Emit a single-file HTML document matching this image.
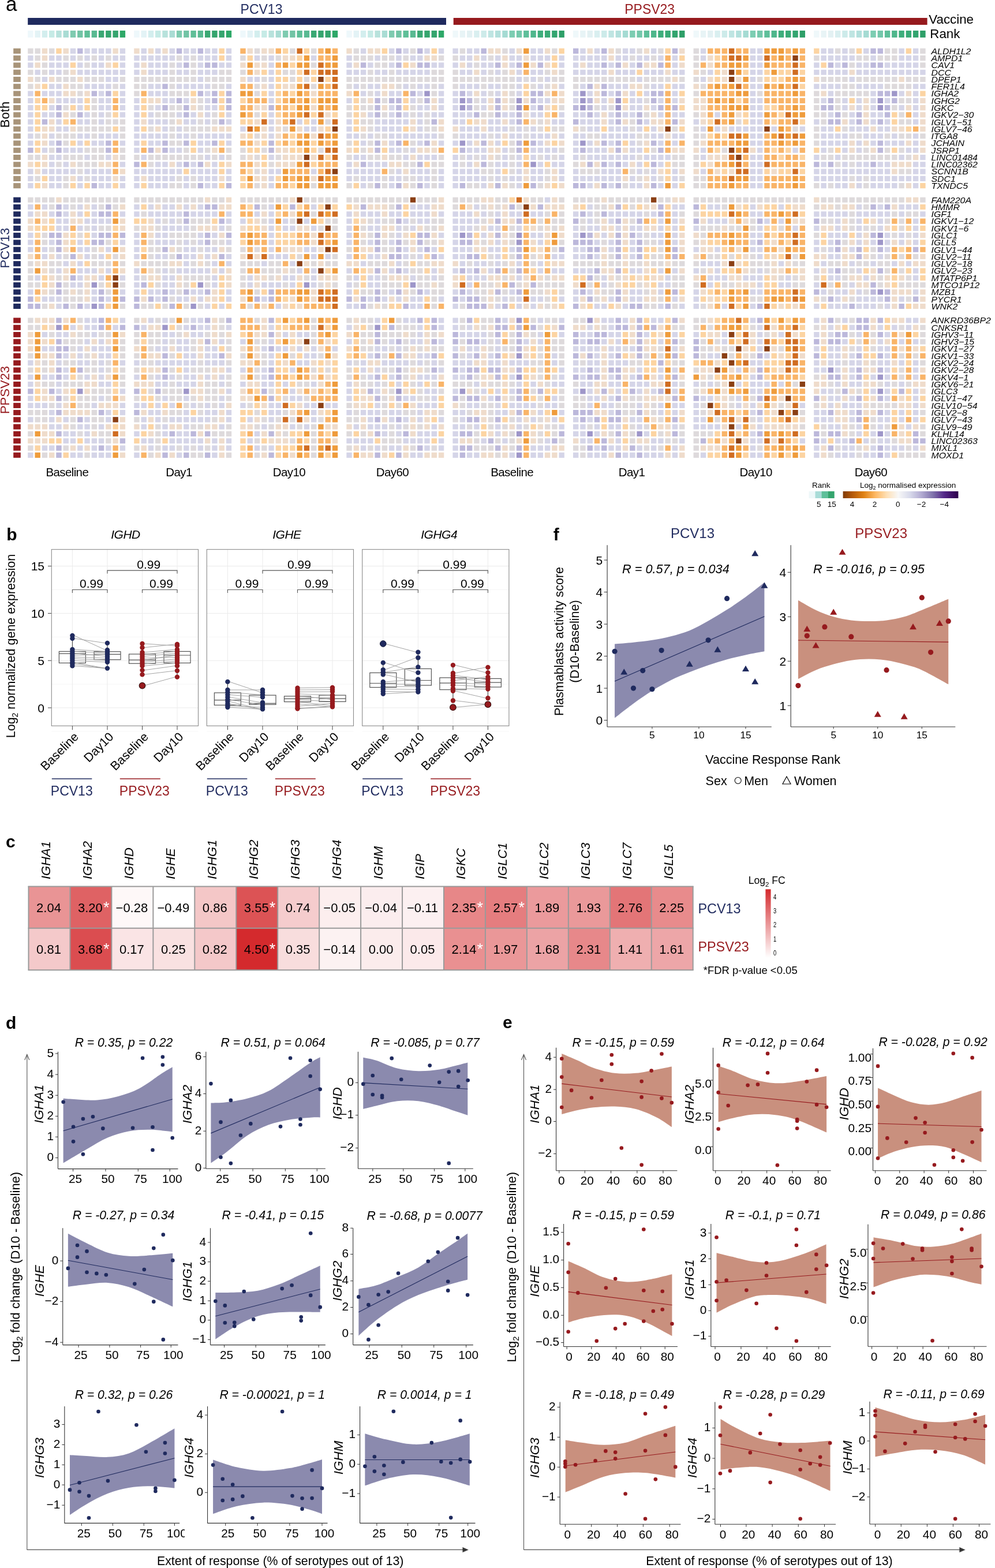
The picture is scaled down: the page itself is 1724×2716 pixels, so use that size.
<!DOCTYPE html>
<html><head><meta charset="utf-8"><title>Figure</title><style>html,body{margin:0;padding:0;background:#fff;}svg{display:block;}text{font-family:"Liberation Sans",Arial,sans-serif;}</style></head><body>
<svg xmlns="http://www.w3.org/2000/svg" width="1724" height="2716" viewBox="0 0 1724 2716" font-family="Liberation Sans, Arial, sans-serif">
<rect width="100%" height="100%" fill="#fff"/>
<text x="10" y="19" font-size="35">a</text>
<text x="453" y="24.3" font-size="23" text-anchor="middle" fill="#1f2a5e">PCV13</text>
<text x="1125.7" y="24.3" font-size="23" text-anchor="middle" fill="#961a1e">PPSV23</text>
<rect x="48.2" y="31" width="724.8" height="12" fill="#1f2a5e"/>
<rect x="785.7" y="31" width="820.9" height="12" fill="#961a1e"/>
<text x="1609.3" y="40.8" font-size="22.3">Vaccine</text>
<text x="1611.3" y="66.3" font-size="22.3">Rank</text>
<rect x="48.2" y="53" width="9.4" height="12" fill="#eef8fb"/>
<rect x="60.47" y="53" width="9.4" height="12" fill="#e3f3f6"/>
<rect x="72.74" y="53" width="9.4" height="12" fill="#d3eeee"/>
<rect x="85.01" y="53" width="9.4" height="12" fill="#c6ebe6"/>
<rect x="97.28" y="53" width="9.4" height="12" fill="#b8e2dc"/>
<rect x="109.55" y="53" width="9.4" height="12" fill="#a9dcd4"/>
<rect x="121.82" y="53" width="9.4" height="12" fill="#7fcbb0"/>
<rect x="134.09" y="53" width="9.4" height="12" fill="#72c4a5"/>
<rect x="146.36" y="53" width="9.4" height="12" fill="#5fbf98"/>
<rect x="158.63" y="53" width="9.4" height="12" fill="#59ba92"/>
<rect x="170.9" y="53" width="9.4" height="12" fill="#3aa873"/>
<rect x="183.17" y="53" width="9.4" height="12" fill="#35a56e"/>
<rect x="195.44" y="53" width="9.4" height="12" fill="#35a56e"/>
<rect x="207.71" y="53" width="9.4" height="12" fill="#2ea868"/>
<rect x="232.25" y="53" width="9.4" height="12" fill="#eef8fb"/>
<rect x="244.52" y="53" width="9.4" height="12" fill="#e3f3f6"/>
<rect x="256.79" y="53" width="9.4" height="12" fill="#d3eeee"/>
<rect x="269.06" y="53" width="9.4" height="12" fill="#c6ebe6"/>
<rect x="281.33" y="53" width="9.4" height="12" fill="#b8e2dc"/>
<rect x="293.6" y="53" width="9.4" height="12" fill="#a9dcd4"/>
<rect x="305.87" y="53" width="9.4" height="12" fill="#7fcbb0"/>
<rect x="318.14" y="53" width="9.4" height="12" fill="#72c4a5"/>
<rect x="330.41" y="53" width="9.4" height="12" fill="#5fbf98"/>
<rect x="342.68" y="53" width="9.4" height="12" fill="#59ba92"/>
<rect x="354.95" y="53" width="9.4" height="12" fill="#3aa873"/>
<rect x="367.22" y="53" width="9.4" height="12" fill="#35a56e"/>
<rect x="379.49" y="53" width="9.4" height="12" fill="#35a56e"/>
<rect x="391.76" y="53" width="9.4" height="12" fill="#2ea868"/>
<rect x="416.3" y="53" width="9.4" height="12" fill="#eef8fb"/>
<rect x="428.57" y="53" width="9.4" height="12" fill="#e3f3f6"/>
<rect x="440.84" y="53" width="9.4" height="12" fill="#d3eeee"/>
<rect x="453.11" y="53" width="9.4" height="12" fill="#c6ebe6"/>
<rect x="465.38" y="53" width="9.4" height="12" fill="#b8e2dc"/>
<rect x="477.65" y="53" width="9.4" height="12" fill="#a9dcd4"/>
<rect x="489.92" y="53" width="9.4" height="12" fill="#7fcbb0"/>
<rect x="502.19" y="53" width="9.4" height="12" fill="#72c4a5"/>
<rect x="514.46" y="53" width="9.4" height="12" fill="#5fbf98"/>
<rect x="526.73" y="53" width="9.4" height="12" fill="#59ba92"/>
<rect x="539" y="53" width="9.4" height="12" fill="#3aa873"/>
<rect x="551.27" y="53" width="9.4" height="12" fill="#35a56e"/>
<rect x="563.54" y="53" width="9.4" height="12" fill="#35a56e"/>
<rect x="575.81" y="53" width="9.4" height="12" fill="#2ea868"/>
<rect x="600.35" y="53" width="9.4" height="12" fill="#eef8fb"/>
<rect x="612.62" y="53" width="9.4" height="12" fill="#e3f3f6"/>
<rect x="624.89" y="53" width="9.4" height="12" fill="#d3eeee"/>
<rect x="637.16" y="53" width="9.4" height="12" fill="#c6ebe6"/>
<rect x="649.43" y="53" width="9.4" height="12" fill="#b8e2dc"/>
<rect x="661.7" y="53" width="9.4" height="12" fill="#a9dcd4"/>
<rect x="673.97" y="53" width="9.4" height="12" fill="#7fcbb0"/>
<rect x="686.24" y="53" width="9.4" height="12" fill="#72c4a5"/>
<rect x="698.51" y="53" width="9.4" height="12" fill="#5fbf98"/>
<rect x="710.78" y="53" width="9.4" height="12" fill="#59ba92"/>
<rect x="723.05" y="53" width="9.4" height="12" fill="#3aa873"/>
<rect x="735.32" y="53" width="9.4" height="12" fill="#35a56e"/>
<rect x="747.59" y="53" width="9.4" height="12" fill="#35a56e"/>
<rect x="759.86" y="53" width="9.4" height="12" fill="#2ea868"/>
<rect x="784.4" y="53" width="9.4" height="12" fill="#eff8fa"/>
<rect x="796.67" y="53" width="9.4" height="12" fill="#e8f4f6"/>
<rect x="808.94" y="53" width="9.4" height="12" fill="#e3f1f3"/>
<rect x="821.21" y="53" width="9.4" height="12" fill="#d9eff0"/>
<rect x="833.48" y="53" width="9.4" height="12" fill="#cdebea"/>
<rect x="845.75" y="53" width="9.4" height="12" fill="#bfe5e2"/>
<rect x="858.02" y="53" width="9.4" height="12" fill="#b3e0dc"/>
<rect x="870.29" y="53" width="9.4" height="12" fill="#a5dbd3"/>
<rect x="882.56" y="53" width="9.4" height="12" fill="#7ccdb2"/>
<rect x="894.83" y="53" width="9.4" height="12" fill="#74c8ab"/>
<rect x="907.1" y="53" width="9.4" height="12" fill="#5ebf9a"/>
<rect x="919.37" y="53" width="9.4" height="12" fill="#4fb78c"/>
<rect x="931.64" y="53" width="9.4" height="12" fill="#3eae7c"/>
<rect x="943.91" y="53" width="9.4" height="12" fill="#39aa76"/>
<rect x="956.18" y="53" width="9.4" height="12" fill="#33a56f"/>
<rect x="968.45" y="53" width="9.4" height="12" fill="#2e9f68"/>
<rect x="992.99" y="53" width="9.4" height="12" fill="#eff8fa"/>
<rect x="1005.26" y="53" width="9.4" height="12" fill="#e8f4f6"/>
<rect x="1017.53" y="53" width="9.4" height="12" fill="#e3f1f3"/>
<rect x="1029.8" y="53" width="9.4" height="12" fill="#d9eff0"/>
<rect x="1042.07" y="53" width="9.4" height="12" fill="#cdebea"/>
<rect x="1054.34" y="53" width="9.4" height="12" fill="#bfe5e2"/>
<rect x="1066.61" y="53" width="9.4" height="12" fill="#b3e0dc"/>
<rect x="1078.88" y="53" width="9.4" height="12" fill="#a5dbd3"/>
<rect x="1091.15" y="53" width="9.4" height="12" fill="#7ccdb2"/>
<rect x="1103.42" y="53" width="9.4" height="12" fill="#74c8ab"/>
<rect x="1115.69" y="53" width="9.4" height="12" fill="#5ebf9a"/>
<rect x="1127.96" y="53" width="9.4" height="12" fill="#4fb78c"/>
<rect x="1140.23" y="53" width="9.4" height="12" fill="#3eae7c"/>
<rect x="1152.5" y="53" width="9.4" height="12" fill="#39aa76"/>
<rect x="1164.77" y="53" width="9.4" height="12" fill="#33a56f"/>
<rect x="1177.04" y="53" width="9.4" height="12" fill="#2e9f68"/>
<rect x="1201.58" y="53" width="9.4" height="12" fill="#eff8fa"/>
<rect x="1213.85" y="53" width="9.4" height="12" fill="#e8f4f6"/>
<rect x="1226.12" y="53" width="9.4" height="12" fill="#e3f1f3"/>
<rect x="1238.39" y="53" width="9.4" height="12" fill="#d9eff0"/>
<rect x="1250.66" y="53" width="9.4" height="12" fill="#cdebea"/>
<rect x="1262.93" y="53" width="9.4" height="12" fill="#bfe5e2"/>
<rect x="1275.2" y="53" width="9.4" height="12" fill="#b3e0dc"/>
<rect x="1287.47" y="53" width="9.4" height="12" fill="#a5dbd3"/>
<rect x="1299.74" y="53" width="9.4" height="12" fill="#7ccdb2"/>
<rect x="1312.01" y="53" width="9.4" height="12" fill="#74c8ab"/>
<rect x="1324.28" y="53" width="9.4" height="12" fill="#5ebf9a"/>
<rect x="1336.55" y="53" width="9.4" height="12" fill="#4fb78c"/>
<rect x="1348.82" y="53" width="9.4" height="12" fill="#3eae7c"/>
<rect x="1361.09" y="53" width="9.4" height="12" fill="#39aa76"/>
<rect x="1373.36" y="53" width="9.4" height="12" fill="#33a56f"/>
<rect x="1385.63" y="53" width="9.4" height="12" fill="#2e9f68"/>
<rect x="1410.17" y="53" width="9.4" height="12" fill="#eff8fa"/>
<rect x="1422.44" y="53" width="9.4" height="12" fill="#e8f4f6"/>
<rect x="1434.71" y="53" width="9.4" height="12" fill="#e3f1f3"/>
<rect x="1446.98" y="53" width="9.4" height="12" fill="#d9eff0"/>
<rect x="1459.25" y="53" width="9.4" height="12" fill="#cdebea"/>
<rect x="1471.52" y="53" width="9.4" height="12" fill="#bfe5e2"/>
<rect x="1483.79" y="53" width="9.4" height="12" fill="#b3e0dc"/>
<rect x="1496.06" y="53" width="9.4" height="12" fill="#a5dbd3"/>
<rect x="1508.33" y="53" width="9.4" height="12" fill="#7ccdb2"/>
<rect x="1520.6" y="53" width="9.4" height="12" fill="#74c8ab"/>
<rect x="1532.87" y="53" width="9.4" height="12" fill="#5ebf9a"/>
<rect x="1545.14" y="53" width="9.4" height="12" fill="#4fb78c"/>
<rect x="1557.41" y="53" width="9.4" height="12" fill="#3eae7c"/>
<rect x="1569.68" y="53" width="9.4" height="12" fill="#39aa76"/>
<rect x="1581.95" y="53" width="9.4" height="12" fill="#33a56f"/>
<rect x="1594.22" y="53" width="9.4" height="12" fill="#2e9f68"/>
<g transform="translate(48.2 83.8) scale(12.27 12.28)" fill="none" stroke-width="0.7451"><path stroke="#dedadc" d="M0 0.3726h.766m.234 0h.766m1.234 0h.766m28.234 0h.766m4.234 0h.766m2.234 0h.766m5.234 0h.766m7.234 0h.766m6.234 0h.766m5.234 0h.766m6.234 0h.766m8.234 0h.766m2.234 0h.766m2.234 0h.766m4.234 0h.766m19.234 0h.766m1.234 0h.766m4.234 0h.766m.234 0h.766m3.234 0h.766M1 1.3726h.766m3.234 0h.766m1.234 0h.766m1.234 0h.766m1.234 0h.766m9.234 0h.766m1.234 0h.766m6.234 0h.766m2.234 0h.766m1.234 0h.766m10.234 0h.766m.234 0h.766m.234 0h.766m1.234 0h.766m.234 0h.766m1.234 0h.766m4.234 0h.766m1.234 0h.766m4.234 0h.766m19.234 0h.766m2.234 0h.766m5.234 0h.766m16.234 0h.766m5.234 0h.766m.234 0h.766m1.234 0h.766m.234 0h.766m.234 0h.766m3.234 0h.766M2 2.3726h.766m5.234 0h.766m11.234 0h.766m2.234 0h.766m16.234 0h.766m8.234 0h.766m.234 0h.766m12.234 0h.766m30.234 0h.766m21.234 0h.766m9.234 0h.766M0 3.3726h.766m1.234 0h.766m2.234 0h.766m14.234 0h.766m2.234 0h.766m3.234 0h.766m.234 0h.766m1.234 0h.766m5.234 0h.766m.234 0h.766m10.234 0h.766m2.234 0h.766m5.234 0h.766m.234 0h.766m1.234 0h.766m4.234 0h.766m1.234 0h.766m5.234 0h.766m1.234 0h.766m19.234 0h.766M1 4.3726h.766m2.234 0h.766m.234 0h.766m.234 0h.766m1.234 0h.766m.234 0h.766m.234 0h.766m2.234 0h.766m1.234 0h.766m.234 0h.766m.234 0h.766m.234 0h.766m.234 0h.766m.234 0h.766m.234 0h.766m.234 0h.766m.234 0h.766m1.234 0h.766m.234 0h.766m.234 0h.766m.234 0h.766m4.234 0h.766m3.234 0h.766m1.234 0h.766m5.234 0h.766m.234 0h.766m.234 0h.766m.234 0h.766m.234 0h.766m.234 0h.766m.234 0h.766m.234 0h.766m.234 0h.766m.234 0h.766m.234 0h.766m.234 0h.766m.234 0h.766m.234 0h.766m1.234 0h.766m.234 0h.766m.234 0h.766m.234 0h.766m.234 0h.766m.234 0h.766m.234 0h.766m.234 0h.766m.234 0h.766m1.234 0h.766m1.234 0h.766m1.234 0h.766m.234 0h.766m1.234 0h.766m.234 0h.766m.234 0h.766m.234 0h.766m.234 0h.766m.234 0h.766m.234 0h.766m.234 0h.766m.234 0h.766m1.234 0h.766m.234 0h.766m.234 0h.766m.234 0h.766m1.234 0h.766m1.234 0h.766m8.234 0h.766m8.234 0h.766m.234 0h.766m.234 0h.766m.234 0h.766m1.234 0h.766m.234 0h.766m.234 0h.766m.234 0h.766m.234 0h.766m.234 0h.766m1.234 0h.766m.234 0h.766m.234 0h.766M0 5.3726h.766m5.234 0h.766m.234 0h.766m4.234 0h.766m2.234 0h.766m.234 0h.766m3.234 0h.766m5.234 0h.766m.234 0h.766m4.234 0h.766m7.234 0h.766m4.234 0h.766m1.234 0h.766m4.234 0h.766m1.234 0h.766m2.234 0h.766m2.234 0h.766m3.234 0h.766m2.234 0h.766m.234 0h.766m2.234 0h.766m1.234 0h.766m3.234 0h.766m9.234 0h.766m7.234 0h.766m19.234 0h.766m.234 0h.766m4.234 0h.766m.234 0h.766m.234 0h.766m.234 0h.766M7 6.3726h.766m7.234 0h.766m4.234 0h.766m.234 0h.766m.234 0h.766m9.234 0h.766m15.234 0h.766m8.234 0h.766m7.234 0h.766m2.234 0h.766m25.234 0h.766m8.234 0h.766m7.234 0h.766m2.234 0h.766m.234 0h.766m.234 0h.766m.234 0h.766m.234 0h.766M9 7.3726h.766m14.234 0h.766m22.234 0h.766m2.234 0h.766m4.234 0h.766m7.234 0h.766m4.234 0h.766m18.234 0h.766m23.234 0h.766m2.234 0h.766m8.234 0h.766m.234 0h.766M5 8.3726h.766m3.234 0h.766m7.234 0h.766m2.234 0h.766m.234 0h.766m2.234 0h.766m20.234 0h.766m1.234 0h.766m.234 0h.766m5.234 0h.766m8.234 0h.766m4.234 0h.766m6.234 0h.766m4.234 0h.766m1.234 0h.766m28.234 0h.766m2.234 0h.766m7.234 0h.766M6 9.3726h.766m2.234 0h.766m1.234 0h.766m6.234 0h.766m.234 0h.766m.234 0h.766m5.234 0h.766m5.234 0h.766m12.234 0h.766m4.234 0h.766m3.234 0h.766m1.234 0h.766m7.234 0h.766m.234 0h.766m21.234 0h.766m6.234 0h.766m16.234 0h.766m.234 0h.766m2.234 0h.766m7.234 0h.766M9 10.3726h.766m1.234 0h.766m.234 0h.766m.234 0h.766m6.234 0h.766m3.234 0h.766m1.234 0h.766m15.234 0h.766m4.234 0h.766m.234 0h.766m7.234 0h.766m15.234 0h.766m12.234 0h.766m14.234 0h.766m11.234 0h.766m10.234 0h.766m.234 0h.766M7 11.3726h.766m.234 0h.766m.234 0h.766m.234 0h.766m.234 0h.766m1.234 0h.766m3.234 0h.766m2.234 0h.766m1.234 0h.766m.234 0h.766m.234 0h.766m.234 0h.766m10.234 0h.766m11.234 0h.766m7.234 0h.766m.234 0h.766m10.234 0h.766m1.234 0h.766m1.234 0h.766m1.234 0h.766m.234 0h.766m2.234 0h.766m6.234 0h.766m5.234 0h.766m2.234 0h.766m13.234 0h.766m2.234 0h.766m3.234 0h.766M1 12.3726h.766m2.234 0h.766m.234 0h.766m.234 0h.766m2.234 0h.766m3.234 0h.766m6.234 0h.766m2.234 0h.766m8.234 0h.766m14.234 0h.766m1.234 0h.766m.234 0h.766m7.234 0h.766m1.234 0h.766m4.234 0h.766m4.234 0h.766m8.234 0h.766m.234 0h.766m5.234 0h.766m.234 0h.766m6.234 0h.766m.234 0h.766m15.234 0h.766m4.234 0h.766m.234 0h.766m3.234 0h.766m1.234 0h.766m.234 0h.766m1.234 0h.766M5 13.3726h.766m14.234 0h.766m.234 0h.766m23.234 0h.766m2.234 0h.766m5.234 0h.766m13.234 0h.766m17.234 0h.766m7.234 0h.766m16.234 0h.766M3 14.3726h.766m4.234 0h.766m.234 0h.766m.234 0h.766m2.234 0h.766m8.234 0h.766m2.234 0h.766m2.234 0h.766m1.234 0h.766m2.234 0h.766m7.234 0h.766m5.234 0h.766m5.234 0h.766m14.234 0h.766m6.234 0h.766m12.234 0h.766m9.234 0h.766m14.234 0h.766m4.234 0h.766m2.234 0h.766m1.234 0h.766M0 15.3726h.766m.234 0h.766m3.234 0h.766m.234 0h.766m.234 0h.766m1.234 0h.766m.234 0h.766m2.234 0h.766m1.234 0h.766m1.234 0h.766m.234 0h.766m.234 0h.766m.234 0h.766m.234 0h.766m.234 0h.766m.234 0h.766m.234 0h.766m1.234 0h.766m1.234 0h.766m1.234 0h.766m1.234 0h.766m2.234 0h.766m9.234 0h.766m2.234 0h.766m.234 0h.766m1.234 0h.766m.234 0h.766m5.234 0h.766m2.234 0h.766m1.234 0h.766m2.234 0h.766m1.234 0h.766m3.234 0h.766m1.234 0h.766m3.234 0h.766m7.234 0h.766m4.234 0h.766m.234 0h.766m1.234 0h.766m17.234 0h.766m.234 0h.766m1.234 0h.766m.234 0h.766m.234 0h.766m.234 0h.766m.234 0h.766m.234 0h.766m.234 0h.766m.234 0h.766m1.234 0h.766M4 16.3726h.766m2.234 0h.766m.234 0h.766m.234 0h.766m7.234 0h.766m16.234 0h.766m18.234 0h.766m.234 0h.766m2.234 0h.766m.234 0h.766m2.234 0h.766m3.234 0h.766m2.234 0h.766m8.234 0h.766m13.234 0h.766m.234 0h.766m1.234 0h.766m19.234 0h.766m1.234 0h.766M7 17.3726h.766m24.234 0h.766m18.234 0h.766m5.234 0h.766m6.234 0h.766m.234 0h.766m2.234 0h.766m4.234 0h.766m4.234 0h.766m.234 0h.766m.234 0h.766m4.234 0h.766m1.234 0h.766m35.234 0h.766m.234 0h.766M1 18.3726h.766m3.234 0h.766m2.234 0h.766m12.234 0h.766m1.234 0h.766m22.234 0h.766m3.234 0h.766m2.234 0h.766m.234 0h.766m2.234 0h.766m7.234 0h.766m1.234 0h.766m5.234 0h.766m12.234 0h.766m2.234 0h.766m2.234 0h.766m1.234 0h.766m.234 0h.766m20.234 0h.766m1.234 0h.766M5 19.3726h.766m14.234 0h.766m.234 0h.766m1.234 0h.766m8.234 0h.766m7.234 0h.766m4.234 0h.766m2.234 0h.766m1.234 0h.766m3.234 0h.766m2.234 0h.766m4.234 0h.766m.234 0h.766m4.234 0h.766m3.234 0h.766m11.234 0h.766m9.234 0h.766m.234 0h.766m15.234 0h.766m1.234 0h.766m4.234 0h.766m4.234 0h.766M0 21.3726h.766m.234 0h.766m.234 0h.766m.234 0h.766m1.234 0h.766m.234 0h.766m.234 0h.766m.234 0h.766m.234 0h.766m.234 0h.766m.234 0h.766m.234 0h.766m.234 0h.766m1.234 0h.766m.234 0h.766m.234 0h.766m.234 0h.766m.234 0h.766m.234 0h.766m.234 0h.766m.234 0h.766m.234 0h.766m.234 0h.766m1.234 0h.766m.234 0h.766m2.234 0h.766m.234 0h.766m.234 0h.766m.234 0h.766m.234 0h.766m.234 0h.766m.234 0h.766m2.234 0h.766m.234 0h.766m.234 0h.766m.234 0h.766m.234 0h.766m1.234 0h.766m.234 0h.766m.234 0h.766m.234 0h.766m.234 0h.766m.234 0h.766m.234 0h.766m.234 0h.766m.234 0h.766m1.234 0h.766m.234 0h.766m.234 0h.766m2.234 0h.766m.234 0h.766m.234 0h.766m.234 0h.766m2.234 0h.766m.234 0h.766m3.234 0h.766m.234 0h.766m2.234 0h.766m1.234 0h.766m.234 0h.766m.234 0h.766m.234 0h.766m1.234 0h.766m.234 0h.766m.234 0h.766m.234 0h.766m.234 0h.766m.234 0h.766m1.234 0h.766m.234 0h.766m3.234 0h.766m.234 0h.766m.234 0h.766m.234 0h.766m.234 0h.766m.234 0h.766m.234 0h.766m.234 0h.766m.234 0h.766m.234 0h.766m.234 0h.766m.234 0h.766m.234 0h.766m.234 0h.766m.234 0h.766m.234 0h.766m2.234 0h.766m.234 0h.766m.234 0h.766m.234 0h.766m.234 0h.766m.234 0h.766m.234 0h.766m.234 0h.766m.234 0h.766m.234 0h.766m.234 0h.766m.234 0h.766m2.234 0h.766M3 22.3726h.766m2.234 0h.766m3.234 0h.766m1.234 0h.766m20.234 0h.766m17.234 0h.766m8.234 0h.766m3.234 0h.766m1.234 0h.766m2.234 0h.766m10.234 0h.766m.234 0h.766m3.234 0h.766m12.234 0h.766m12.234 0h.766m2.234 0h.766m3.234 0h.766M16 23.3726h.766m23.234 0h.766m24.234 0h.766m7.234 0h.766m1.234 0h.766m4.234 0h.766m6.234 0h.766m4.234 0h.766m1.234 0h.766m21.234 0h.766m5.234 0h.766m1.234 0h.766m.234 0h.766M19 24.3726h.766m1.234 0h.766m1.234 0h.766m.234 0h.766m.234 0h.766m7.234 0h.766m3.234 0h.766m4.234 0h.766m.234 0h.766m4.234 0h.766m1.234 0h.766m.234 0h.766m2.234 0h.766m2.234 0h.766m.234 0h.766m5.234 0h.766m7.234 0h.766m1.234 0h.766m.234 0h.766m2.234 0h.766m1.234 0h.766m4.234 0h.766m16.234 0h.766m9.234 0h.766m.234 0h.766m2.234 0h.766m4.234 0h.766m1.234 0h.766M8 25.3726h.766m1.234 0h.766m.234 0h.766m3.234 0h.766m2.234 0h.766m4.234 0h.766m4.234 0h.766m12.234 0h.766m1.234 0h.766m3.234 0h.766m5.234 0h.766m2.234 0h.766m.234 0h.766m5.234 0h.766m4.234 0h.766m3.234 0h.766m1.234 0h.766m3.234 0h.766m16.234 0h.766m.234 0h.766m.234 0h.766m1.234 0h.766m.234 0h.766m1.234 0h.766m3.234 0h.766m9.234 0h.766m1.234 0h.766m.234 0h.766m3.234 0h.766M2 26.3726h.766m4.234 0h.766m12.234 0h.766m.234 0h.766m.234 0h.766m.234 0h.766m24.234 0h.766m2.234 0h.766m16.234 0h.766m18.234 0h.766m7.234 0h.766m15.234 0h.766m10.234 0h.766m1.234 0h.766M2 27.3726h.766m8.234 0h.766m5.234 0h.766m3.234 0h.766m1.234 0h.766m2.234 0h.766m.234 0h.766m19.234 0h.766m2.234 0h.766m2.234 0h.766m2.234 0h.766m.234 0h.766m6.234 0h.766m3.234 0h.766m6.234 0h.766m5.234 0h.766m5.234 0h.766m.234 0h.766m5.234 0h.766m20.234 0h.766M3 28.3726h.766m5.234 0h.766m7.234 0h.766m.234 0h.766m2.234 0h.766m2.234 0h.766m3.234 0h.766m1.234 0h.766m1.234 0h.766m12.234 0h.766m4.234 0h.766m.234 0h.766m22.234 0h.766m14.234 0h.766m22.234 0h.766m6.234 0h.766M5 29.3726h.766m3.234 0h.766m2.234 0h.766m4.234 0h.766m2.234 0h.766m17.234 0h.766m4.234 0h.766m10.234 0h.766m10.234 0h.766m2.234 0h.766m2.234 0h.766m10.234 0h.766m5.234 0h.766m.234 0h.766m6.234 0h.766m.234 0h.766m1.234 0h.766m2.234 0h.766m5.234 0h.766m10.234 0h.766m1.234 0h.766m1.234 0h.766m1.234 0h.766M0 30.3726h.766m2.234 0h.766m.234 0h.766m4.234 0h.766m.234 0h.766m.234 0h.766m1.234 0h.766m2.234 0h.766m.234 0h.766m.234 0h.766m.234 0h.766m3.234 0h.766m1.234 0h.766m4.234 0h.766m.234 0h.766m.234 0h.766m1.234 0h.766m.234 0h.766m4.234 0h.766m1.234 0h.766m.234 0h.766m4.234 0h.766m.234 0h.766m.234 0h.766m2.234 0h.766m1.234 0h.766m.234 0h.766m5.234 0h.766m2.234 0h.766m1.234 0h.766m3.234 0h.766m5.234 0h.766m.234 0h.766m.234 0h.766m.234 0h.766m1.234 0h.766m.234 0h.766m1.234 0h.766m.234 0h.766m1.234 0h.766m.234 0h.766m1.234 0h.766m.234 0h.766m1.234 0h.766m7.234 0h.766m.234 0h.766m.234 0h.766m3.234 0h.766m.234 0h.766m3.234 0h.766m.234 0h.766m2.234 0h.766m.234 0h.766m1.234 0h.766m.234 0h.766M0 31.3726h.766m2.234 0h.766m14.234 0h.766m1.234 0h.766m9.234 0h.766m2.234 0h.766m.234 0h.766m.234 0h.766m1.234 0h.766m16.234 0h.766m.234 0h.766m12.234 0h.766m26.234 0h.766m6.234 0h.766m1.234 0h.766m10.234 0h.766m.234 0h.766m4.234 0h.766m1.234 0h.766M0 32.3726h.766m3.234 0h.766m11.234 0h.766m5.234 0h.766m.234 0h.766m.234 0h.766m.234 0h.766m4.234 0h.766m3.234 0h.766m4.234 0h.766m5.234 0h.766m4.234 0h.766m4.234 0h.766m.234 0h.766m1.234 0h.766m8.234 0h.766m5.234 0h.766m6.234 0h.766m2.234 0h.766m7.234 0h.766m.234 0h.766m13.234 0h.766m1.234 0h.766m2.234 0h.766m3.234 0h.766m4.234 0h.766m3.234 0h.766M0 33.3726h.766m.234 0h.766m3.234 0h.766m4.234 0h.766m2.234 0h.766m4.234 0h.766m3.234 0h.766m2.234 0h.766m4.234 0h.766m5.234 0h.766m4.234 0h.766m1.234 0h.766m2.234 0h.766m3.234 0h.766m.234 0h.766m.234 0h.766m2.234 0h.766m.234 0h.766m1.234 0h.766m5.234 0h.766m.234 0h.766m3.234 0h.766m2.234 0h.766m.234 0h.766m.234 0h.766m.234 0h.766m3.234 0h.766m2.234 0h.766m3.234 0h.766m4.234 0h.766m.234 0h.766m1.234 0h.766m3.234 0h.766m.234 0h.766m8.234 0h.766m.234 0h.766m3.234 0h.766m1.234 0h.766m4.234 0h.766m2.234 0h.766m.234 0h.766m.234 0h.766m.234 0h.766M3 34.3726h.766m1.234 0h.766m1.234 0h.766m3.234 0h.766m9.234 0h.766m10.234 0h.766m14.234 0h.766m.234 0h.766m1.234 0h.766m3.234 0h.766m2.234 0h.766m.234 0h.766m4.234 0h.766m.234 0h.766m2.234 0h.766m3.234 0h.766m.234 0h.766m2.234 0h.766m5.234 0h.766m.234 0h.766m4.234 0h.766m25.234 0h.766m4.234 0h.766M5 35.3726h.766m.234 0h.766m.234 0h.766m12.234 0h.766m36.234 0h.766m6.234 0h.766m1.234 0h.766m1.234 0h.766m4.234 0h.766m6.234 0h.766m8.234 0h.766m12.234 0h.766m.234 0h.766m8.234 0h.766m3.234 0h.766m7.234 0h.766M2 36.3726h.766m3.234 0h.766m6.234 0h.766m2.234 0h.766m.234 0h.766m1.234 0h.766m2.234 0h.766m1.234 0h.766m6.234 0h.766m16.234 0h.766m1.234 0h.766m6.234 0h.766m3.234 0h.766m11.234 0h.766m13.234 0h.766m.234 0h.766m2.234 0h.766m3.234 0h.766m24.234 0h.766M0 38.3726h.766m6.234 0h.766m7.234 0h.766m2.234 0h.766m1.234 0h.766m1.234 0h.766m4.234 0h.766m4.234 0h.766m7.234 0h.766m4.234 0h.766m1.234 0h.766m.234 0h.766m3.234 0h.766m8.234 0h.766m2.234 0h.766m.234 0h.766m5.234 0h.766m1.234 0h.766m.234 0h.766m2.234 0h.766m.234 0h.766m15.234 0h.766m.234 0h.766m18.234 0h.766m1.234 0h.766M0 39.3726h.766m.234 0h.766m19.234 0h.766m5.234 0h.766m12.234 0h.766m7.234 0h.766m3.234 0h.766m.234 0h.766m.234 0h.766m6.234 0h.766m2.234 0h.766m7.234 0h.766m8.234 0h.766m9.234 0h.766m.234 0h.766m1.234 0h.766m1.234 0h.766m5.234 0h.766m8.234 0h.766m11.234 0h.766m2.234 0h.766M3 40.3726h.766m3.234 0h.766m.234 0h.766m1.234 0h.766m.234 0h.766m3.234 0h.766m1.234 0h.766m.234 0h.766m2.234 0h.766m3.234 0h.766m1.234 0h.766m12.234 0h.766m6.234 0h.766m.234 0h.766m1.234 0h.766m.234 0h.766m.234 0h.766m1.234 0h.766m2.234 0h.766m7.234 0h.766m2.234 0h.766m2.234 0h.766m32.234 0h.766m11.234 0h.766m2.234 0h.766m6.234 0h.766M5 41.3726h.766m.234 0h.766m.234 0h.766m5.234 0h.766m1.234 0h.766m1.234 0h.766m.234 0h.766m1.234 0h.766m2.234 0h.766m4.234 0h.766m3.234 0h.766m.234 0h.766m6.234 0h.766m6.234 0h.766m2.234 0h.766m2.234 0h.766m7.234 0h.766m3.234 0h.766m2.234 0h.766m5.234 0h.766m.234 0h.766m16.234 0h.766m2.234 0h.766m1.234 0h.766m19.234 0h.766m8.234 0h.766M6 42.3726h.766m6.234 0h.766m3.234 0h.766m5.234 0h.766m4.234 0h.766m18.234 0h.766m.234 0h.766m2.234 0h.766m1.234 0h.766m1.234 0h.766m1.234 0h.766m.234 0h.766m6.234 0h.766m1.234 0h.766m.234 0h.766m3.234 0h.766m1.234 0h.766m.234 0h.766m8.234 0h.766m4.234 0h.766m5.234 0h.766m.234 0h.766m1.234 0h.766m.234 0h.766m6.234 0h.766m9.234 0h.766m2.234 0h.766M0 43.3726h.766m7.234 0h.766m4.234 0h.766m1.234 0h.766m4.234 0h.766m9.234 0h.766m2.234 0h.766m3.234 0h.766m3.234 0h.766m8.234 0h.766m10.234 0h.766m10.234 0h.766m2.234 0h.766m11.234 0h.766m1.234 0h.766m5.234 0h.766m3.234 0h.766m2.234 0h.766m20.234 0h.766m1.234 0h.766M2 44.3726h.766m2.234 0h.766m.234 0h.766m2.234 0h.766m1.234 0h.766m4.234 0h.766m.234 0h.766m6.234 0h.766m3.234 0h.766m4.234 0h.766m12.234 0h.766m7.234 0h.766m1.234 0h.766m1.234 0h.766m12.234 0h.766m.234 0h.766m2.234 0h.766m2.234 0h.766m6.234 0h.766m.234 0h.766m4.234 0h.766m.234 0h.766m22.234 0h.766m3.234 0h.766m6.234 0h.766M0 45.3726h.766m1.234 0h.766m5.234 0h.766m.234 0h.766m1.234 0h.766m1.234 0h.766m1.234 0h.766m4.234 0h.766m2.234 0h.766m.234 0h.766m.234 0h.766m6.234 0h.766m7.234 0h.766m1.234 0h.766m2.234 0h.766m4.234 0h.766m.234 0h.766m1.234 0h.766m2.234 0h.766m15.234 0h.766m21.234 0h.766m28.234 0h.766M7 46.3726h.766m5.234 0h.766m3.234 0h.766m3.234 0h.766m6.234 0h.766m3.234 0h.766m12.234 0h.766m1.234 0h.766m5.234 0h.766m9.234 0h.766m8.234 0h.766m1.234 0h.766m21.234 0h.766m14.234 0h.766m11.234 0h.766M2 47.3726h.766m.234 0h.766m1.234 0h.766m.234 0h.766m.234 0h.766m5.234 0h.766m6.234 0h.766m4.234 0h.766m.234 0h.766m1.234 0h.766m9.234 0h.766m.234 0h.766m7.234 0h.766m.234 0h.766m1.234 0h.766m3.234 0h.766m2.234 0h.766m2.234 0h.766m.234 0h.766m.234 0h.766m2.234 0h.766m.234 0h.766m1.234 0h.766m4.234 0h.766m3.234 0h.766m14.234 0h.766m2.234 0h.766m1.234 0h.766m10.234 0h.766m4.234 0h.766m6.234 0h.766m1.234 0h.766m1.234 0h.766M9 48.3726h.766m.234 0h.766m.234 0h.766m5.234 0h.766m1.234 0h.766m.234 0h.766m.234 0h.766m3.234 0h.766m.234 0h.766m7.234 0h.766m16.234 0h.766m3.234 0h.766m2.234 0h.766m4.234 0h.766m7.234 0h.766m3.234 0h.766m18.234 0h.766m19.234 0h.766m2.234 0h.766M5 49.3726h.766m1.234 0h.766m.234 0h.766m.234 0h.766m1.234 0h.766m3.234 0h.766m2.234 0h.766m1.234 0h.766m.234 0h.766m1.234 0h.766m1.234 0h.766m.234 0h.766m1.234 0h.766m7.234 0h.766m2.234 0h.766m10.234 0h.766m4.234 0h.766m.234 0h.766m4.234 0h.766m6.234 0h.766m3.234 0h.766m2.234 0h.766m1.234 0h.766m.234 0h.766m6.234 0h.766m.234 0h.766m12.234 0h.766m2.234 0h.766M3 50.3726h.766m3.234 0h.766m.234 0h.766m13.234 0h.766m1.234 0h.766m1.234 0h.766m4.234 0h.766m13.234 0h.766m4.234 0h.766m1.234 0h.766m8.234 0h.766m2.234 0h.766m.234 0h.766m6.234 0h.766m2.234 0h.766m1.234 0h.766m.234 0h.766m4.234 0h.766m.234 0h.766m.234 0h.766m2.234 0h.766m6.234 0h.766m3.234 0h.766m6.234 0h.766m4.234 0h.766m7.234 0h.766m.234 0h.766m.234 0h.766m.234 0h.766M0 51.3726h.766m.234 0h.766m.234 0h.766m6.234 0h.766m10.234 0h.766m.234 0h.766m2.234 0h.766m7.234 0h.766m3.234 0h.766m9.234 0h.766m3.234 0h.766m2.234 0h.766m.234 0h.766m3.234 0h.766m3.234 0h.766m2.234 0h.766m18.234 0h.766m.234 0h.766m2.234 0h.766m6.234 0h.766m13.234 0h.766m16.234 0h.766M1 52.3726h.766m.234 0h.766m3.234 0h.766m2.234 0h.766m.234 0h.766m4.234 0h.766m3.234 0h.766m6.234 0h.766m6.234 0h.766m1.234 0h.766m1.234 0h.766m3.234 0h.766m3.234 0h.766m.234 0h.766m13.234 0h.766m4.234 0h.766m2.234 0h.766m3.234 0h.766m16.234 0h.766m7.234 0h.766m4.234 0h.766m16.234 0h.766M6 53.3726h.766m2.234 0h.766m8.234 0h.766m4.234 0h.766m.234 0h.766m3.234 0h.766m3.234 0h.766m1.234 0h.766m3.234 0h.766m1.234 0h.766m10.234 0h.766m1.234 0h.766m1.234 0h.766m6.234 0h.766m2.234 0h.766m1.234 0h.766m2.234 0h.766m2.234 0h.766m.234 0h.766m4.234 0h.766m5.234 0h.766m1.234 0h.766m4.234 0h.766m16.234 0h.766m2.234 0h.766m3.234 0h.766m2.234 0h.766m1.234 0h.766m4.234 0h.766M0 54.3726h.766m6.234 0h.766m2.234 0h.766m.234 0h.766m6.234 0h.766m7.234 0h.766m.234 0h.766m.234 0h.766m7.234 0h.766m3.234 0h.766m4.234 0h.766m1.234 0h.766m3.234 0h.766m11.234 0h.766m4.234 0h.766m3.234 0h.766m1.234 0h.766m7.234 0h.766m2.234 0h.766m3.234 0h.766m2.234 0h.766m1.234 0h.766m.234 0h.766m.234 0h.766m15.234 0h.766m3.234 0h.766m9.234 0h.766M11 55.3726h.766m6.234 0h.766m13.234 0h.766m4.234 0h.766m2.234 0h.766m9.234 0h.766m.234 0h.766m.234 0h.766m10.234 0h.766m2.234 0h.766m1.234 0h.766m3.234 0h.766m2.234 0h.766m9.234 0h.766m4.234 0h.766m.234 0h.766m2.234 0h.766m24.234 0h.766m2.234 0h.766M0 56.3726h.766m4.234 0h.766m9.234 0h.766m2.234 0h.766m2.234 0h.766m1.234 0h.766m1.234 0h.766m7.234 0h.766m6.234 0h.766m4.234 0h.766m2.234 0h.766m1.234 0h.766m3.234 0h.766m2.234 0h.766m5.234 0h.766m.234 0h.766m.234 0h.766m2.234 0h.766m8.234 0h.766m.234 0h.766m8.234 0h.766m1.234 0h.766m4.234 0h.766m8.234 0h.766m10.234 0h.766m2.234 0h.766m6.234 0h.766M2 57.3726h.766m5.234 0h.766m8.234 0h.766m5.234 0h.766m.234 0h.766m3.234 0h.766m3.234 0h.766m7.234 0h.766m25.234 0h.766m11.234 0h.766m15.234 0h.766m18.234 0h.766m3.234 0h.766m5.234 0h.766m.234 0h.766m.234 0h.766m.234 0h.766"/><path stroke="#efdccb" d="M2 0.3726h.766m2.234 0h.766m6.234 0h.766m2.234 0h.766m1.234 0h.766m1.234 0h.766m11.234 0h.766m1.234 0h.766m.234 0h.766m10.234 0h.766m2.234 0h.766m.234 0h.766m15.234 0h.766m.234 0h.766m2.234 0h.766m3.234 0h.766m5.234 0h.766m2.234 0h.766m4.234 0h.766m4.234 0h.766M2 1.3726h.766m33.234 0h.766m.234 0h.766m18.234 0h.766m.234 0h.766m5.234 0h.766m3.234 0h.766m2.234 0h.766m11.234 0h.766m13.234 0h.766M1 2.3726h.766m9.234 0h.766m4.234 0h.766m13.234 0h.766m1.234 0h.766m.234 0h.766m12.234 0h.766m7.234 0h.766m6.234 0h.766m5.234 0h.766m3.234 0h.766m1.234 0h.766m4.234 0h.766m5.234 0h.766m2.234 0h.766m.234 0h.766m3.234 0h.766m3.234 0h.766M6 3.3726h.766m9.234 0h.766m15.234 0h.766m30.234 0h.766m4.234 0h.766m5.234 0h.766m7.234 0h.766m7.234 0h.766m3.234 0h.766m3.234 0h.766m17.234 0h.766M0 4.3726h.766m2.234 0h.766m3.234 0h.766m22.234 0h.766m60.234 0h.766m4.234 0h.766m1.234 0h.766m1.234 0h.766m10.234 0h.766m11.234 0h.766M1 5.3726h.766m3.234 0h.766m27.234 0h.766m2.234 0h.766m.234 0h.766m12.234 0h.766m.234 0h.766m22.234 0h.766m5.234 0h.766m4.234 0h.766m.234 0h.766m7.234 0h.766M5 6.3726h.766m.234 0h.766m1.234 0h.766m31.234 0h.766m4.234 0h.766m4.234 0h.766m12.234 0h.766m3.234 0h.766m5.234 0h.766m1.234 0h.766m4.234 0h.766m3.234 0h.766m27.234 0h.766m11.234 0h.766M3 7.3726h.766m13.234 0h.766m.234 0h.766m4.234 0h.766m24.234 0h.766m8.234 0h.766m7.234 0h.766m1.234 0h.766m2.234 0h.766m3.234 0h.766m.234 0h.766m4.234 0h.766m1.234 0h.766m9.234 0h.766m1.234 0h.766m.234 0h.766m22.234 0h.766m7.234 0h.766M23 8.3726h.766m8.234 0h.766m.234 0h.766m6.234 0h.766m9.234 0h.766m6.234 0h.766m7.234 0h.766m1.234 0h.766m5.234 0h.766m10.234 0h.766m2.234 0h.766m6.234 0h.766m.234 0h.766m20.234 0h.766m1.234 0h.766m5.234 0h.766m1.234 0h.766M5 9.3726h.766m18.234 0h.766m17.234 0h.766m4.234 0h.766m22.234 0h.766m10.234 0h.766m6.234 0h.766m6.234 0h.766m4.234 0h.766m17.234 0h.766m7.234 0h.766M3 10.3726h.766m12.234 0h.766m4.234 0h.766m10.234 0h.766m2.234 0h.766m18.234 0h.766m3.234 0h.766m4.234 0h.766m.234 0h.766m2.234 0h.766m3.234 0h.766m1.234 0h.766m7.234 0h.766m2.234 0h.766m3.234 0h.766m.234 0h.766m2.234 0h.766m2.234 0h.766m19.234 0h.766m2.234 0h.766m7.234 0h.766M2 11.3726h.766m.234 0h.766m2.234 0h.766m11.234 0h.766m7.234 0h.766m.234 0h.766m.234 0h.766m4.234 0h.766m1.234 0h.766m2.234 0h.766m2.234 0h.766m5.234 0h.766m6.234 0h.766m3.234 0h.766m1.234 0h.766m3.234 0h.766m12.234 0h.766m11.234 0h.766m8.234 0h.766m20.234 0h.766m2.234 0h.766m.234 0h.766m2.234 0h.766M2 12.3726h.766m27.234 0h.766m2.234 0h.766m1.234 0h.766m4.234 0h.766m26.234 0h.766m6.234 0h.766m15.234 0h.766M2 13.3726h.766m29.234 0h.766m17.234 0h.766m6.234 0h.766m5.234 0h.766m1.234 0h.766m7.234 0h.766m1.234 0h.766m4.234 0h.766m6.234 0h.766m7.234 0h.766m20.234 0h.766m1.234 0h.766m5.234 0h.766m1.234 0h.766M18 14.3726h.766m7.234 0h.766m8.234 0h.766m.234 0h.766m8.234 0h.766m2.234 0h.766m6.234 0h.766m.234 0h.766m.234 0h.766m7.234 0h.766m.234 0h.766m15.234 0h.766m1.234 0h.766m6.234 0h.766m.234 0h.766m1.234 0h.766m7.234 0h.766m13.234 0h.766m2.234 0h.766m6.234 0h.766M2 15.3726h.766m9.234 0h.766m18.234 0h.766m4.234 0h.766m.234 0h.766m.234 0h.766m1.234 0h.766m9.234 0h.766m3.234 0h.766m10.234 0h.766m30.234 0h.766m.234 0h.766m.234 0h.766m26.234 0h.766M0 16.3726h.766m1.234 0h.766m3.234 0h.766m3.234 0h.766m.234 0h.766m8.234 0h.766m4.234 0h.766m2.234 0h.766m3.234 0h.766m2.234 0h.766m.234 0h.766m.234 0h.766m8.234 0h.766m4.234 0h.766m.234 0h.766m10.234 0h.766m14.234 0h.766m1.234 0h.766m4.234 0h.766m10.234 0h.766m25.234 0h.766m.234 0h.766m.234 0h.766M1 17.3726h.766m11.234 0h.766m19.234 0h.766m19.234 0h.766m16.234 0h.766m3.234 0h.766m14.234 0h.766m2.234 0h.766m1.234 0h.766m2.234 0h.766m1.234 0h.766m5.234 0h.766m16.234 0h.766M6 18.3726h.766m5.234 0h.766m3.234 0h.766m10.234 0h.766m4.234 0h.766m.234 0h.766m6.234 0h.766m29.234 0h.766m3.234 0h.766m9.234 0h.766m2.234 0h.766M2 19.3726h.766m30.234 0h.766m19.234 0h.766m11.234 0h.766m1.234 0h.766m5.234 0h.766m1.234 0h.766m4.234 0h.766m6.234 0h.766m28.234 0h.766m7.234 0h.766M4 21.3726h.766m20.234 0h.766m2.234 0h.766m8.234 0h.766m20.234 0h.766m5.234 0h.766m.234 0h.766m4.234 0h.766m3.234 0h.766m6.234 0h.766m9.234 0h.766m.234 0h.766m18.234 0h.766m12.234 0h.766m.234 0h.766M8 22.3726h.766m4.234 0h.766m4.234 0h.766m2.234 0h.766m1.234 0h.766m3.234 0h.766m.234 0h.766m17.234 0h.766m1.234 0h.766m.234 0h.766m.234 0h.766m6.234 0h.766m.234 0h.766m3.234 0h.766m2.234 0h.766m1.234 0h.766m3.234 0h.766m1.234 0h.766m.234 0h.766m.234 0h.766m1.234 0h.766m4.234 0h.766m4.234 0h.766m.234 0h.766m11.234 0h.766m2.234 0h.766m4.234 0h.766m.234 0h.766m2.234 0h.766m.234 0h.766m1.234 0h.766m.234 0h.766m5.234 0h.766M1 23.3726h.766m.234 0h.766m3.234 0h.766m26.234 0h.766m3.234 0h.766m8.234 0h.766m3.234 0h.766m6.234 0h.766m5.234 0h.766m3.234 0h.766M0 24.3726h.766m1.234 0h.766m3.234 0h.766m.234 0h.766m5.234 0h.766m3.234 0h.766m14.234 0h.766m14.234 0h.766m17.234 0h.766m1.234 0h.766m.234 0h.766m12.234 0h.766m2.234 0h.766m7.234 0h.766m2.234 0h.766m3.234 0h.766m1.234 0h.766m6.234 0h.766m.234 0h.766m5.234 0h.766m3.234 0h.766M0 25.3726h.766m12.234 0h.766m2.234 0h.766m.234 0h.766m6.234 0h.766m.234 0h.766m.234 0h.766m3.234 0h.766m2.234 0h.766m4.234 0h.766m.234 0h.766m10.234 0h.766m.234 0h.766m3.234 0h.766m2.234 0h.766m5.234 0h.766m6.234 0h.766m1.234 0h.766m1.234 0h.766m5.234 0h.766m.234 0h.766m1.234 0h.766m2.234 0h.766m.234 0h.766m9.234 0h.766m13.234 0h.766m.234 0h.766m1.234 0h.766m5.234 0h.766M5 26.3726h.766m11.234 0h.766m9.234 0h.766m12.234 0h.766m6.234 0h.766m2.234 0h.766m2.234 0h.766m3.234 0h.766m7.234 0h.766m1.234 0h.766m5.234 0h.766m1.234 0h.766m4.234 0h.766m1.234 0h.766m1.234 0h.766m7.234 0h.766m1.234 0h.766m23.234 0h.766m7.234 0h.766M5 27.3726h.766m34.234 0h.766m13.234 0h.766m3.234 0h.766m4.234 0h.766m1.234 0h.766m1.234 0h.766m3.234 0h.766m12.234 0h.766m7.234 0h.766m2.234 0h.766m9.234 0h.766m10.234 0h.766m1.234 0h.766m3.234 0h.766m1.234 0h.766M5 28.3726h.766m4.234 0h.766m2.234 0h.766m6.234 0h.766m6.234 0h.766m8.234 0h.766m.234 0h.766m.234 0h.766m2.234 0h.766m5.234 0h.766m.234 0h.766m5.234 0h.766m8.234 0h.766m.234 0h.766m7.234 0h.766m8.234 0h.766m10.234 0h.766m2.234 0h.766m.234 0h.766m3.234 0h.766m5.234 0h.766m8.234 0h.766M0 29.3726h.766m2.234 0h.766m3.234 0h.766m5.234 0h.766m10.234 0h.766m1.234 0h.766m3.234 0h.766m1.234 0h.766m17.234 0h.766m21.234 0h.766m8.234 0h.766m2.234 0h.766m9.234 0h.766m6.234 0h.766m3.234 0h.766m5.234 0h.766m.234 0h.766m2.234 0h.766m.234 0h.766m1.234 0h.766m7.234 0h.766M1 30.3726h.766m.234 0h.766m3.234 0h.766m8.234 0h.766m4.234 0h.766m.234 0h.766m2.234 0h.766m14.234 0h.766m1.234 0h.766m3.234 0h.766m.234 0h.766m4.234 0h.766m5.234 0h.766m.234 0h.766m1.234 0h.766m7.234 0h.766m5.234 0h.766m.234 0h.766m5.234 0h.766m2.234 0h.766m2.234 0h.766m2.234 0h.766m7.234 0h.766m1.234 0h.766m4.234 0h.766m1.234 0h.766m3.234 0h.766m3.234 0h.766m7.234 0h.766m1.234 0h.766m.234 0h.766M2 31.3726h.766m2.234 0h.766m4.234 0h.766m2.234 0h.766m3.234 0h.766m8.234 0h.766m1.234 0h.766m7.234 0h.766m11.234 0h.766m1.234 0h.766m7.234 0h.766m5.234 0h.766m16.234 0h.766m.234 0h.766m4.234 0h.766m4.234 0h.766m3.234 0h.766m4.234 0h.766m3.234 0h.766m.234 0h.766m2.234 0h.766m2.234 0h.766m6.234 0h.766M3 32.3726h.766m1.234 0h.766m2.234 0h.766m.234 0h.766m7.234 0h.766m.234 0h.766m2.234 0h.766m6.234 0h.766m3.234 0h.766m.234 0h.766m1.234 0h.766m2.234 0h.766m2.234 0h.766m.234 0h.766m.234 0h.766m7.234 0h.766m.234 0h.766m.234 0h.766m6.234 0h.766m4.234 0h.766m.234 0h.766m1.234 0h.766m1.234 0h.766m1.234 0h.766m1.234 0h.766m.234 0h.766m6.234 0h.766m1.234 0h.766m1.234 0h.766m1.234 0h.766m.234 0h.766m4.234 0h.766m4.234 0h.766m.234 0h.766m4.234 0h.766m3.234 0h.766m6.234 0h.766m.234 0h.766m1.234 0h.766m1.234 0h.766m1.234 0h.766M3 33.3726h.766m4.234 0h.766m12.234 0h.766m6.234 0h.766m3.234 0h.766m9.234 0h.766m14.234 0h.766m2.234 0h.766m5.234 0h.766m3.234 0h.766m6.234 0h.766m5.234 0h.766m3.234 0h.766m12.234 0h.766m.234 0h.766m.234 0h.766m14.234 0h.766m.234 0h.766m2.234 0h.766M2 34.3726h.766m3.234 0h.766m1.234 0h.766m17.234 0h.766m13.234 0h.766m12.234 0h.766m11.234 0h.766m7.234 0h.766m6.234 0h.766m3.234 0h.766m3.234 0h.766m6.234 0h.766m20.234 0h.766m5.234 0h.766m.234 0h.766m.234 0h.766m1.234 0h.766M8 35.3726h.766m7.234 0h.766m6.234 0h.766m1.234 0h.766m.234 0h.766m3.234 0h.766m6.234 0h.766m2.234 0h.766m5.234 0h.766m4.234 0h.766m1.234 0h.766m11.234 0h.766m12.234 0h.766m2.234 0h.766m2.234 0h.766m2.234 0h.766m.234 0h.766m3.234 0h.766m3.234 0h.766m14.234 0h.766m3.234 0h.766m6.234 0h.766m3.234 0h.766M3 36.3726h.766m29.234 0h.766m2.234 0h.766m1.234 0h.766m10.234 0h.766m15.234 0h.766m4.234 0h.766m1.234 0h.766m1.234 0h.766m3.234 0h.766m4.234 0h.766m12.234 0h.766m9.234 0h.766m1.234 0h.766m13.234 0h.766m2.234 0h.766m.234 0h.766M1 38.3726h.766m.234 0h.766m.234 0h.766m1.234 0h.766m10.234 0h.766m9.234 0h.766m6.234 0h.766m12.234 0h.766m21.234 0h.766m11.234 0h.766m4.234 0h.766m6.234 0h.766m3.234 0h.766m15.234 0h.766m6.234 0h.766m2.234 0h.766m.234 0h.766m2.234 0h.766M3 39.3726h.766m3.234 0h.766m9.234 0h.766m.234 0h.766m7.234 0h.766m6.234 0h.766m12.234 0h.766m16.234 0h.766m1.234 0h.766m8.234 0h.766m2.234 0h.766m.234 0h.766m1.234 0h.766m4.234 0h.766m3.234 0h.766m15.234 0h.766m6.234 0h.766m1.234 0h.766m4.234 0h.766m5.234 0h.766M0 40.3726h.766m5.234 0h.766m6.234 0h.766m8.234 0h.766m3.234 0h.766m1.234 0h.766m3.234 0h.766m.234 0h.766m1.234 0h.766m1.234 0h.766m7.234 0h.766m7.234 0h.766m2.234 0h.766m1.234 0h.766m11.234 0h.766m14.234 0h.766m3.234 0h.766m6.234 0h.766m.234 0h.766m4.234 0h.766m2.234 0h.766m2.234 0h.766m3.234 0h.766m10.234 0h.766M0 41.3726h.766m1.234 0h.766m6.234 0h.766m1.234 0h.766m12.234 0h.766m1.234 0h.766m11.234 0h.766m3.234 0h.766m5.234 0h.766m7.234 0h.766m14.234 0h.766m10.234 0h.766m2.234 0h.766m1.234 0h.766m14.234 0h.766m9.234 0h.766m6.234 0h.766m1.234 0h.766M0 42.3726h.766m7.234 0h.766m6.234 0h.766m4.234 0h.766m3.234 0h.766m5.234 0h.766m1.234 0h.766m4.234 0h.766m1.234 0h.766m1.234 0h.766m3.234 0h.766m8.234 0h.766m1.234 0h.766m4.234 0h.766m2.234 0h.766m5.234 0h.766m10.234 0h.766m5.234 0h.766m.234 0h.766m3.234 0h.766m4.234 0h.766m3.234 0h.766m3.234 0h.766m9.234 0h.766m7.234 0h.766m1.234 0h.766M2 43.3726h.766m.234 0h.766m2.234 0h.766m2.234 0h.766m7.234 0h.766m.234 0h.766m5.234 0h.766m3.234 0h.766m3.234 0h.766m10.234 0h.766m9.234 0h.766m.234 0h.766m9.234 0h.766m3.234 0h.766m1.234 0h.766m7.234 0h.766m2.234 0h.766m3.234 0h.766m15.234 0h.766m4.234 0h.766m2.234 0h.766m5.234 0h.766M1 44.3726h.766m1.234 0h.766m26.234 0h.766m.234 0h.766m4.234 0h.766m3.234 0h.766m1.234 0h.766m5.234 0h.766m.234 0h.766m13.234 0h.766m.234 0h.766m2.234 0h.766m13.234 0h.766m15.234 0h.766m14.234 0h.766m5.234 0h.766m3.234 0h.766M3 45.3726h.766m13.234 0h.766m.234 0h.766m7.234 0h.766m.234 0h.766m20.234 0h.766m5.234 0h.766m.234 0h.766m11.234 0h.766m.234 0h.766m12.234 0h.766m2.234 0h.766m.234 0h.766m9.234 0h.766m.234 0h.766m2.234 0h.766m2.234 0h.766m3.234 0h.766m8.234 0h.766m2.234 0h.766m.234 0h.766m6.234 0h.766M9 46.3726h.766m1.234 0h.766m12.234 0h.766m1.234 0h.766m3.234 0h.766m9.234 0h.766m1.234 0h.766m11.234 0h.766m3.234 0h.766m5.234 0h.766m.234 0h.766m5.234 0h.766m9.234 0h.766m2.234 0h.766m3.234 0h.766m3.234 0h.766m2.234 0h.766m16.234 0h.766m2.234 0h.766M1 47.3726h.766m6.234 0h.766m.234 0h.766m5.234 0h.766m.234 0h.766m.234 0h.766m6.234 0h.766m6.234 0h.766m.234 0h.766m8.234 0h.766m4.234 0h.766m17.234 0h.766m2.234 0h.766m4.234 0h.766m7.234 0h.766m.234 0h.766m6.234 0h.766m.234 0h.766m8.234 0h.766m12.234 0h.766m.234 0h.766m2.234 0h.766m2.234 0h.766m.234 0h.766m5.234 0h.766m.234 0h.766M2 48.3726h.766m2.234 0h.766m2.234 0h.766m14.234 0h.766m.234 0h.766m2.234 0h.766m2.234 0h.766m7.234 0h.766m1.234 0h.766m6.234 0h.766m2.234 0h.766m2.234 0h.766m8.234 0h.766m17.234 0h.766m1.234 0h.766m4.234 0h.766m7.234 0h.766m2.234 0h.766m12.234 0h.766m4.234 0h.766m9.234 0h.766M2 49.3726h.766m.234 0h.766m9.234 0h.766m10.234 0h.766m5.234 0h.766m.234 0h.766m15.234 0h.766m.234 0h.766m2.234 0h.766m12.234 0h.766m2.234 0h.766m13.234 0h.766m2.234 0h.766m2.234 0h.766m.234 0h.766m.234 0h.766m.234 0h.766m6.234 0h.766m.234 0h.766m7.234 0h.766m5.234 0h.766m2.234 0h.766m3.234 0h.766m3.234 0h.766M5 50.3726h.766m4.234 0h.766m.234 0h.766m.234 0h.766m15.234 0h.766m4.234 0h.766m4.234 0h.766m7.234 0h.766m.234 0h.766m6.234 0h.766m5.234 0h.766m26.234 0h.766m10.234 0h.766m2.234 0h.766m1.234 0h.766m1.234 0h.766m1.234 0h.766m4.234 0h.766m1.234 0h.766m3.234 0h.766m4.234 0h.766m.234 0h.766m1.234 0h.766M5 51.3726h.766m.234 0h.766m.234 0h.766m.234 0h.766m7.234 0h.766m2.234 0h.766m7.234 0h.766m9.234 0h.766m3.234 0h.766m14.234 0h.766m.234 0h.766m5.234 0h.766m.234 0h.766m3.234 0h.766m2.234 0h.766m8.234 0h.766m.234 0h.766m5.234 0h.766m4.234 0h.766m3.234 0h.766m8.234 0h.766m8.234 0h.766m.234 0h.766m2.234 0h.766m.234 0h.766M4 52.3726h.766m8.234 0h.766m3.234 0h.766m9.234 0h.766m4.234 0h.766m6.234 0h.766m7.234 0h.766m2.234 0h.766m3.234 0h.766m1.234 0h.766m7.234 0h.766m5.234 0h.766m2.234 0h.766m10.234 0h.766m3.234 0h.766m11.234 0h.766m8.234 0h.766m4.234 0h.766m.234 0h.766M0 53.3726h.766m.234 0h.766m.234 0h.766m2.234 0h.766m5.234 0h.766m1.234 0h.766m1.234 0h.766m4.234 0h.766m.234 0h.766m3.234 0h.766m.234 0h.766m3.234 0h.766m.234 0h.766m3.234 0h.766m.234 0h.766m5.234 0h.766m.234 0h.766m1.234 0h.766m1.234 0h.766m6.234 0h.766m1.234 0h.766m1.234 0h.766m9.234 0h.766m3.234 0h.766m16.234 0h.766m.234 0h.766m7.234 0h.766m3.234 0h.766m1.234 0h.766m.234 0h.766m.234 0h.766m.234 0h.766m.234 0h.766m6.234 0h.766m7.234 0h.766m1.234 0h.766M2 54.3726h.766m.234 0h.766m5.234 0h.766m3.234 0h.766m3.234 0h.766m6.234 0h.766m8.234 0h.766m1.234 0h.766m12.234 0h.766m5.234 0h.766m10.234 0h.766m1.234 0h.766m3.234 0h.766m9.234 0h.766m2.234 0h.766m5.234 0h.766m24.234 0h.766m7.234 0h.766M0 55.3726h.766m.234 0h.766m.234 0h.766m9.234 0h.766m12.234 0h.766m1.234 0h.766m6.234 0h.766m.234 0h.766m.234 0h.766m6.234 0h.766m17.234 0h.766m.234 0h.766m6.234 0h.766m1.234 0h.766m5.234 0h.766m4.234 0h.766m3.234 0h.766m.234 0h.766m10.234 0h.766m2.234 0h.766m3.234 0h.766m17.234 0h.766m.234 0h.766M6 56.3726h.766m1.234 0h.766m7.234 0h.766m10.234 0h.766m18.234 0h.766m6.234 0h.766m13.234 0h.766m6.234 0h.766m.234 0h.766m8.234 0h.766m7.234 0h.766m2.234 0h.766m.234 0h.766m.234 0h.766m14.234 0h.766m5.234 0h.766m7.234 0h.766M3 57.3726h.766m9.234 0h.766m4.234 0h.766m1.234 0h.766m6.234 0h.766m5.234 0h.766m3.234 0h.766m9.234 0h.766m.234 0h.766m1.234 0h.766m2.234 0h.766m2.234 0h.766m.234 0h.766m.234 0h.766m5.234 0h.766m.234 0h.766m1.234 0h.766m5.234 0h.766m.234 0h.766m7.234 0h.766m7.234 0h.766m1.234 0h.766m19.234 0h.766"/><path stroke="#fcd4a2" d="M4 0.3726h.766m22.234 0h.766m8.234 0h.766m2.234 0h.766m10.234 0h.766m6.234 0h.766m17.234 0h.766m14.234 0h.766m20.234 0h.766m5.234 0h.766m6.234 0h.766M27 1.3726h.766m3.234 0h.766m6.234 0h.766m35.234 0h.766m17.234 0h.766m4.234 0h.766M6 2.3726h.766m5.234 0h.766m24.234 0h.766m15.234 0h.766m20.234 0h.766m37.234 0h.766M33 3.3726h.766m1.234 0h.766m2.234 0h.766m1.234 0h.766m45.234 0h.766m10.234 0h.766m3.234 0h.766m2.234 0h.766m1.234 0h.766m.234 0h.766m1.234 0h.766M35 4.3726h.766m.234 0h.766m1.234 0h.766m1.234 0h.766m1.234 0h.766m54.234 0h.766m6.234 0h.766m.234 0h.766m.234 0h.766M2 5.3726h.766m32.234 0h.766m34.234 0h.766m19.234 0h.766m18.234 0h.766M12 6.3726h.766m10.234 0h.766m3.234 0h.766m5.234 0h.766m1.234 0h.766m1.234 0h.766m32.234 0h.766m15.234 0h.766m5.234 0h.766m33.234 0h.766M1 7.3726h.766m6.234 0h.766m7.234 0h.766m10.234 0h.766m2.234 0h.766m4.234 0h.766m4.234 0h.766m5.234 0h.766m6.234 0h.766m30.234 0h.766m15.234 0h.766m15.234 0h.766M1 8.3726h.766m.234 0h.766m3.234 0h.766m1.234 0h.766m7.234 0h.766m10.234 0h.766m9.234 0h.766m8.234 0h.766m6.234 0h.766m20.234 0h.766m17.234 0h.766m11.234 0h.766m.234 0h.766M1 9.3726h.766m10.234 0h.766m3.234 0h.766m10.234 0h.766m5.234 0h.766m1.234 0h.766m4.234 0h.766m2.234 0h.766m2.234 0h.766m26.234 0h.766m27.234 0h.766m4.234 0h.766m15.234 0h.766M1 10.3726h.766m3.234 0h.766m24.234 0h.766m.234 0h.766m7.234 0h.766m6.234 0h.766m15.234 0h.766m33.234 0h.766m4.234 0h.766m3.234 0h.766m3.234 0h.766m12.234 0h.766M1 11.3726h.766m10.234 0h.766m3.234 0h.766m25.234 0h.766m3.234 0h.766m6.234 0h.766m19.234 0h.766m7.234 0h.766m5.234 0h.766m4.234 0h.766m21.234 0h.766m9.234 0h.766M31 12.3726h.766m5.234 0h.766m58.234 0h.766m1.234 0h.766M1 13.3726h.766m4.234 0h.766m1.234 0h.766m7.234 0h.766m6.234 0h.766m3.234 0h.766m5.234 0h.766m1.234 0h.766m1.234 0h.766m2.234 0h.766m5.234 0h.766m20.234 0h.766m6.234 0h.766m9.234 0h.766M1 14.3726h.766m21.234 0h.766m7.234 0h.766m.234 0h.766m4.234 0h.766m.234 0h.766m1.234 0h.766m5.234 0h.766m3.234 0h.766m9.234 0h.766m26.234 0h.766m9.234 0h.766m7.234 0h.766m1.234 0h.766m3.234 0h.766m2.234 0h.766m7.234 0h.766M33 15.3726h.766m8.234 0h.766m27.234 0h.766m35.234 0h.766m2.234 0h.766M1 16.3726h.766m25.234 0h.766m5.234 0h.766m6.234 0h.766m15.234 0h.766m16.234 0h.766m13.234 0h.766m2.234 0h.766m4.234 0h.766M22 17.3726h.766m4.234 0h.766m3.234 0h.766m35.234 0h.766m22.234 0h.766m7.234 0h.766m5.234 0h.766m1.234 0h.766m.234 0h.766m1.234 0h.766M2 18.3726h.766m27.234 0h.766m4.234 0h.766m54.234 0h.766M1 19.3726h.766m4.234 0h.766m1.234 0h.766m3.234 0h.766m3.234 0h.766m10.234 0h.766m2.234 0h.766m6.234 0h.766m8.234 0h.766m27.234 0h.766m17.234 0h.766m33.234 0h.766M68 21.3726h.766M16 22.3726h.766m14.234 0h.766m4.234 0h.766m1.234 0h.766m2.234 0h.766m1.234 0h.766m1.234 0h.766m7.234 0h.766m24.234 0h.766m5.234 0h.766m1.234 0h.766m3.234 0h.766m4.234 0h.766m5.234 0h.766m2.234 0h.766m.234 0h.766m1.234 0h.766m18.234 0h.766M8 23.3726h.766m26.234 0h.766m17.234 0h.766m41.234 0h.766m.234 0h.766m.234 0h.766m.234 0h.766m10.234 0h.766M3 24.3726h.766m11.234 0h.766m.234 0h.766m9.234 0h.766m4.234 0h.766m9.234 0h.766m4.234 0h.766m41.234 0h.766m29.234 0h.766M1 25.3726h.766m.234 0h.766m.234 0h.766m8.234 0h.766m18.234 0h.766m.234 0h.766m2.234 0h.766m34.234 0h.766m19.234 0h.766m1.234 0h.766m11.234 0h.766m.234 0h.766m16.234 0h.766m1.234 0h.766m1.234 0h.766M1 26.3726h.766m4.234 0h.766m1.234 0h.766m26.234 0h.766m.234 0h.766m.234 0h.766m16.234 0h.766m8.234 0h.766m41.234 0h.766m6.234 0h.766m3.234 0h.766M6 27.3726h.766m1.234 0h.766m3.234 0h.766m17.234 0h.766m4.234 0h.766m.234 0h.766m.234 0h.766m35.234 0h.766m22.234 0h.766m.234 0h.766m6.234 0h.766m2.234 0h.766m4.234 0h.766m13.234 0h.766M16 28.3726h.766m41.234 0h.766m8.234 0h.766m3.234 0h.766m12.234 0h.766m2.234 0h.766m.234 0h.766m9.234 0h.766m19.234 0h.766m4.234 0h.766M11 29.3726h.766m25.234 0h.766m9.234 0h.766m8.234 0h.766m7.234 0h.766m2.234 0h.766m19.234 0h.766m10.234 0h.766m1.234 0h.766m3.234 0h.766m1.234 0h.766M8 30.3726h.766m45.234 0h.766m18.234 0h.766m27.234 0h.766M42 31.3726h.766m4.234 0h.766m8.234 0h.766m14.234 0h.766m12.234 0h.766m3.234 0h.766m9.234 0h.766m.234 0h.766m8.234 0h.766m9.234 0h.766m5.234 0h.766m1.234 0h.766M2 32.3726h.766m24.234 0h.766m19.234 0h.766m13.234 0h.766m15.234 0h.766m.234 0h.766m6.234 0h.766m1.234 0h.766m16.234 0h.766m7.234 0h.766m9.234 0h.766m3.234 0h.766M2 33.3726h.766m8.234 0h.766m5.234 0h.766m5.234 0h.766m3.234 0h.766m10.234 0h.766m8.234 0h.766m5.234 0h.766m30.234 0h.766m.234 0h.766m2.234 0h.766m8.234 0h.766m6.234 0h.766m.234 0h.766m16.234 0h.766M16 34.3726h.766m10.234 0h.766m5.234 0h.766m12.234 0h.766m27.234 0h.766m17.234 0h.766m3.234 0h.766m1.234 0h.766M1 35.3726h.766m25.234 0h.766m8.234 0h.766m19.234 0h.766m17.234 0h.766m20.234 0h.766m1.234 0h.766m.234 0h.766M11 36.3726h.766m6.234 0h.766m7.234 0h.766m1.234 0h.766m8.234 0h.766m13.234 0h.766m.234 0h.766m15.234 0h.766m6.234 0h.766m3.234 0h.766m2.234 0h.766m17.234 0h.766m4.234 0h.766m1.234 0h.766m4.234 0h.766m11.234 0h.766M12 38.3726h.766m22.234 0h.766m1.234 0h.766m12.234 0h.766m5.234 0h.766m6.234 0h.766m23.234 0h.766m2.234 0h.766m6.234 0h.766m7.234 0h.766m1.234 0h.766m13.234 0h.766M2 39.3726h.766m17.234 0h.766m14.234 0h.766m.234 0h.766m5.234 0h.766m4.234 0h.766m2.234 0h.766m5.234 0h.766m11.234 0h.766m4.234 0h.766m27.234 0h.766m7.234 0h.766m5.234 0h.766m5.234 0h.766M30 40.3726h.766m12.234 0h.766m23.234 0h.766m6.234 0h.766m9.234 0h.766m3.234 0h.766m3.234 0h.766m2.234 0h.766m4.234 0h.766m8.234 0h.766m15.234 0h.766M3 41.3726h.766m12.234 0h.766m18.234 0h.766m1.234 0h.766m5.234 0h.766m2.234 0h.766m41.234 0h.766m11.234 0h.766m5.234 0h.766m9.234 0h.766M27 42.3726h.766m43.234 0h.766m30.234 0h.766m9.234 0h.766m5.234 0h.766m7.234 0h.766M12 43.3726h.766m8.234 0h.766m13.234 0h.766m2.234 0h.766m6.234 0h.766m1.234 0h.766m10.234 0h.766m8.234 0h.766m3.234 0h.766m12.234 0h.766m7.234 0h.766m12.234 0h.766m1.234 0h.766m4.234 0h.766m5.234 0h.766m.234 0h.766M35 44.3726h.766m5.234 0h.766m1.234 0h.766m43.234 0h.766m.234 0h.766m1.234 0h.766m3.234 0h.766m3.234 0h.766m5.234 0h.766m.234 0h.766m.234 0h.766m17.234 0h.766M1 45.3726h.766m10.234 0h.766m3.234 0h.766m4.234 0h.766m13.234 0h.766m.234 0h.766m4.234 0h.766m1.234 0h.766m2.234 0h.766m17.234 0h.766m5.234 0h.766m.234 0h.766m2.234 0h.766m12.234 0h.766m.234 0h.766m16.234 0h.766m16.234 0h.766M6 46.3726h.766m30.234 0h.766m5.234 0h.766m6.234 0h.766m16.234 0h.766m2.234 0h.766m26.234 0h.766m3.234 0h.766m2.234 0h.766m4.234 0h.766m8.234 0h.766M12 47.3726h.766m22.234 0h.766m1.234 0h.766m13.234 0h.766m1.234 0h.766m2.234 0h.766m13.234 0h.766m30.234 0h.766M1 48.3726h.766m4.234 0h.766m5.234 0h.766m3.234 0h.766m15.234 0h.766m2.234 0h.766m6.234 0h.766m3.234 0h.766m7.234 0h.766m10.234 0h.766m1.234 0h.766m5.234 0h.766m.234 0h.766m9.234 0h.766m33.234 0h.766m3.234 0h.766m1.234 0h.766M1 49.3726h.766m4.234 0h.766m9.234 0h.766m.234 0h.766m17.234 0h.766m10.234 0h.766m11.234 0h.766m12.234 0h.766m46.234 0h.766m5.234 0h.766m1.234 0h.766M17 50.3726h.766m1.234 0h.766m12.234 0h.766m4.234 0h.766m10.234 0h.766m2.234 0h.766m6.234 0h.766m8.234 0h.766M12 51.3726h.766m10.234 0h.766m6.234 0h.766m.234 0h.766m1.234 0h.766m8.234 0h.766m30.234 0h.766m16.234 0h.766m9.234 0h.766m3.234 0h.766m17.234 0h.766m1.234 0h.766M30 52.3726h.766m26.234 0h.766m9.234 0h.766m7.234 0h.766m5.234 0h.766m10.234 0h.766m11.234 0h.766m.234 0h.766m2.234 0h.766m13.234 0h.766m3.234 0h.766M12 53.3726h.766m4.234 0h.766m46.234 0h.766m6.234 0h.766m9.234 0h.766m2.234 0h.766m26.234 0h.766M16 54.3726h.766m13.234 0h.766m6.234 0h.766m.234 0h.766m3.234 0h.766m3.234 0h.766m11.234 0h.766m5.234 0h.766m8.234 0h.766m14.234 0h.766m8.234 0h.766m2.234 0h.766m8.234 0h.766m8.234 0h.766m5.234 0h.766M3 55.3726h.766m.234 0h.766m2.234 0h.766m7.234 0h.766m3.234 0h.766m10.234 0h.766m2.234 0h.766m5.234 0h.766m9.234 0h.766m7.234 0h.766m26.234 0h.766m11.234 0h.766m11.234 0h.766m4.234 0h.766M1 56.3726h.766m28.234 0h.766m4.234 0h.766m.234 0h.766m.234 0h.766M5 57.3726h.766m24.234 0h.766m4.234 0h.766m6.234 0h.766m8.234 0h.766m44.234 0h.766m.234 0h.766m3.234 0h.766m3.234 0h.766m1.234 0h.766m1.234 0h.766m12.234 0h.766"/><path stroke="#d5d5e8" d="M6 0.3726h.766m1.234 0h.766m.234 0h.766m.234 0h.766m.234 0h.766m1.234 0h.766m2.234 0h.766m1.234 0h.766m1.234 0h.766m1.234 0h.766m.234 0h.766m1.234 0h.766m.234 0h.766m1.234 0h.766m18.234 0h.766m3.234 0h.766m1.234 0h.766m2.234 0h.766m1.234 0h.766m1.234 0h.766m1.234 0h.766m.234 0h.766m4.234 0h.766m2.234 0h.766m.234 0h.766m5.234 0h.766m1.234 0h.766m3.234 0h.766m.234 0h.766m2.234 0h.766m6.234 0h.766m6.234 0h.766m.234 0h.766m8.234 0h.766m.234 0h.766m1.234 0h.766m2.234 0h.766m4.234 0h.766m1.234 0h.766M0 1.3726h.766m2.234 0h.766m.234 0h.766m1.234 0h.766m1.234 0h.766m1.234 0h.766m1.234 0h.766m.234 0h.766m1.234 0h.766m.234 0h.766m.234 0h.766m.234 0h.766m.234 0h.766m.234 0h.766m1.234 0h.766m1.234 0h.766m.234 0h.766m.234 0h.766m1.234 0h.766m3.234 0h.766m1.234 0h.766m5.234 0h.766m4.234 0h.766m3.234 0h.766m2.234 0h.766m1.234 0h.766m.234 0h.766m5.234 0h.766m.234 0h.766m1.234 0h.766m1.234 0h.766m1.234 0h.766m.234 0h.766m1.234 0h.766m.234 0h.766m.234 0h.766m1.234 0h.766m1.234 0h.766m.234 0h.766m.234 0h.766m.234 0h.766m.234 0h.766m1.234 0h.766m.234 0h.766m1.234 0h.766m.234 0h.766m1.234 0h.766m1.234 0h.766m3.234 0h.766m6.234 0h.766m.234 0h.766m8.234 0h.766m.234 0h.766m.234 0h.766m.234 0h.766m.234 0h.766m2.234 0h.766m3.234 0h.766m.234 0h.766m.234 0h.766M0 2.3726h.766m2.234 0h.766m.234 0h.766m.234 0h.766m1.234 0h.766m1.234 0h.766m.234 0h.766m2.234 0h.766m1.234 0h.766m1.234 0h.766m.234 0h.766m.234 0h.766m1.234 0h.766m2.234 0h.766m2.234 0h.766m.234 0h.766m5.234 0h.766m10.234 0h.766m2.234 0h.766m2.234 0h.766m5.234 0h.766m.234 0h.766m1.234 0h.766m1.234 0h.766m1.234 0h.766m.234 0h.766m2.234 0h.766m6.234 0h.766m1.234 0h.766m1.234 0h.766m.234 0h.766m1.234 0h.766m2.234 0h.766m5.234 0h.766m10.234 0h.766m.234 0h.766m7.234 0h.766m2.234 0h.766m2.234 0h.766m.234 0h.766m2.234 0h.766m.234 0h.766m.234 0h.766m.234 0h.766m.234 0h.766M1 3.3726h.766m1.234 0h.766m.234 0h.766m2.234 0h.766m.234 0h.766m.234 0h.766m.234 0h.766m.234 0h.766m.234 0h.766m.234 0h.766m1.234 0h.766m1.234 0h.766m.234 0h.766m.234 0h.766m1.234 0h.766m.234 0h.766m1.234 0h.766m.234 0h.766m.234 0h.766m7.234 0h.766m10.234 0h.766m.234 0h.766m.234 0h.766m1.234 0h.766m.234 0h.766m1.234 0h.766m.234 0h.766m.234 0h.766m.234 0h.766m.234 0h.766m4.234 0h.766m.234 0h.766m1.234 0h.766m1.234 0h.766m2.234 0h.766m1.234 0h.766m.234 0h.766m4.234 0h.766m.234 0h.766m.234 0h.766m.234 0h.766m.234 0h.766m1.234 0h.766m.234 0h.766m.234 0h.766m1.234 0h.766m.234 0h.766m.234 0h.766m1.234 0h.766m.234 0h.766m3.234 0h.766m5.234 0h.766m.234 0h.766m7.234 0h.766m.234 0h.766m.234 0h.766m.234 0h.766m.234 0h.766m1.234 0h.766m.234 0h.766m.234 0h.766m.234 0h.766m.234 0h.766m.234 0h.766m.234 0h.766m.234 0h.766m.234 0h.766m.234 0h.766M2 4.3726h.766m8.234 0h.766m.234 0h.766m11.234 0h.766m6.234 0h.766m.234 0h.766m1.234 0h.766m34.234 0h.766m1.234 0h.766m1.234 0h.766m12.234 0h.766m8.234 0h.766m6.234 0h.766m13.234 0h.766M3 5.3726h.766m.234 0h.766m3.234 0h.766m.234 0h.766m.234 0h.766m.234 0h.766m1.234 0h.766m3.234 0h.766m.234 0h.766m2.234 0h.766m.234 0h.766m.234 0h.766m.234 0h.766m.234 0h.766m2.234 0h.766m5.234 0h.766m11.234 0h.766m1.234 0h.766m.234 0h.766m3.234 0h.766m1.234 0h.766m.234 0h.766m1.234 0h.766m2.234 0h.766m.234 0h.766m.234 0h.766m1.234 0h.766m.234 0h.766m2.234 0h.766m2.234 0h.766m2.234 0h.766m2.234 0h.766m3.234 0h.766m.234 0h.766m.234 0h.766m3.234 0h.766m.234 0h.766m1.234 0h.766m.234 0h.766m9.234 0h.766m.234 0h.766m7.234 0h.766m.234 0h.766m.234 0h.766m.234 0h.766m2.234 0h.766m.234 0h.766m.234 0h.766m.234 0h.766m4.234 0h.766m.234 0h.766M0 6.3726h.766m1.234 0h.766m.234 0h.766m.234 0h.766m5.234 0h.766m2.234 0h.766m3.234 0h.766m.234 0h.766m.234 0h.766m5.234 0h.766m8.234 0h.766m12.234 0h.766m1.234 0h.766m1.234 0h.766m.234 0h.766m2.234 0h.766m2.234 0h.766m1.234 0h.766m1.234 0h.766m1.234 0h.766m1.234 0h.766m2.234 0h.766m7.234 0h.766m1.234 0h.766m2.234 0h.766m2.234 0h.766m1.234 0h.766m3.234 0h.766m10.234 0h.766m10.234 0h.766m5.234 0h.766m3.234 0h.766m1.234 0h.766M0 7.3726h.766m3.234 0h.766m.234 0h.766m.234 0h.766m.234 0h.766m2.234 0h.766m.234 0h.766m1.234 0h.766m1.234 0h.766m3.234 0h.766m.234 0h.766m1.234 0h.766m2.234 0h.766m8.234 0h.766m10.234 0h.766m8.234 0h.766m3.234 0h.766m1.234 0h.766m3.234 0h.766m7.234 0h.766m.234 0h.766m3.234 0h.766m3.234 0h.766m3.234 0h.766m.234 0h.766m2.234 0h.766m1.234 0h.766m10.234 0h.766m.234 0h.766m8.234 0h.766m2.234 0h.766m1.234 0h.766m1.234 0h.766m1.234 0h.766m3.234 0h.766M0 8.3726h.766m2.234 0h.766m3.234 0h.766m2.234 0h.766m.234 0h.766m1.234 0h.766m1.234 0h.766m2.234 0h.766m6.234 0h.766m.234 0h.766m24.234 0h.766m3.234 0h.766m.234 0h.766m1.234 0h.766m1.234 0h.766m3.234 0h.766m6.234 0h.766m9.234 0h.766m3.234 0h.766m.234 0h.766m1.234 0h.766m13.234 0h.766m.234 0h.766m11.234 0h.766m1.234 0h.766m1.234 0h.766m3.234 0h.766m1.234 0h.766M0 9.3726h.766m1.234 0h.766m.234 0h.766m4.234 0h.766m1.234 0h.766m2.234 0h.766m1.234 0h.766m1.234 0h.766m3.234 0h.766m1.234 0h.766m1.234 0h.766m2.234 0h.766m5.234 0h.766m13.234 0h.766m2.234 0h.766m1.234 0h.766m1.234 0h.766m1.234 0h.766m.234 0h.766m1.234 0h.766m.234 0h.766m.234 0h.766m4.234 0h.766m.234 0h.766m2.234 0h.766m.234 0h.766m2.234 0h.766m1.234 0h.766m.234 0h.766m1.234 0h.766m1.234 0h.766m1.234 0h.766m.234 0h.766m3.234 0h.766m1.234 0h.766m.234 0h.766m4.234 0h.766m4.234 0h.766m.234 0h.766m9.234 0h.766m2.234 0h.766m2.234 0h.766m.234 0h.766m4.234 0h.766M0 10.3726h.766m3.234 0h.766m2.234 0h.766m.234 0h.766m1.234 0h.766m4.234 0h.766m1.234 0h.766m.234 0h.766m.234 0h.766m2.234 0h.766m.234 0h.766m1.234 0h.766m2.234 0h.766m5.234 0h.766m3.234 0h.766m1.234 0h.766m4.234 0h.766m3.234 0h.766m.234 0h.766m.234 0h.766m.234 0h.766m.234 0h.766m1.234 0h.766m4.234 0h.766m.234 0h.766m3.234 0h.766m.234 0h.766m1.234 0h.766m5.234 0h.766m.234 0h.766m2.234 0h.766m.234 0h.766m.234 0h.766m1.234 0h.766m4.234 0h.766m6.234 0h.766m7.234 0h.766m.234 0h.766m7.234 0h.766m4.234 0h.766m2.234 0h.766m1.234 0h.766m3.234 0h.766M0 11.3726h.766m3.234 0h.766m.234 0h.766m9.234 0h.766m3.234 0h.766m1.234 0h.766m8.234 0h.766m3.234 0h.766m4.234 0h.766m.234 0h.766m4.234 0h.766m3.234 0h.766m.234 0h.766m.234 0h.766m.234 0h.766m2.234 0h.766m5.234 0h.766m.234 0h.766m.234 0h.766m1.234 0h.766m.234 0h.766m.234 0h.766m1.234 0h.766m1.234 0h.766m7.234 0h.766m.234 0h.766m1.234 0h.766m.234 0h.766m.234 0h.766m1.234 0h.766m1.234 0h.766m6.234 0h.766m1.234 0h.766m1.234 0h.766m.234 0h.766m.234 0h.766m.234 0h.766m.234 0h.766m1.234 0h.766m3.234 0h.766m2.234 0h.766m.234 0h.766m2.234 0h.766m.234 0h.766m.234 0h.766m1.234 0h.766m.234 0h.766M0 12.3726h.766m2.234 0h.766m3.234 0h.766m.234 0h.766m1.234 0h.766m.234 0h.766m.234 0h.766m2.234 0h.766m.234 0h.766m.234 0h.766m.234 0h.766m.234 0h.766m1.234 0h.766m.234 0h.766m1.234 0h.766m.234 0h.766m.234 0h.766m.234 0h.766m.234 0h.766m5.234 0h.766m10.234 0h.766m.234 0h.766m1.234 0h.766m2.234 0h.766m.234 0h.766m.234 0h.766m.234 0h.766m.234 0h.766m.234 0h.766m.234 0h.766m3.234 0h.766m.234 0h.766m.234 0h.766m.234 0h.766m1.234 0h.766m1.234 0h.766m.234 0h.766m1.234 0h.766m.234 0h.766m.234 0h.766m1.234 0h.766m1.234 0h.766m.234 0h.766m2.234 0h.766m.234 0h.766m.234 0h.766m.234 0h.766m.234 0h.766m2.234 0h.766m.234 0h.766m1.234 0h.766m.234 0h.766m9.234 0h.766m.234 0h.766m8.234 0h.766m.234 0h.766m.234 0h.766m.234 0h.766m2.234 0h.766m.234 0h.766m.234 0h.766m1.234 0h.766m2.234 0h.766M0 13.3726h.766m2.234 0h.766m3.234 0h.766m1.234 0h.766m.234 0h.766m2.234 0h.766m1.234 0h.766m1.234 0h.766m.234 0h.766m5.234 0h.766m.234 0h.766m2.234 0h.766m18.234 0h.766m3.234 0h.766m3.234 0h.766m2.234 0h.766m1.234 0h.766m1.234 0h.766m3.234 0h.766m5.234 0h.766m4.234 0h.766m1.234 0h.766m2.234 0h.766m2.234 0h.766m3.234 0h.766m1.234 0h.766m10.234 0h.766m.234 0h.766m8.234 0h.766m.234 0h.766m.234 0h.766m.234 0h.766m1.234 0h.766m1.234 0h.766m1.234 0h.766m.234 0h.766m.234 0h.766m1.234 0h.766M2 14.3726h.766m2.234 0h.766m.234 0h.766m.234 0h.766m7.234 0h.766m4.234 0h.766m.234 0h.766m2.234 0h.766m26.234 0h.766m.234 0h.766m1.234 0h.766m7.234 0h.766m.234 0h.766m.234 0h.766m2.234 0h.766m3.234 0h.766m.234 0h.766m.234 0h.766m.234 0h.766m2.234 0h.766m1.234 0h.766m.234 0h.766m.234 0h.766m3.234 0h.766m.234 0h.766m8.234 0h.766m7.234 0h.766m4.234 0h.766m3.234 0h.766m2.234 0h.766m1.234 0h.766m6.234 0h.766m.234 0h.766M3 15.3726h.766m.234 0h.766m3.234 0h.766m2.234 0h.766m4.234 0h.766m8.234 0h.766m1.234 0h.766m6.234 0h.766m11.234 0h.766m.234 0h.766m5.234 0h.766m1.234 0h.766m.234 0h.766m.234 0h.766m2.234 0h.766m1.234 0h.766m1.234 0h.766m2.234 0h.766m1.234 0h.766m1.234 0h.766m1.234 0h.766m1.234 0h.766m1.234 0h.766m1.234 0h.766m.234 0h.766m.234 0h.766m.234 0h.766m.234 0h.766m.234 0h.766m.234 0h.766m1.234 0h.766m.234 0h.766m.234 0h.766m.234 0h.766m4.234 0h.766m6.234 0h.766m.234 0h.766m7.234 0h.766m2.234 0h.766m8.234 0h.766m2.234 0h.766M3 16.3726h.766m1.234 0h.766m7.234 0h.766m4.234 0h.766m.234 0h.766m1.234 0h.766m1.234 0h.766m2.234 0h.766m18.234 0h.766m2.234 0h.766m.234 0h.766m.234 0h.766m9.234 0h.766m1.234 0h.766m3.234 0h.766m.234 0h.766m1.234 0h.766m2.234 0h.766m1.234 0h.766m.234 0h.766m6.234 0h.766m1.234 0h.766m1.234 0h.766m2.234 0h.766m12.234 0h.766m.234 0h.766m8.234 0h.766m2.234 0h.766m1.234 0h.766m.234 0h.766m1.234 0h.766m.234 0h.766m3.234 0h.766m.234 0h.766M0 17.3726h.766m1.234 0h.766m.234 0h.766m.234 0h.766m.234 0h.766m.234 0h.766m1.234 0h.766m.234 0h.766m.234 0h.766m.234 0h.766m3.234 0h.766m.234 0h.766m.234 0h.766m.234 0h.766m.234 0h.766m.234 0h.766m.234 0h.766m1.234 0h.766m.234 0h.766m.234 0h.766m.234 0h.766m1.234 0h.766m5.234 0h.766m.234 0h.766m4.234 0h.766m4.234 0h.766m.234 0h.766m.234 0h.766m.234 0h.766m.234 0h.766m2.234 0h.766m1.234 0h.766m.234 0h.766m.234 0h.766m1.234 0h.766m1.234 0h.766m.234 0h.766m.234 0h.766m.234 0h.766m2.234 0h.766m2.234 0h.766m1.234 0h.766m.234 0h.766m2.234 0h.766m1.234 0h.766m3.234 0h.766m.234 0h.766m.234 0h.766m2.234 0h.766m1.234 0h.766m2.234 0h.766m3.234 0h.766m6.234 0h.766m.234 0h.766m7.234 0h.766m.234 0h.766m.234 0h.766m.234 0h.766m.234 0h.766m.234 0h.766m.234 0h.766m.234 0h.766m.234 0h.766m.234 0h.766m.234 0h.766m3.234 0h.766m.234 0h.766M0 18.3726h.766m2.234 0h.766m.234 0h.766m2.234 0h.766m1.234 0h.766m.234 0h.766m.234 0h.766m1.234 0h.766m1.234 0h.766m1.234 0h.766m.234 0h.766m.234 0h.766m.234 0h.766m1.234 0h.766m1.234 0h.766m.234 0h.766m.234 0h.766m1.234 0h.766m5.234 0h.766m10.234 0h.766m1.234 0h.766m.234 0h.766m.234 0h.766m1.234 0h.766m.234 0h.766m2.234 0h.766m.234 0h.766m1.234 0h.766m1.234 0h.766m.234 0h.766m.234 0h.766m.234 0h.766m.234 0h.766m1.234 0h.766m1.234 0h.766m.234 0h.766m1.234 0h.766m.234 0h.766m2.234 0h.766m1.234 0h.766m.234 0h.766m.234 0h.766m.234 0h.766m.234 0h.766m.234 0h.766m.234 0h.766m1.234 0h.766m2.234 0h.766m2.234 0h.766m10.234 0h.766m.234 0h.766m7.234 0h.766m.234 0h.766m.234 0h.766m.234 0h.766m.234 0h.766m1.234 0h.766m1.234 0h.766m.234 0h.766m.234 0h.766m.234 0h.766m.234 0h.766m.234 0h.766m.234 0h.766m.234 0h.766M0 19.3726h.766m2.234 0h.766m.234 0h.766m2.234 0h.766m2.234 0h.766m.234 0h.766m1.234 0h.766m1.234 0h.766m1.234 0h.766m.234 0h.766m.234 0h.766m2.234 0h.766m2.234 0h.766m.234 0h.766m7.234 0h.766m12.234 0h.766m3.234 0h.766m4.234 0h.766m1.234 0h.766m1.234 0h.766m3.234 0h.766m4.234 0h.766m9.234 0h.766m2.234 0h.766m2.234 0h.766m.234 0h.766m2.234 0h.766m1.234 0h.766m10.234 0h.766m.234 0h.766m8.234 0h.766m1.234 0h.766m.234 0h.766m1.234 0h.766m1.234 0h.766m.234 0h.766m.234 0h.766m.234 0h.766m2.234 0h.766M73 21.3726h.766M0 22.3726h.766m1.234 0h.766m2.234 0h.766m1.234 0h.766m1.234 0h.766m5.234 0h.766m1.234 0h.766m1.234 0h.766m.234 0h.766m1.234 0h.766m1.234 0h.766m9.234 0h.766m5.234 0h.766m13.234 0h.766m.234 0h.766m.234 0h.766m6.234 0h.766m15.234 0h.766m11.234 0h.766m.234 0h.766m3.234 0h.766m.234 0h.766m4.234 0h.766m3.234 0h.766m10.234 0h.766m2.234 0h.766m2.234 0h.766m.234 0h.766m.234 0h.766M0 23.3726h.766m2.234 0h.766m1.234 0h.766m1.234 0h.766m1.234 0h.766m3.234 0h.766m1.234 0h.766m1.234 0h.766m.234 0h.766m.234 0h.766m.234 0h.766m.234 0h.766m1.234 0h.766m.234 0h.766m.234 0h.766m.234 0h.766m1.234 0h.766m3.234 0h.766m1.234 0h.766m10.234 0h.766m1.234 0h.766m.234 0h.766m.234 0h.766m1.234 0h.766m.234 0h.766m1.234 0h.766m.234 0h.766m.234 0h.766m1.234 0h.766m1.234 0h.766m.234 0h.766m.234 0h.766m1.234 0h.766m1.234 0h.766m1.234 0h.766m.234 0h.766m1.234 0h.766m.234 0h.766m4.234 0h.766m1.234 0h.766m2.234 0h.766m.234 0h.766m.234 0h.766m.234 0h.766m.234 0h.766m1.234 0h.766m2.234 0h.766m10.234 0h.766m.234 0h.766m7.234 0h.766m.234 0h.766m.234 0h.766m.234 0h.766m.234 0h.766m1.234 0h.766m.234 0h.766m.234 0h.766m.234 0h.766m.234 0h.766m1.234 0h.766m2.234 0h.766M4 24.3726h.766m.234 0h.766m2.234 0h.766m.234 0h.766m.234 0h.766m.234 0h.766m6.234 0h.766m1.234 0h.766m7.234 0h.766m1.234 0h.766m3.234 0h.766m1.234 0h.766m2.234 0h.766m5.234 0h.766m3.234 0h.766m3.234 0h.766m1.234 0h.766m.234 0h.766m3.234 0h.766m.234 0h.766m.234 0h.766m.234 0h.766m15.234 0h.766m2.234 0h.766m6.234 0h.766m1.234 0h.766m4.234 0h.766m.234 0h.766m.234 0h.766m5.234 0h.766m1.234 0h.766m7.234 0h.766m2.234 0h.766m2.234 0h.766m4.234 0h.766M4 25.3726h.766m.234 0h.766m1.234 0h.766m1.234 0h.766m9.234 0h.766m.234 0h.766m.234 0h.766m.234 0h.766m4.234 0h.766m6.234 0h.766m1.234 0h.766m.234 0h.766m2.234 0h.766m4.234 0h.766m2.234 0h.766m.234 0h.766m2.234 0h.766m1.234 0h.766m5.234 0h.766m.234 0h.766m.234 0h.766m2.234 0h.766m.234 0h.766m2.234 0h.766m7.234 0h.766m1.234 0h.766m.234 0h.766m2.234 0h.766m1.234 0h.766m.234 0h.766m2.234 0h.766m1.234 0h.766m2.234 0h.766m8.234 0h.766m4.234 0h.766m2.234 0h.766m2.234 0h.766m2.234 0h.766m2.234 0h.766m4.234 0h.766M0 26.3726h.766m8.234 0h.766m5.234 0h.766m2.234 0h.766m.234 0h.766m4.234 0h.766m1.234 0h.766m7.234 0h.766m10.234 0h.766m6.234 0h.766m5.234 0h.766m1.234 0h.766m3.234 0h.766m6.234 0h.766m.234 0h.766m4.234 0h.766m3.234 0h.766m4.234 0h.766m1.234 0h.766m.234 0h.766m1.234 0h.766m10.234 0h.766m.234 0h.766m9.234 0h.766m.234 0h.766m.234 0h.766m1.234 0h.766m3.234 0h.766m1.234 0h.766m1.234 0h.766M0 27.3726h.766m2.234 0h.766m3.234 0h.766m5.234 0h.766m1.234 0h.766m2.234 0h.766m.234 0h.766m.234 0h.766m1.234 0h.766m1.234 0h.766m3.234 0h.766m5.234 0h.766m10.234 0h.766m2.234 0h.766m2.234 0h.766m8.234 0h.766m5.234 0h.766m5.234 0h.766m7.234 0h.766m1.234 0h.766m2.234 0h.766m3.234 0h.766m1.234 0h.766m10.234 0h.766m8.234 0h.766m1.234 0h.766m3.234 0h.766m1.234 0h.766m1.234 0h.766m1.234 0h.766m1.234 0h.766M0 28.3726h.766m1.234 0h.766m4.234 0h.766m.234 0h.766m2.234 0h.766m3.234 0h.766m6.234 0h.766m.234 0h.766m1.234 0h.766m.234 0h.766m7.234 0h.766m4.234 0h.766m.234 0h.766m12.234 0h.766m1.234 0h.766m1.234 0h.766m2.234 0h.766m.234 0h.766m.234 0h.766m2.234 0h.766m.234 0h.766m1.234 0h.766m8.234 0h.766m.234 0h.766m3.234 0h.766m2.234 0h.766m8.234 0h.766m2.234 0h.766m4.234 0h.766m.234 0h.766m7.234 0h.766m1.234 0h.766m2.234 0h.766m4.234 0h.766M2 29.3726h.766m1.234 0h.766m3.234 0h.766m1.234 0h.766m4.234 0h.766m2.234 0h.766m.234 0h.766m2.234 0h.766m.234 0h.766m1.234 0h.766m2.234 0h.766m5.234 0h.766m.234 0h.766m.234 0h.766m3.234 0h.766m1.234 0h.766m2.234 0h.766m2.234 0h.766m.234 0h.766m3.234 0h.766m1.234 0h.766m2.234 0h.766m1.234 0h.766m.234 0h.766m4.234 0h.766m7.234 0h.766m.234 0h.766m1.234 0h.766m.234 0h.766m1.234 0h.766m4.234 0h.766m17.234 0h.766m9.234 0h.766m.234 0h.766m5.234 0h.766M5 30.3726h.766m1.234 0h.766m14.234 0h.766m3.234 0h.766m1.234 0h.766m4.234 0h.766m3.234 0h.766m9.234 0h.766m4.234 0h.766m8.234 0h.766m1.234 0h.766m.234 0h.766m1.234 0h.766m2.234 0h.766m2.234 0h.766m22.234 0h.766m.234 0h.766m.234 0h.766m8.234 0h.766m5.234 0h.766m3.234 0h.766m2.234 0h.766m2.234 0h.766m1.234 0h.766M4 31.3726h.766m2.234 0h.766m.234 0h.766m.234 0h.766m1.234 0h.766m3.234 0h.766m3.234 0h.766m1.234 0h.766m.234 0h.766m.234 0h.766m.234 0h.766m.234 0h.766m1.234 0h.766m10.234 0h.766m1.234 0h.766m4.234 0h.766m5.234 0h.766m1.234 0h.766m3.234 0h.766m2.234 0h.766m1.234 0h.766m2.234 0h.766m6.234 0h.766m1.234 0h.766m.234 0h.766m1.234 0h.766m.234 0h.766m.234 0h.766m5.234 0h.766m.234 0h.766m2.234 0h.766m1.234 0h.766m2.234 0h.766m2.234 0h.766m5.234 0h.766m7.234 0h.766m1.234 0h.766m3.234 0h.766m7.234 0h.766M1 32.3726h.766m5.234 0h.766m2.234 0h.766m2.234 0h.766m1.234 0h.766m3.234 0h.766m.234 0h.766m5.234 0h.766m4.234 0h.766m4.234 0h.766m.234 0h.766m2.234 0h.766m5.234 0h.766m1.234 0h.766m.234 0h.766m4.234 0h.766m2.234 0h.766m4.234 0h.766m.234 0h.766m.234 0h.766m4.234 0h.766m11.234 0h.766m8.234 0h.766m5.234 0h.766m.234 0h.766m.234 0h.766m2.234 0h.766m.234 0h.766m.234 0h.766m3.234 0h.766m5.234 0h.766m.234 0h.766m3.234 0h.766m6.234 0h.766M6 33.3726h.766m.234 0h.766m7.234 0h.766m3.234 0h.766m.234 0h.766m5.234 0h.766m4.234 0h.766m1.234 0h.766m.234 0h.766m.234 0h.766m1.234 0h.766m2.234 0h.766m4.234 0h.766m2.234 0h.766m.234 0h.766m12.234 0h.766m18.234 0h.766m7.234 0h.766m.234 0h.766m5.234 0h.766m6.234 0h.766m2.234 0h.766m.234 0h.766m3.234 0h.766m4.234 0h.766M0 34.3726h.766m8.234 0h.766m3.234 0h.766m1.234 0h.766m1.234 0h.766m.234 0h.766m1.234 0h.766m2.234 0h.766m.234 0h.766m3.234 0h.766m16.234 0h.766m5.234 0h.766m4.234 0h.766m3.234 0h.766m1.234 0h.766m5.234 0h.766m8.234 0h.766m1.234 0h.766m5.234 0h.766m.234 0h.766m2.234 0h.766m4.234 0h.766m7.234 0h.766m.234 0h.766m8.234 0h.766m1.234 0h.766m.234 0h.766m1.234 0h.766m7.234 0h.766M2 35.3726h.766m.234 0h.766m.234 0h.766m4.234 0h.766m1.234 0h.766m6.234 0h.766m2.234 0h.766m.234 0h.766m1.234 0h.766m3.234 0h.766m4.234 0h.766m14.234 0h.766m1.234 0h.766m1.234 0h.766m1.234 0h.766m.234 0h.766m2.234 0h.766m2.234 0h.766m5.234 0h.766m1.234 0h.766m1.234 0h.766m.234 0h.766m2.234 0h.766m1.234 0h.766m4.234 0h.766m2.234 0h.766m.234 0h.766m4.234 0h.766m2.234 0h.766m19.234 0h.766m2.234 0h.766m.234 0h.766m.234 0h.766m.234 0h.766m2.234 0h.766M4 36.3726h.766m3.234 0h.766m16.234 0h.766m1.234 0h.766m7.234 0h.766m9.234 0h.766m.234 0h.766m7.234 0h.766m.234 0h.766m4.234 0h.766m5.234 0h.766m2.234 0h.766m1.234 0h.766m8.234 0h.766m.234 0h.766m2.234 0h.766m4.234 0h.766m2.234 0h.766m1.234 0h.766m3.234 0h.766m3.234 0h.766m8.234 0h.766m1.234 0h.766m.234 0h.766m.234 0h.766m1.234 0h.766m.234 0h.766m.234 0h.766m1.234 0h.766M8 38.3726h.766m.234 0h.766m3.234 0h.766m3.234 0h.766m1.234 0h.766m3.234 0h.766m.234 0h.766m24.234 0h.766m3.234 0h.766m.234 0h.766m3.234 0h.766m1.234 0h.766m6.234 0h.766m4.234 0h.766m2.234 0h.766m5.234 0h.766m.234 0h.766m1.234 0h.766m3.234 0h.766m.234 0h.766m12.234 0h.766m8.234 0h.766m3.234 0h.766m8.234 0h.766m.234 0h.766M6 39.3726h.766m1.234 0h.766m.234 0h.766m2.234 0h.766m3.234 0h.766m5.234 0h.766m1.234 0h.766m.234 0h.766m2.234 0h.766m5.234 0h.766m10.234 0h.766m9.234 0h.766m2.234 0h.766m1.234 0h.766m1.234 0h.766m16.234 0h.766m2.234 0h.766m20.234 0h.766m9.234 0h.766m2.234 0h.766m3.234 0h.766m1.234 0h.766m1.234 0h.766M2 40.3726h.766m1.234 0h.766m.234 0h.766m3.234 0h.766m9.234 0h.766m.234 0h.766m2.234 0h.766m.234 0h.766m11.234 0h.766m1.234 0h.766m.234 0h.766m15.234 0h.766m5.234 0h.766m.234 0h.766m.234 0h.766m.234 0h.766m7.234 0h.766m2.234 0h.766m2.234 0h.766m.234 0h.766m2.234 0h.766m.234 0h.766m3.234 0h.766m3.234 0h.766m2.234 0h.766m3.234 0h.766m4.234 0h.766m2.234 0h.766m4.234 0h.766m1.234 0h.766m3.234 0h.766m3.234 0h.766M8 41.3726h.766m1.234 0h.766m8.234 0h.766m1.234 0h.766m.234 0h.766m4.234 0h.766m2.234 0h.766m3.234 0h.766m10.234 0h.766m5.234 0h.766m2.234 0h.766m.234 0h.766m2.234 0h.766m5.234 0h.766m1.234 0h.766m3.234 0h.766m1.234 0h.766m5.234 0h.766m2.234 0h.766m1.234 0h.766m5.234 0h.766m8.234 0h.766m4.234 0h.766m11.234 0h.766m4.234 0h.766m2.234 0h.766m1.234 0h.766M2 42.3726h.766m.234 0h.766m3.234 0h.766m1.234 0h.766m.234 0h.766m.234 0h.766m6.234 0h.766m.234 0h.766m1.234 0h.766m.234 0h.766m2.234 0h.766m.234 0h.766m6.234 0h.766m1.234 0h.766m.234 0h.766m1.234 0h.766m1.234 0h.766m2.234 0h.766m5.234 0h.766m.234 0h.766m1.234 0h.766m7.234 0h.766m1.234 0h.766m.234 0h.766m2.234 0h.766m10.234 0h.766m.234 0h.766m.234 0h.766m.234 0h.766m1.234 0h.766m.234 0h.766m1.234 0h.766m5.234 0h.766m11.234 0h.766m7.234 0h.766m1.234 0h.766m.234 0h.766m2.234 0h.766m2.234 0h.766m.234 0h.766M5 43.3726h.766m1.234 0h.766m2.234 0h.766m.234 0h.766m10.234 0h.766m.234 0h.766m1.234 0h.766m.234 0h.766m7.234 0h.766m4.234 0h.766m.234 0h.766m7.234 0h.766m6.234 0h.766m.234 0h.766m5.234 0h.766m2.234 0h.766m8.234 0h.766m5.234 0h.766m1.234 0h.766m13.234 0h.766m.234 0h.766m6.234 0h.766m8.234 0h.766m.234 0h.766m1.234 0h.766m4.234 0h.766M0 44.3726h.766m3.234 0h.766m2.234 0h.766m.234 0h.766m1.234 0h.766m2.234 0h.766m1.234 0h.766m2.234 0h.766m.234 0h.766m.234 0h.766m.234 0h.766m.234 0h.766m.234 0h.766m1.234 0h.766m.234 0h.766m.234 0h.766m6.234 0h.766m3.234 0h.766m.234 0h.766m5.234 0h.766m1.234 0h.766m2.234 0h.766m.234 0h.766m.234 0h.766m.234 0h.766m1.234 0h.766m1.234 0h.766m2.234 0h.766m.234 0h.766m.234 0h.766m2.234 0h.766m.234 0h.766m1.234 0h.766m.234 0h.766m.234 0h.766m3.234 0h.766m2.234 0h.766m1.234 0h.766m.234 0h.766m1.234 0h.766m.234 0h.766m.234 0h.766m17.234 0h.766m.234 0h.766m7.234 0h.766m1.234 0h.766m.234 0h.766m1.234 0h.766m.234 0h.766m2.234 0h.766m.234 0h.766m1.234 0h.766m1.234 0h.766M5 45.3726h.766m4.234 0h.766m11.234 0h.766m5.234 0h.766m1.234 0h.766m2.234 0h.766m3.234 0h.766m9.234 0h.766m1.234 0h.766m8.234 0h.766m2.234 0h.766m13.234 0h.766m1.234 0h.766m.234 0h.766m1.234 0h.766m5.234 0h.766m2.234 0h.766m1.234 0h.766m8.234 0h.766m10.234 0h.766m.234 0h.766m1.234 0h.766m1.234 0h.766m4.234 0h.766m3.234 0h.766M0 46.3726h.766m1.234 0h.766m.234 0h.766m1.234 0h.766m2.234 0h.766m1.234 0h.766m4.234 0h.766m2.234 0h.766m1.234 0h.766m1.234 0h.766m.234 0h.766m1.234 0h.766m1.234 0h.766m5.234 0h.766m14.234 0h.766m2.234 0h.766m3.234 0h.766m.234 0h.766m.234 0h.766m2.234 0h.766m.234 0h.766m6.234 0h.766m6.234 0h.766m2.234 0h.766m3.234 0h.766m2.234 0h.766m3.234 0h.766m12.234 0h.766m13.234 0h.766m2.234 0h.766m1.234 0h.766m3.234 0h.766M0 47.3726h.766m3.234 0h.766m5.234 0h.766m.234 0h.766m6.234 0h.766m.234 0h.766m1.234 0h.766m.234 0h.766m.234 0h.766m3.234 0h.766m2.234 0h.766m2.234 0h.766m.234 0h.766m1.234 0h.766m3.234 0h.766m4.234 0h.766m3.234 0h.766m2.234 0h.766m2.234 0h.766m7.234 0h.766m5.234 0h.766m1.234 0h.766m2.234 0h.766m.234 0h.766m2.234 0h.766m.234 0h.766m2.234 0h.766m.234 0h.766m1.234 0h.766m.234 0h.766m.234 0h.766m3.234 0h.766m2.234 0h.766m1.234 0h.766m3.234 0h.766m1.234 0h.766m.234 0h.766m.234 0h.766m1.234 0h.766m7.234 0h.766m1.234 0h.766m.234 0h.766m3.234 0h.766m1.234 0h.766M4 48.3726h.766m8.234 0h.766m14.234 0h.766m8.234 0h.766m7.234 0h.766m3.234 0h.766m6.234 0h.766m.234 0h.766m2.234 0h.766m3.234 0h.766m1.234 0h.766m1.234 0h.766m8.234 0h.766m1.234 0h.766m3.234 0h.766m2.234 0h.766m1.234 0h.766m2.234 0h.766m10.234 0h.766m.234 0h.766m8.234 0h.766m.234 0h.766m5.234 0h.766m1.234 0h.766m3.234 0h.766M0 49.3726h.766m9.234 0h.766m8.234 0h.766m2.234 0h.766m4.234 0h.766m9.234 0h.766m.234 0h.766m6.234 0h.766m7.234 0h.766m.234 0h.766m2.234 0h.766m7.234 0h.766m8.234 0h.766m4.234 0h.766m.234 0h.766m1.234 0h.766m12.234 0h.766m.234 0h.766m3.234 0h.766m12.234 0h.766m.234 0h.766m1.234 0h.766m4.234 0h.766m3.234 0h.766M0 50.3726h.766m.234 0h.766m.234 0h.766m1.234 0h.766m4.234 0h.766m3.234 0h.766m1.234 0h.766m.234 0h.766m1.234 0h.766m1.234 0h.766m2.234 0h.766m1.234 0h.766m1.234 0h.766m2.234 0h.766m3.234 0h.766m.234 0h.766m3.234 0h.766m.234 0h.766m1.234 0h.766m.234 0h.766m5.234 0h.766m5.234 0h.766m.234 0h.766m.234 0h.766m4.234 0h.766m.234 0h.766m2.234 0h.766m1.234 0h.766m.234 0h.766m.234 0h.766m.234 0h.766m1.234 0h.766m.234 0h.766m4.234 0h.766m1.234 0h.766m.234 0h.766m3.234 0h.766m2.234 0h.766m1.234 0h.766m.234 0h.766m1.234 0h.766m5.234 0h.766m1.234 0h.766m6.234 0h.766m3.234 0h.766m1.234 0h.766m.234 0h.766m.234 0h.766m7.234 0h.766M3 51.3726h.766m7.234 0h.766m1.234 0h.766m3.234 0h.766m.234 0h.766m3.234 0h.766m2.234 0h.766m.234 0h.766m1.234 0h.766m5.234 0h.766m.234 0h.766m4.234 0h.766m4.234 0h.766m1.234 0h.766m.234 0h.766m.234 0h.766m1.234 0h.766m.234 0h.766m2.234 0h.766m4.234 0h.766m.234 0h.766m4.234 0h.766m.234 0h.766m4.234 0h.766m2.234 0h.766m6.234 0h.766m6.234 0h.766m1.234 0h.766m2.234 0h.766m7.234 0h.766m8.234 0h.766m.234 0h.766m3.234 0h.766m4.234 0h.766m1.234 0h.766m1.234 0h.766M0 52.3726h.766m2.234 0h.766m1.234 0h.766m2.234 0h.766m2.234 0h.766m4.234 0h.766m1.234 0h.766m1.234 0h.766m.234 0h.766m.234 0h.766m.234 0h.766m.234 0h.766m.234 0h.766m2.234 0h.766m2.234 0h.766m2.234 0h.766m5.234 0h.766m7.234 0h.766m2.234 0h.766m1.234 0h.766m1.234 0h.766m2.234 0h.766m2.234 0h.766m7.234 0h.766m1.234 0h.766m2.234 0h.766m2.234 0h.766m1.234 0h.766m5.234 0h.766m.234 0h.766m7.234 0h.766m.234 0h.766m7.234 0h.766m7.234 0h.766m.234 0h.766m.234 0h.766m2.234 0h.766m3.234 0h.766m.234 0h.766m1.234 0h.766m1.234 0h.766M3 53.3726h.766m.234 0h.766m2.234 0h.766m.234 0h.766m1.234 0h.766m5.234 0h.766m2.234 0h.766m2.234 0h.766m4.234 0h.766m5.234 0h.766m3.234 0h.766m1.234 0h.766m6.234 0h.766m1.234 0h.766m.234 0h.766m.234 0h.766m1.234 0h.766m4.234 0h.766m2.234 0h.766m.234 0h.766m1.234 0h.766m2.234 0h.766m2.234 0h.766m5.234 0h.766m1.234 0h.766m.234 0h.766m1.234 0h.766m1.234 0h.766m.234 0h.766m2.234 0h.766m4.234 0h.766m2.234 0h.766m.234 0h.766m.234 0h.766m.234 0h.766m2.234 0h.766m2.234 0h.766m9.234 0h.766m.234 0h.766m2.234 0h.766m2.234 0h.766m3.234 0h.766M5 54.3726h.766m.234 0h.766m1.234 0h.766m6.234 0h.766m3.234 0h.766m1.234 0h.766m.234 0h.766m9.234 0h.766m17.234 0h.766m1.234 0h.766m2.234 0h.766m.234 0h.766m.234 0h.766m2.234 0h.766m5.234 0h.766m10.234 0h.766m.234 0h.766m1.234 0h.766m6.234 0h.766m14.234 0h.766m14.234 0h.766m1.234 0h.766m1.234 0h.766M5 55.3726h.766m.234 0h.766m1.234 0h.766m.234 0h.766m.234 0h.766m5.234 0h.766m.234 0h.766m2.234 0h.766m.234 0h.766m.234 0h.766m.234 0h.766m.234 0h.766m1.234 0h.766m1.234 0h.766m2.234 0h.766m13.234 0h.766m.234 0h.766m.234 0h.766m.234 0h.766m4.234 0h.766m.234 0h.766m.234 0h.766m.234 0h.766m1.234 0h.766m1.234 0h.766m3.234 0h.766m2.234 0h.766m5.234 0h.766m4.234 0h.766m.234 0h.766m3.234 0h.766m4.234 0h.766m.234 0h.766m2.234 0h.766m9.234 0h.766m.234 0h.766m5.234 0h.766m2.234 0h.766m1.234 0h.766m.234 0h.766m2.234 0h.766m1.234 0h.766m.234 0h.766M2 56.3726h.766m.234 0h.766m3.234 0h.766m1.234 0h.766m1.234 0h.766m1.234 0h.766m3.234 0h.766m1.234 0h.766m.234 0h.766m1.234 0h.766m1.234 0h.766m1.234 0h.766m1.234 0h.766m3.234 0h.766m1.234 0h.766m12.234 0h.766m1.234 0h.766m1.234 0h.766m.234 0h.766m3.234 0h.766m1.234 0h.766m1.234 0h.766m10.234 0h.766m.234 0h.766m.234 0h.766m6.234 0h.766m1.234 0h.766m.234 0h.766m2.234 0h.766m1.234 0h.766m2.234 0h.766m10.234 0h.766m8.234 0h.766m3.234 0h.766m.234 0h.766m2.234 0h.766m1.234 0h.766m.234 0h.766m.234 0h.766m1.234 0h.766M0 57.3726h.766m5.234 0h.766m.234 0h.766m1.234 0h.766m.234 0h.766m.234 0h.766m3.234 0h.766m5.234 0h.766m4.234 0h.766m18.234 0h.766m8.234 0h.766m.234 0h.766m4.234 0h.766m1.234 0h.766m.234 0h.766m4.234 0h.766m2.234 0h.766m.234 0h.766m2.234 0h.766m1.234 0h.766m1.234 0h.766m.234 0h.766m.234 0h.766m2.234 0h.766m.234 0h.766m1.234 0h.766m.234 0h.766m.234 0h.766m1.234 0h.766m3.234 0h.766m6.234 0h.766m.234 0h.766m7.234 0h.766m2.234 0h.766m.234 0h.766m.234 0h.766m1.234 0h.766m.234 0h.766m1.234 0h.766"/><path stroke="#bcb8db" d="M7 0.3726h.766m13.234 0h.766m2.234 0h.766m27.234 0h.766m2.234 0h.766m8.234 0h.766m12.234 0h.766m3.234 0h.766m9.234 0h.766m27.234 0h.766m.234 0h.766M22 2.3726h.766m2.234 0h.766m.234 0h.766m20.234 0h.766m4.234 0h.766m2.234 0h.766m.234 0h.766m9.234 0h.766m2.234 0h.766m2.234 0h.766m8.234 0h.766m1.234 0h.766m2.234 0h.766m2.234 0h.766m23.234 0h.766m1.234 0h.766m3.234 0h.766m.234 0h.766M19 5.3726h.766m59.234 0h.766m1.234 0h.766M9 6.3726h.766m1.234 0h.766m12.234 0h.766m1.234 0h.766m1.234 0h.766m25.234 0h.766m6.234 0h.766m9.234 0h.766m.234 0h.766m8.234 0h.766m1.234 0h.766m4.234 0h.766m.234 0h.766m30.234 0h.766m.234 0h.766M21 7.3726h.766m4.234 0h.766m1.234 0h.766m20.234 0h.766m1.234 0h.766m.234 0h.766m3.234 0h.766m5.234 0h.766m3.234 0h.766m4.234 0h.766m7.234 0h.766m8.234 0h.766m24.234 0h.766m8.234 0h.766M4 8.3726h.766m14.234 0h.766m2.234 0h.766m5.234 0h.766m5.234 0h.766m14.234 0h.766m2.234 0h.766m9.234 0h.766m3.234 0h.766m5.234 0h.766m4.234 0h.766m1.234 0h.766m9.234 0h.766m1.234 0h.766m20.234 0h.766m.234 0h.766m7.234 0h.766M4 9.3726h.766m2.234 0h.766m14.234 0h.766m26.234 0h.766m2.234 0h.766m10.234 0h.766m2.234 0h.766m2.234 0h.766m9.234 0h.766m3.234 0h.766m2.234 0h.766m27.234 0h.766m2.234 0h.766m3.234 0h.766M2 10.3726h.766m24.234 0h.766m29.234 0h.766m11.234 0h.766m7.234 0h.766m5.234 0h.766m2.234 0h.766m4.234 0h.766m21.234 0h.766m.234 0h.766m2.234 0h.766m2.234 0h.766M4 13.3726h.766m6.234 0h.766m7.234 0h.766m2.234 0h.766m3.234 0h.766m7.234 0h.766m14.234 0h.766m2.234 0h.766m3.234 0h.766m7.234 0h.766m4.234 0h.766m1.234 0h.766m9.234 0h.766m1.234 0h.766m4.234 0h.766m31.234 0h.766M0 14.3726h.766m3.234 0h.766m6.234 0h.766m5.234 0h.766m1.234 0h.766m14.234 0h.766m14.234 0h.766m11.234 0h.766m7.234 0h.766m8.234 0h.766m4.234 0h.766m5.234 0h.766m30.234 0h.766M15 16.3726h.766m6.234 0h.766m1.234 0h.766m22.234 0h.766m7.234 0h.766m8.234 0h.766m14.234 0h.766m1.234 0h.766m1.234 0h.766m4.234 0h.766m22.234 0h.766m1.234 0h.766m5.234 0h.766M9 19.3726h.766m14.234 0h.766m3.234 0h.766m20.234 0h.766m2.234 0h.766m2.234 0h.766m5.234 0h.766m4.234 0h.766m4.234 0h.766m5.234 0h.766m.234 0h.766m2.234 0h.766m1.234 0h.766m4.234 0h.766M4 22.3726h.766m6.234 0h.766m13.234 0h.766m.234 0h.766m5.234 0h.766m4.234 0h.766m9.234 0h.766m4.234 0h.766m15.234 0h.766m3.234 0h.766m10.234 0h.766m5.234 0h.766m4.234 0h.766m24.234 0h.766m1.234 0h.766M4 23.3726h.766m5.234 0h.766m.234 0h.766m10.234 0h.766m55.234 0h.766m2.234 0h.766m7.234 0h.766M22 24.3726h.766m4.234 0h.766m24.234 0h.766m13.234 0h.766m2.234 0h.766m7.234 0h.766m5.234 0h.766m2.234 0h.766m7.234 0h.766m8.234 0h.766m7.234 0h.766M3 26.3726h.766m.234 0h.766m5.234 0h.766m.234 0h.766m1.234 0h.766m11.234 0h.766m2.234 0h.766m20.234 0h.766m5.234 0h.766m.234 0h.766m5.234 0h.766m3.234 0h.766m12.234 0h.766m3.234 0h.766m1.234 0h.766m33.234 0h.766M4 27.3726h.766m4.234 0h.766m.234 0h.766m14.234 0h.766m23.234 0h.766m2.234 0h.766m2.234 0h.766m5.234 0h.766m.234 0h.766m14.234 0h.766m.234 0h.766m.234 0h.766m3.234 0h.766m2.234 0h.766m16.234 0h.766m10.234 0h.766M4 28.3726h.766m14.234 0h.766m29.234 0h.766m2.234 0h.766m3.234 0h.766m12.234 0h.766m5.234 0h.766m3.234 0h.766m.234 0h.766m2.234 0h.766m2.234 0h.766m4.234 0h.766m22.234 0h.766m2.234 0h.766m2.234 0h.766m4.234 0h.766M6 29.3726h.766m14.234 0h.766m5.234 0h.766m23.234 0h.766m.234 0h.766m4.234 0h.766m4.234 0h.766m.234 0h.766m5.234 0h.766m9.234 0h.766m3.234 0h.766m2.234 0h.766m4.234 0h.766m25.234 0h.766M49 31.3726h.766m2.234 0h.766m8.234 0h.766m1.234 0h.766m2.234 0h.766m2.234 0h.766m10.234 0h.766m2.234 0h.766m30.234 0h.766m5.234 0h.766M6 32.3726h.766m72.234 0h.766M4 33.3726h.766m11.234 0h.766m51.234 0h.766m2.234 0h.766m47.234 0h.766M4 34.3726h.766m5.234 0h.766m8.234 0h.766m2.234 0h.766m2.234 0h.766m8.234 0h.766m14.234 0h.766m2.234 0h.766m2.234 0h.766m5.234 0h.766m4.234 0h.766m2.234 0h.766m8.234 0h.766m4.234 0h.766m7.234 0h.766m19.234 0h.766m7.234 0h.766m1.234 0h.766M0 35.3726h.766m9.234 0h.766m2.234 0h.766m1.234 0h.766m1.234 0h.766m1.234 0h.766m12.234 0h.766m1.234 0h.766m10.234 0h.766m1.234 0h.766m1.234 0h.766m10.234 0h.766m1.234 0h.766m.234 0h.766m15.234 0h.766m3.234 0h.766m29.234 0h.766m7.234 0h.766m3.234 0h.766M0 36.3726h.766m.234 0h.766m3.234 0h.766m1.234 0h.766m2.234 0h.766m4.234 0h.766m4.234 0h.766m26.234 0h.766m5.234 0h.766m8.234 0h.766m.234 0h.766m.234 0h.766m2.234 0h.766m9.234 0h.766m7.234 0h.766m.234 0h.766m3.234 0h.766m12.234 0h.766m12.234 0h.766m6.234 0h.766M4 38.3726h.766m5.234 0h.766m14.234 0h.766m2.234 0h.766m5.234 0h.766m20.234 0h.766m1.234 0h.766m4.234 0h.766m3.234 0h.766m16.234 0h.766m2.234 0h.766m4.234 0h.766m11.234 0h.766m9.234 0h.766m3.234 0h.766m.234 0h.766m1.234 0h.766M10 39.3726h.766m2.234 0h.766m1.234 0h.766m7.234 0h.766m27.234 0h.766m5.234 0h.766m8.234 0h.766m.234 0h.766m1.234 0h.766m1.234 0h.766m3.234 0h.766m7.234 0h.766m.234 0h.766m1.234 0h.766m1.234 0h.766m28.234 0h.766m.234 0h.766M34 40.3726h.766m14.234 0h.766m10.234 0h.766m5.234 0h.766m2.234 0h.766m7.234 0h.766m2.234 0h.766m.234 0h.766m4.234 0h.766m27.234 0h.766m.234 0h.766m4.234 0h.766M4 41.3726h.766m20.234 0h.766m23.234 0h.766m2.234 0h.766m4.234 0h.766m2.234 0h.766m1.234 0h.766m.234 0h.766m5.234 0h.766m7.234 0h.766m1.234 0h.766m.234 0h.766m5.234 0h.766m4.234 0h.766m2.234 0h.766m16.234 0h.766m1.234 0h.766m.234 0h.766M4 42.3726h.766m.234 0h.766m28.234 0h.766m34.234 0h.766m16.234 0h.766m7.234 0h.766M4 43.3726h.766m14.234 0h.766m7.234 0h.766m21.234 0h.766m2.234 0h.766m4.234 0h.766m2.234 0h.766m2.234 0h.766m2.234 0h.766m10.234 0h.766m1.234 0h.766m3.234 0h.766m2.234 0h.766m4.234 0h.766m2.234 0h.766m8.234 0h.766m7.234 0h.766m5.234 0h.766m2.234 0h.766M89 44.3726h.766M4 45.3726h.766m2.234 0h.766m11.234 0h.766m14.234 0h.766m17.234 0h.766m4.234 0h.766m2.234 0h.766m1.234 0h.766m.234 0h.766m1.234 0h.766m.234 0h.766m2.234 0h.766m9.234 0h.766m2.234 0h.766m.234 0h.766m19.234 0h.766m13.234 0h.766m2.234 0h.766M4 46.3726h.766m14.234 0h.766m14.234 0h.766m14.234 0h.766m2.234 0h.766m9.234 0h.766m3.234 0h.766m10.234 0h.766m1.234 0h.766m.234 0h.766m2.234 0h.766m2.234 0h.766m4.234 0h.766m11.234 0h.766m9.234 0h.766m.234 0h.766m2.234 0h.766M0 48.3726h.766m2.234 0h.766m11.234 0h.766m2.234 0h.766m14.234 0h.766m14.234 0h.766m20.234 0h.766m2.234 0h.766m8.234 0h.766m3.234 0h.766m3.234 0h.766m25.234 0h.766m7.234 0h.766M4 49.3726h.766m29.234 0h.766m14.234 0h.766m2.234 0h.766m7.234 0h.766m1.234 0h.766m.234 0h.766m2.234 0h.766m2.234 0h.766m13.234 0h.766m7.234 0h.766m2.234 0h.766m8.234 0h.766m7.234 0h.766m5.234 0h.766m2.234 0h.766M4 51.3726h.766m5.234 0h.766m4.234 0h.766m53.234 0h.766m7.234 0h.766m.234 0h.766m.234 0h.766m3.234 0h.766m2.234 0h.766m16.234 0h.766m9.234 0h.766m3.234 0h.766m2.234 0h.766M7 52.3726h.766m41.234 0h.766m2.234 0h.766m9.234 0h.766m.234 0h.766m2.234 0h.766m11.234 0h.766m1.234 0h.766m1.234 0h.766m.234 0h.766m7.234 0h.766m25.234 0h.766M4 54.3726h.766m15.234 0h.766m2.234 0h.766m1.234 0h.766m8.234 0h.766m14.234 0h.766m3.234 0h.766m7.234 0h.766m.234 0h.766m12.234 0h.766m7.234 0h.766m7.234 0h.766m11.234 0h.766m7.234 0h.766m1.234 0h.766m.234 0h.766m10.234 0h.766M13 55.3726h.766m51.234 0h.766m8.234 0h.766m6.234 0h.766m13.234 0h.766m15.234 0h.766m4.234 0h.766m8.234 0h.766m.234 0h.766M4 56.3726h.766m5.234 0h.766m44.234 0h.766m5.234 0h.766m.234 0h.766m3.234 0h.766m2.234 0h.766m9.234 0h.766m1.234 0h.766m3.234 0h.766m27.234 0h.766m6.234 0h.766M4 57.3726h.766m14.234 0h.766m2.234 0h.766m2.234 0h.766m8.234 0h.766m14.234 0h.766m2.234 0h.766m8.234 0h.766m21.234 0h.766m2.234 0h.766m33.234 0h.766"/><path stroke="#f9b468" d="M30 0.3726h.766m4.234 0h.766m5.234 0h.766m1.234 0h.766m52.234 0h.766m.234 0h.766m.234 0h.766m1.234 0h.766m.234 0h.766m5.234 0h.766m1.234 0h.766M41 1.3726h.766m.234 0h.766m47.234 0h.766m7.234 0h.766m6.234 0h.766m1.234 0h.766m1.234 0h.766M35 2.3726h.766m54.234 0h.766m4.234 0h.766m1.234 0h.766m.234 0h.766m2.234 0h.766m3.234 0h.766m.234 0h.766m.234 0h.766m1.234 0h.766M31 3.3726h.766m38.234 0h.766M107 4.3726h.766m1.234 0h.766M30 5.3726h.766m.234 0h.766m10.234 0h.766m53.234 0h.766m1.234 0h.766m2.234 0h.766m3.234 0h.766m1.234 0h.766M1 6.3726h.766m14.234 0h.766m19.234 0h.766m2.234 0h.766m1.234 0h.766m.234 0h.766m.234 0h.766m2.234 0h.766m6.234 0h.766m20.234 0h.766m15.234 0h.766m4.234 0h.766m.234 0h.766m.234 0h.766m.234 0h.766m.234 0h.766m4.234 0h.766m.234 0h.766m.234 0h.766m.234 0h.766m1.234 0h.766M2 7.3726h.766m9.234 0h.766m18.234 0h.766m.234 0h.766m.234 0h.766m2.234 0h.766m1.234 0h.766m51.234 0h.766m5.234 0h.766m1.234 0h.766m2.234 0h.766m2.234 0h.766m.234 0h.766m.234 0h.766m.234 0h.766m.234 0h.766m.234 0h.766M12 8.3726h.766m17.234 0h.766m.234 0h.766m3.234 0h.766m.234 0h.766m5.234 0h.766m47.234 0h.766m5.234 0h.766m.234 0h.766m.234 0h.766m7.234 0h.766m.234 0h.766m1.234 0h.766M31 9.3726h.766m4.234 0h.766m.234 0h.766m36.234 0h.766m15.234 0h.766m5.234 0h.766m1.234 0h.766m6.234 0h.766m18.234 0h.766M6 10.3726h.766m29.234 0h.766m33.234 0h.766m19.234 0h.766m7.234 0h.766m5.234 0h.766m1.234 0h.766m.234 0h.766M107 11.3726h.766m17.234 0h.766M36 12.3726h.766m1.234 0h.766m58.234 0h.766m6.234 0h.766M12 13.3726h.766m17.234 0h.766m.234 0h.766m4.234 0h.766m5.234 0h.766m10.234 0h.766m36.234 0h.766m1.234 0h.766m3.234 0h.766m.234 0h.766m.234 0h.766m.234 0h.766m4.234 0h.766m.234 0h.766m1.234 0h.766m1.234 0h.766M12 14.3726h.766m3.234 0h.766m10.234 0h.766m30.234 0h.766m11.234 0h.766m19.234 0h.766m5.234 0h.766m7.234 0h.766m1.234 0h.766m2.234 0h.766M101 15.3726h.766m2.234 0h.766m.234 0h.766m1.234 0h.766m.234 0h.766M12 16.3726h.766m3.234 0h.766m13.234 0h.766m.234 0h.766m9.234 0h.766m.234 0h.766m.234 0h.766m26.234 0h.766m26.234 0h.766m.234 0h.766m2.234 0h.766m3.234 0h.766m.234 0h.766m.234 0h.766m.234 0h.766m.234 0h.766M12 17.3726h.766m17.234 0h.766m6.234 0h.766m.234 0h.766m.234 0h.766m1.234 0h.766m8.234 0h.766m33.234 0h.766m11.234 0h.766M37 18.3726h.766m58.234 0h.766m.234 0h.766m.234 0h.766m5.234 0h.766m.234 0h.766m.234 0h.766m.234 0h.766m1.234 0h.766M31 19.3726h.766m3.234 0h.766m.234 0h.766m59.234 0h.766m.234 0h.766m.234 0h.766m1.234 0h.766m.234 0h.766m2.234 0h.766m.234 0h.766m.234 0h.766m.234 0h.766m1.234 0h.766M1 22.3726h.766m28.234 0h.766m8.234 0h.766m21.234 0h.766M12 23.3726h.766m14.234 0h.766m2.234 0h.766m.234 0h.766m4.234 0h.766m37.234 0h.766m15.234 0h.766m10.234 0h.766m2.234 0h.766m.234 0h.766m1.234 0h.766M1 24.3726h.766m68.234 0h.766m.234 0h.766m1.234 0h.766m13.234 0h.766m12.234 0h.766m4.234 0h.766m16.234 0h.766m1.234 0h.766m1.234 0h.766M6 25.3726h.766m39.234 0h.766m20.234 0h.766m39.234 0h.766m1.234 0h.766M12 26.3726h.766m3.234 0h.766m13.234 0h.766m1.234 0h.766m.234 0h.766m4.234 0h.766m.234 0h.766m2.234 0h.766m.234 0h.766m2.234 0h.766m23.234 0h.766m25.234 0h.766m.234 0h.766m.234 0h.766m1.234 0h.766m.234 0h.766m2.234 0h.766m1.234 0h.766m.234 0h.766m1.234 0h.766M1 27.3726h.766m14.234 0h.766m15.234 0h.766m.234 0h.766m4.234 0h.766m.234 0h.766m2.234 0h.766m3.234 0h.766m23.234 0h.766m27.234 0h.766m1.234 0h.766m.234 0h.766m4.234 0h.766m2.234 0h.766M1 28.3726h.766m4.234 0h.766m24.234 0h.766m1.234 0h.766m1.234 0h.766m10.234 0h.766m26.234 0h.766m25.234 0h.766m4.234 0h.766m.234 0h.766m2.234 0h.766m.234 0h.766m12.234 0h.766m1.234 0h.766m1.234 0h.766M1 29.3726h.766m14.234 0h.766m29.234 0h.766m23.234 0h.766m2.234 0h.766m16.234 0h.766m1.234 0h.766m2.234 0h.766m26.234 0h.766m1.234 0h.766M12 30.3726h.766m14.234 0h.766m8.234 0h.766m33.234 0h.766M6 31.3726h.766m5.234 0h.766m3.234 0h.766m14.234 0h.766m.234 0h.766m6.234 0h.766m6.234 0h.766m20.234 0h.766m2.234 0h.766m2.234 0h.766m26.234 0h.766m6.234 0h.766m14.234 0h.766M11 32.3726h.766m59.234 0h.766m23.234 0h.766M63 33.3726h.766m3.234 0h.766m12.234 0h.766m33.234 0h.766M1 34.3726h.766m28.234 0h.766m4.234 0h.766m.234 0h.766m.234 0h.766m59.234 0h.766m2.234 0h.766m3.234 0h.766m.234 0h.766m.234 0h.766m.234 0h.766m1.234 0h.766M35 35.3726h.766m3.234 0h.766m50.234 0h.766m9.234 0h.766m.234 0h.766m2.234 0h.766m2.234 0h.766M21 36.3726h.766m8.234 0h.766m1.234 0h.766m1.234 0h.766m4.234 0h.766m.234 0h.766m.234 0h.766m.234 0h.766m13.234 0h.766m1.234 0h.766m38.234 0h.766m11.234 0h.766M6 38.3726h.766m4.234 0h.766m18.234 0h.766m.234 0h.766m6.234 0h.766m3.234 0h.766m27.234 0h.766m27.234 0h.766m.234 0h.766m1.234 0h.766m7.234 0h.766M5 39.3726h.766m5.234 0h.766m18.234 0h.766m.234 0h.766m.234 0h.766m4.234 0h.766m.234 0h.766m.234 0h.766m47.234 0h.766m2.234 0h.766m4.234 0h.766m1.234 0h.766m.234 0h.766m7.234 0h.766m.234 0h.766M16 40.3726h.766m14.234 0h.766m9.234 0h.766m4.234 0h.766m71.234 0h.766m3.234 0h.766M12 41.3726h.766m28.234 0h.766m25.234 0h.766m5.234 0h.766m10.234 0h.766m5.234 0h.766m5.234 0h.766m2.234 0h.766m5.234 0h.766m3.234 0h.766m8.234 0h.766m3.234 0h.766m1.234 0h.766M16 42.3726h.766m14.234 0h.766m10.234 0h.766m3.234 0h.766m26.234 0h.766m35.234 0h.766m12.234 0h.766m1.234 0h.766M16 43.3726h.766m29.234 0h.766m4.234 0h.766m21.234 0h.766m14.234 0h.766m11.234 0h.766m21.234 0h.766m1.234 0h.766m1.234 0h.766M12 44.3726h.766m19.234 0h.766m4.234 0h.766m35.234 0h.766m21.234 0h.766m.234 0h.766m12.234 0h.766M6 45.3726h.766m24.234 0h.766m7.234 0h.766m33.234 0h.766m18.234 0h.766m8.234 0h.766m2.234 0h.766m3.234 0h.766m.234 0h.766m14.234 0h.766M16 46.3726h.766m18.234 0h.766m.234 0h.766m2.234 0h.766m1.234 0h.766m4.234 0h.766m26.234 0h.766m13.234 0h.766m2.234 0h.766m7.234 0h.766m.234 0h.766m5.234 0h.766m.234 0h.766m.234 0h.766m.234 0h.766m13.234 0h.766m1.234 0h.766m1.234 0h.766M42 47.3726h.766m15.234 0h.766m25.234 0h.766m20.234 0h.766m1.234 0h.766M31 48.3726h.766m4.234 0h.766m2.234 0h.766m1.234 0h.766m28.234 0h.766m21.234 0h.766m3.234 0h.766m3.234 0h.766m3.234 0h.766m1.234 0h.766m.234 0h.766m.234 0h.766m.234 0h.766M12 49.3726h.766m20.234 0h.766m6.234 0h.766m.234 0h.766m.234 0h.766m.234 0h.766m26.234 0h.766m2.234 0h.766m18.234 0h.766m8.234 0h.766m3.234 0h.766m2.234 0h.766m.234 0h.766m12.234 0h.766M6 50.3726h.766m14.234 0h.766m31.234 0h.766m26.234 0h.766m16.234 0h.766M38 51.3726h.766m31.234 0h.766m27.234 0h.766m.234 0h.766m1.234 0h.766m5.234 0h.766M42 52.3726h.766m44.234 0h.766m2.234 0h.766m7.234 0h.766m7.234 0h.766m11.234 0h.766m5.234 0h.766M88 53.3726h.766m29.234 0h.766M31 54.3726h.766m9.234 0h.766m28.234 0h.766m27.234 0h.766m2.234 0h.766m3.234 0h.766m1.234 0h.766m14.234 0h.766M38 55.3726h.766m2.234 0h.766m.234 0h.766m37.234 0h.766m16.234 0h.766m1.234 0h.766m7.234 0h.766m9.234 0h.766M12 56.3726h.766m18.234 0h.766m38.234 0h.766m19.234 0h.766m7.234 0h.766m2.234 0h.766m2.234 0h.766m.234 0h.766m1.234 0h.766m1.234 0h.766M16 57.3726h.766m14.234 0h.766m4.234 0h.766m2.234 0h.766m6.234 0h.766m23.234 0h.766m27.234 0h.766m5.234 0h.766"/><path stroke="#ef9c3c" d="M42 0.3726h.766m27.234 0h.766m33.234 0h.766m.234 0h.766m.234 0h.766m1.234 0h.766M39 1.3726h.766m3.234 0h.766m57.234 0h.766m4.234 0h.766M31 2.3726h.766m4.234 0h.766m1.234 0h.766m.234 0h.766m2.234 0h.766m.234 0h.766m26.234 0h.766m28.234 0h.766m.234 0h.766m3.234 0h.766M100 3.3726h.766m4.234 0h.766M101 4.3726h.766m6.234 0h.766M38 5.3726h.766m2.234 0h.766m55.234 0h.766m1.234 0h.766m4.234 0h.766m1.234 0h.766M30 6.3726h.766m.234 0h.766m6.234 0h.766m61.234 0h.766m.234 0h.766m6.234 0h.766M37 7.3726h.766m1.234 0h.766m1.234 0h.766m.234 0h.766m.234 0h.766m53.234 0h.766m1.234 0h.766M38 8.3726h.766m.234 0h.766m1.234 0h.766m1.234 0h.766m26.234 0h.766m28.234 0h.766m.234 0h.766m.234 0h.766m6.234 0h.766M30 9.3726h.766m7.234 0h.766m60.234 0h.766m4.234 0h.766m3.234 0h.766m.234 0h.766M41 10.3726h.766m57.234 0h.766M32 11.3726h.766m4.234 0h.766m58.234 0h.766m9.234 0h.766M39 12.3726h.766m2.234 0h.766m.234 0h.766m57.234 0h.766m3.234 0h.766m1.234 0h.766m1.234 0h.766M38 13.3726h.766m.234 0h.766m1.234 0h.766m1.234 0h.766m26.234 0h.766m29.234 0h.766m.234 0h.766m4.234 0h.766m1.234 0h.766M39 14.3726h.766m60.234 0h.766M38 16.3726h.766m60.234 0h.766M36 17.3726h.766M31 18.3726h.766m4.234 0h.766m1.234 0h.766m.234 0h.766m2.234 0h.766m.234 0h.766m56.234 0h.766m.234 0h.766m6.234 0h.766M38 19.3726h.766m.234 0h.766m1.234 0h.766m.234 0h.766m.234 0h.766m26.234 0h.766m19.234 0h.766m8.234 0h.766m8.234 0h.766M35 22.3726h.766m63.234 0h.766M38 23.3726h.766m3.234 0h.766m57.234 0h.766m5.234 0h.766M12 24.3726h.766m22.234 0h.766m4.234 0h.766m49.234 0h.766m16.234 0h.766M101 25.3726h.766M31 26.3726h.766m42.234 0h.766m15.234 0h.766m8.234 0h.766M31 27.3726h.766m11.234 0h.766m30.234 0h.766m15.234 0h.766m8.234 0h.766M12 28.3726h.766m57.234 0h.766m19.234 0h.766m10.234 0h.766m5.234 0h.766M39 29.3726h.766m1.234 0h.766m67.234 0h.766M1 31.3726h.766m41.234 0h.766m46.234 0h.766M12 34.3726h.766m18.234 0h.766m6.234 0h.766m.234 0h.766m2.234 0h.766m27.234 0h.766m19.234 0h.766m8.234 0h.766m1.234 0h.766M12 35.3726h.766m18.234 0h.766m6.234 0h.766m60.234 0h.766m5.234 0h.766m.234 0h.766m2.234 0h.766M12 36.3726h.766m88.234 0h.766M21 38.3726h.766m14.234 0h.766m2.234 0h.766m1.234 0h.766m1.234 0h.766m7.234 0h.766m52.234 0h.766m1.234 0h.766m1.234 0h.766M43 39.3726h.766m26.234 0h.766m28.234 0h.766m.234 0h.766M1 40.3726h.766m10.234 0h.766m29.234 0h.766m30.234 0h.766m16.234 0h.766m33.234 0h.766M1 41.3726h.766m29.234 0h.766m4.234 0h.766M1 42.3726h.766m10.234 0h.766m94.234 0h.766M1 43.3726h.766m29.234 0h.766m4.234 0h.766m5.234 0h.766m47.234 0h.766M100 44.3726h.766M38 45.3726h.766m51.234 0h.766m7.234 0h.766M1 46.3726h.766m10.234 0h.766m18.234 0h.766m6.234 0h.766m55.234 0h.766m5.234 0h.766M43 47.3726h.766M43 48.3726h.766m53.234 0h.766m1.234 0h.766m1.234 0h.766m3.234 0h.766M32 49.3726h.766M90 50.3726h.766m13.234 0h.766M39 51.3726h.766m3.234 0h.766m30.234 0h.766M43 52.3726h.766m52.234 0h.766M41 53.3726h.766m59.234 0h.766m20.234 0h.766M1 54.3726h.766m37.234 0h.766m3.234 0h.766m60.234 0h.766m1.234 0h.766M70 55.3726h.766M38 56.3726h.766m2.234 0h.766m1.234 0h.766m56.234 0h.766m5.234 0h.766m1.234 0h.766M1 57.3726h.766m10.234 0h.766m25.234 0h.766m2.234 0h.766m1.234 0h.766m56.234 0h.766m5.234 0h.766m1.234 0h.766"/><path stroke="#8a3f14" d="M108 1.3726h.766M99 3.3726h.766M41 4.3726h.766m57.234 0h.766M43 11.3726h.766m46.234 0h.766m13.234 0h.766M99 14.3726h.766M39 15.3726h.766m60.234 0h.766M43 17.3726h.766M38 21.3726h.766m15.234 0h.766m33.234 0h.766M42 22.3726h.766m27.234 0h.766M38 24.3726h.766M42 25.3726h.766M42 28.3726h.766M38 30.3726h.766m60.234 0h.766M41 31.3726h.766M12 32.3726h.766M12 33.3726h.766M99 40.3726h.766M39 41.3726h.766M100 42.3726h.766m3.234 0h.766M98 43.3726h.766M99 44.3726h.766M97 45.3726h.766M99 47.3726h.766m9.234 0h.766M107 49.3726h.766M41 50.3726h.766m54.234 0h.766M106 51.3726h.766m1.234 0h.766M12 52.3726h.766M99 53.3726h.766M100 55.3726h.766"/><path stroke="#9e96c9" d="M56 6.3726h.766m21.234 0h.766m43.234 0h.766M61 7.3726h.766m7.234 0h.766m8.234 0h.766m4.234 0h.766m36.234 0h.766M61 8.3726h.766m7.234 0h.766m8.234 0h.766m4.234 0h.766m36.234 0h.766M61 13.3726h.766m16.234 0h.766M71 16.3726h.766M61 26.3726h.766m7.234 0h.766m8.234 0h.766m41.234 0h.766M69 27.3726h.766m50.234 0h.766M9 33.3726h.766m14.234 0h.766m14.234 0h.766m14.234 0h.766M120 34.3726h.766M9 36.3726h.766m13.234 0h.766M69 38.3726h.766m9.234 0h.766M4 39.3726h.766m14.234 0h.766m29.234 0h.766M69 43.3726h.766M113 45.3726h.766M69 46.3726h.766m50.234 0h.766M7 48.3726h.766m14.234 0h.766m29.234 0h.766m8.234 0h.766m16.234 0h.766m41.234 0h.766M69 54.3726h.766m9.234 0h.766m6.234 0h.766m33.234 0h.766M69 57.3726h.766"/><path stroke="#d06d22" d="M38 0.3726h.766m60.234 0h.766M99 1.3726h.766m.234 0h.766m3.234 0h.766M41 2.3726h.766m66.234 0h.766M39 3.3726h.766m1.234 0h.766m.234 0h.766m.234 0h.766m64.234 0h.766M43 4.3726h.766M39 5.3726h.766m3.234 0h.766m56.234 0h.766m7.234 0h.766M39 9.3726h.766m1.234 0h.766m65.234 0h.766M33 10.3726h.766m3.234 0h.766m5.234 0h.766m53.234 0h.766m10.234 0h.766M31 11.3726h.766M41 12.3726h.766m57.234 0h.766m.234 0h.766m5.234 0h.766m1.234 0h.766M42 14.3726h.766m.234 0h.766m57.234 0h.766M41 15.3726h.766m1.234 0h.766m55.234 0h.766M39 16.3726h.766m60.234 0h.766m3.234 0h.766M42 17.3726h.766m57.234 0h.766m.234 0h.766m6.234 0h.766M41 18.3726h.766m57.234 0h.766M69 21.3726h.766M39 23.3726h.766m1.234 0h.766m1.234 0h.766m26.234 0h.766m28.234 0h.766m8.234 0h.766M41 26.3726h.766m66.234 0h.766M41 27.3726h.766m66.234 0h.766M43 28.3726h.766M31 29.3726h.766m1.234 0h.766m73.234 0h.766M61 33.3726h.766m16.234 0h.766m16.234 0h.766m16.234 0h.766M41 34.3726h.766m1.234 0h.766m64.234 0h.766M41 35.3726h.766m.234 0h.766m.234 0h.766m26.234 0h.766m37.234 0h.766M43 36.3726h.766m55.234 0h.766m4.234 0h.766M100 38.3726h.766M41 39.3726h.766m62.234 0h.766m3.234 0h.766M101 40.3726h.766m5.234 0h.766M101 41.3726h.766m2.234 0h.766m2.234 0h.766m.234 0h.766M90 42.3726h.766m17.234 0h.766M108 43.3726h.766M101 44.3726h.766m5.234 0h.766m.234 0h.766M107 45.3726h.766M90 47.3726h.766M90 48.3726h.766M104 49.3726h.766M36 50.3726h.766m71.234 0h.766M97 51.3726h.766M36 52.3726h.766m1.234 0h.766m60.234 0h.766m1.234 0h.766m5.234 0h.766M12 54.3726h.766m86.234 0h.766m8.234 0h.766M104 55.3726h.766m1.234 0h.766M39 56.3726h.766m2.234 0h.766m56.234 0h.766M99 57.3726h.766"/></g>
<rect x="23.2" y="83.8" width="12.6" height="9.15" fill="#a89479"/>
<rect x="23.2" y="96.08" width="12.6" height="9.15" fill="#a89479"/>
<rect x="23.2" y="108.36" width="12.6" height="9.15" fill="#a89479"/>
<rect x="23.2" y="120.64" width="12.6" height="9.15" fill="#a89479"/>
<rect x="23.2" y="132.92" width="12.6" height="9.15" fill="#a89479"/>
<rect x="23.2" y="145.2" width="12.6" height="9.15" fill="#a89479"/>
<rect x="23.2" y="157.48" width="12.6" height="9.15" fill="#a89479"/>
<rect x="23.2" y="169.76" width="12.6" height="9.15" fill="#a89479"/>
<rect x="23.2" y="182.04" width="12.6" height="9.15" fill="#a89479"/>
<rect x="23.2" y="194.32" width="12.6" height="9.15" fill="#a89479"/>
<rect x="23.2" y="206.6" width="12.6" height="9.15" fill="#a89479"/>
<rect x="23.2" y="218.88" width="12.6" height="9.15" fill="#a89479"/>
<rect x="23.2" y="231.16" width="12.6" height="9.15" fill="#a89479"/>
<rect x="23.2" y="243.44" width="12.6" height="9.15" fill="#a89479"/>
<rect x="23.2" y="255.72" width="12.6" height="9.15" fill="#a89479"/>
<rect x="23.2" y="268" width="12.6" height="9.15" fill="#a89479"/>
<rect x="23.2" y="280.28" width="12.6" height="9.15" fill="#a89479"/>
<rect x="23.2" y="292.56" width="12.6" height="9.15" fill="#a89479"/>
<rect x="23.2" y="304.84" width="12.6" height="9.15" fill="#a89479"/>
<rect x="23.2" y="317.12" width="12.6" height="9.15" fill="#a89479"/>
<rect x="23.2" y="341.68" width="12.6" height="9.15" fill="#1f2a5e"/>
<rect x="23.2" y="353.96" width="12.6" height="9.15" fill="#1f2a5e"/>
<rect x="23.2" y="366.24" width="12.6" height="9.15" fill="#1f2a5e"/>
<rect x="23.2" y="378.52" width="12.6" height="9.15" fill="#1f2a5e"/>
<rect x="23.2" y="390.8" width="12.6" height="9.15" fill="#1f2a5e"/>
<rect x="23.2" y="403.08" width="12.6" height="9.15" fill="#1f2a5e"/>
<rect x="23.2" y="415.36" width="12.6" height="9.15" fill="#1f2a5e"/>
<rect x="23.2" y="427.64" width="12.6" height="9.15" fill="#1f2a5e"/>
<rect x="23.2" y="439.92" width="12.6" height="9.15" fill="#1f2a5e"/>
<rect x="23.2" y="452.2" width="12.6" height="9.15" fill="#1f2a5e"/>
<rect x="23.2" y="464.48" width="12.6" height="9.15" fill="#1f2a5e"/>
<rect x="23.2" y="476.76" width="12.6" height="9.15" fill="#1f2a5e"/>
<rect x="23.2" y="489.04" width="12.6" height="9.15" fill="#1f2a5e"/>
<rect x="23.2" y="501.32" width="12.6" height="9.15" fill="#1f2a5e"/>
<rect x="23.2" y="513.6" width="12.6" height="9.15" fill="#1f2a5e"/>
<rect x="23.2" y="525.88" width="12.6" height="9.15" fill="#1f2a5e"/>
<rect x="23.2" y="550.44" width="12.6" height="9.15" fill="#961a1e"/>
<rect x="23.2" y="562.72" width="12.6" height="9.15" fill="#961a1e"/>
<rect x="23.2" y="575" width="12.6" height="9.15" fill="#961a1e"/>
<rect x="23.2" y="587.28" width="12.6" height="9.15" fill="#961a1e"/>
<rect x="23.2" y="599.56" width="12.6" height="9.15" fill="#961a1e"/>
<rect x="23.2" y="611.84" width="12.6" height="9.15" fill="#961a1e"/>
<rect x="23.2" y="624.12" width="12.6" height="9.15" fill="#961a1e"/>
<rect x="23.2" y="636.4" width="12.6" height="9.15" fill="#961a1e"/>
<rect x="23.2" y="648.68" width="12.6" height="9.15" fill="#961a1e"/>
<rect x="23.2" y="660.96" width="12.6" height="9.15" fill="#961a1e"/>
<rect x="23.2" y="673.24" width="12.6" height="9.15" fill="#961a1e"/>
<rect x="23.2" y="685.52" width="12.6" height="9.15" fill="#961a1e"/>
<rect x="23.2" y="697.8" width="12.6" height="9.15" fill="#961a1e"/>
<rect x="23.2" y="710.08" width="12.6" height="9.15" fill="#961a1e"/>
<rect x="23.2" y="722.36" width="12.6" height="9.15" fill="#961a1e"/>
<rect x="23.2" y="734.64" width="12.6" height="9.15" fill="#961a1e"/>
<rect x="23.2" y="746.92" width="12.6" height="9.15" fill="#961a1e"/>
<rect x="23.2" y="759.2" width="12.6" height="9.15" fill="#961a1e"/>
<rect x="23.2" y="771.48" width="12.6" height="9.15" fill="#961a1e"/>
<rect x="23.2" y="783.76" width="12.6" height="9.15" fill="#961a1e"/>
<text transform="translate(16,198.5) rotate(-90)" font-size="22" text-anchor="middle">Both</text>
<text transform="translate(16,429.6) rotate(-90)" font-size="22" text-anchor="middle" fill="#1f2a5e">PCV13</text>
<text transform="translate(16,675.5) rotate(-90)" font-size="22" text-anchor="middle" fill="#961a1e">PPSV23</text>
<text transform="translate(1613.5,93.7) scale(1,0.88)" font-size="15.9" font-style="italic">ALDH1L2</text>
<text transform="translate(1613.5,105.98) scale(1,0.88)" font-size="15.9" font-style="italic">AMPD1</text>
<text transform="translate(1613.5,118.26) scale(1,0.88)" font-size="15.9" font-style="italic">CAV1</text>
<text transform="translate(1613.5,130.54) scale(1,0.88)" font-size="15.9" font-style="italic">DCC</text>
<text transform="translate(1613.5,142.82) scale(1,0.88)" font-size="15.9" font-style="italic">DPEP1</text>
<text transform="translate(1613.5,155.1) scale(1,0.88)" font-size="15.9" font-style="italic">FER1L4</text>
<text transform="translate(1613.5,167.38) scale(1,0.88)" font-size="15.9" font-style="italic">IGHA2</text>
<text transform="translate(1613.5,179.66) scale(1,0.88)" font-size="15.9" font-style="italic">IGHG2</text>
<text transform="translate(1613.5,191.94) scale(1,0.88)" font-size="15.9" font-style="italic">IGKC</text>
<text transform="translate(1613.5,204.22) scale(1,0.88)" font-size="15.9" font-style="italic">IGKV2−30</text>
<text transform="translate(1613.5,216.5) scale(1,0.88)" font-size="15.9" font-style="italic">IGLV1−51</text>
<text transform="translate(1613.5,228.78) scale(1,0.88)" font-size="15.9" font-style="italic">IGLV7−46</text>
<text transform="translate(1613.5,241.06) scale(1,0.88)" font-size="15.9" font-style="italic">ITGA8</text>
<text transform="translate(1613.5,253.34) scale(1,0.88)" font-size="15.9" font-style="italic">JCHAIN</text>
<text transform="translate(1613.5,265.62) scale(1,0.88)" font-size="15.9" font-style="italic">JSRP1</text>
<text transform="translate(1613.5,277.9) scale(1,0.88)" font-size="15.9" font-style="italic">LINC01484</text>
<text transform="translate(1613.5,290.18) scale(1,0.88)" font-size="15.9" font-style="italic">LINC02362</text>
<text transform="translate(1613.5,302.46) scale(1,0.88)" font-size="15.9" font-style="italic">SCNN1B</text>
<text transform="translate(1613.5,314.74) scale(1,0.88)" font-size="15.9" font-style="italic">SDC1</text>
<text transform="translate(1613.5,327.02) scale(1,0.88)" font-size="15.9" font-style="italic">TXNDC5</text>
<text transform="translate(1613.5,351.58) scale(1,0.88)" font-size="15.9" font-style="italic">FAM220A</text>
<text transform="translate(1613.5,363.86) scale(1,0.88)" font-size="15.9" font-style="italic">HMMR</text>
<text transform="translate(1613.5,376.14) scale(1,0.88)" font-size="15.9" font-style="italic">IGF1</text>
<text transform="translate(1613.5,388.42) scale(1,0.88)" font-size="15.9" font-style="italic">IGKV1−12</text>
<text transform="translate(1613.5,400.7) scale(1,0.88)" font-size="15.9" font-style="italic">IGKV1−6</text>
<text transform="translate(1613.5,412.98) scale(1,0.88)" font-size="15.9" font-style="italic">IGLC1</text>
<text transform="translate(1613.5,425.26) scale(1,0.88)" font-size="15.9" font-style="italic">IGLL5</text>
<text transform="translate(1613.5,437.54) scale(1,0.88)" font-size="15.9" font-style="italic">IGLV1−44</text>
<text transform="translate(1613.5,449.82) scale(1,0.88)" font-size="15.9" font-style="italic">IGLV2−11</text>
<text transform="translate(1613.5,462.1) scale(1,0.88)" font-size="15.9" font-style="italic">IGLV2−18</text>
<text transform="translate(1613.5,474.38) scale(1,0.88)" font-size="15.9" font-style="italic">IGLV2−23</text>
<text transform="translate(1613.5,486.66) scale(1,0.88)" font-size="15.9" font-style="italic">MTATP6P1</text>
<text transform="translate(1613.5,498.94) scale(1,0.88)" font-size="15.9" font-style="italic">MTCO1P12</text>
<text transform="translate(1613.5,511.22) scale(1,0.88)" font-size="15.9" font-style="italic">MZB1</text>
<text transform="translate(1613.5,523.5) scale(1,0.88)" font-size="15.9" font-style="italic">PYCR1</text>
<text transform="translate(1613.5,535.78) scale(1,0.88)" font-size="15.9" font-style="italic">WNK2</text>
<text transform="translate(1613.5,560.34) scale(1,0.88)" font-size="15.9" font-style="italic">ANKRD36BP2</text>
<text transform="translate(1613.5,572.62) scale(1,0.88)" font-size="15.9" font-style="italic">CNKSR1</text>
<text transform="translate(1613.5,584.9) scale(1,0.88)" font-size="15.9" font-style="italic">IGHV3−11</text>
<text transform="translate(1613.5,597.18) scale(1,0.88)" font-size="15.9" font-style="italic">IGHV3−15</text>
<text transform="translate(1613.5,609.46) scale(1,0.88)" font-size="15.9" font-style="italic">IGKV1−27</text>
<text transform="translate(1613.5,621.74) scale(1,0.88)" font-size="15.9" font-style="italic">IGKV1−33</text>
<text transform="translate(1613.5,634.02) scale(1,0.88)" font-size="15.9" font-style="italic">IGKV2−24</text>
<text transform="translate(1613.5,646.3) scale(1,0.88)" font-size="15.9" font-style="italic">IGKV2−28</text>
<text transform="translate(1613.5,658.58) scale(1,0.88)" font-size="15.9" font-style="italic">IGKV4−1</text>
<text transform="translate(1613.5,670.86) scale(1,0.88)" font-size="15.9" font-style="italic">IGKV6−21</text>
<text transform="translate(1613.5,683.14) scale(1,0.88)" font-size="15.9" font-style="italic">IGLC3</text>
<text transform="translate(1613.5,695.42) scale(1,0.88)" font-size="15.9" font-style="italic">IGLV1−47</text>
<text transform="translate(1613.5,707.7) scale(1,0.88)" font-size="15.9" font-style="italic">IGLV10−54</text>
<text transform="translate(1613.5,719.98) scale(1,0.88)" font-size="15.9" font-style="italic">IGLV2−8</text>
<text transform="translate(1613.5,732.26) scale(1,0.88)" font-size="15.9" font-style="italic">IGLV7−43</text>
<text transform="translate(1613.5,744.54) scale(1,0.88)" font-size="15.9" font-style="italic">IGLV9−49</text>
<text transform="translate(1613.5,756.82) scale(1,0.88)" font-size="15.9" font-style="italic">KLHL14</text>
<text transform="translate(1613.5,769.1) scale(1,0.88)" font-size="15.9" font-style="italic">LINC02363</text>
<text transform="translate(1613.5,781.38) scale(1,0.88)" font-size="15.9" font-style="italic">MIXL1</text>
<text transform="translate(1613.5,793.66) scale(1,0.88)" font-size="15.9" font-style="italic">MOXD1</text>
<text x="116.3" y="825" font-size="20.5" text-anchor="middle" letter-spacing="-0.6">Baseline</text>
<text x="310.1" y="825" font-size="20.5" text-anchor="middle" letter-spacing="-0.6">Day1</text>
<text x="500.9" y="825" font-size="20.5" text-anchor="middle" letter-spacing="-0.6">Day10</text>
<text x="679.9" y="825" font-size="20.5" text-anchor="middle" letter-spacing="-0.6">Day60</text>
<text x="887.1" y="825" font-size="20.5" text-anchor="middle" letter-spacing="-0.6">Baseline</text>
<text x="1094.6" y="825" font-size="20.5" text-anchor="middle" letter-spacing="-0.6">Day1</text>
<text x="1309.6" y="825" font-size="20.5" text-anchor="middle" letter-spacing="-0.6">Day10</text>
<text x="1508.9" y="825" font-size="20.5" text-anchor="middle" letter-spacing="-0.6">Day60</text>
<text x="1407" y="845" font-size="13.5">Rank</text>
<rect x="1401.5" y="851" width="11.2" height="12" fill="#eef8f9"/>
<rect x="1412.5" y="851" width="11.2" height="12" fill="#a9dcd8"/>
<rect x="1423.5" y="851" width="11.2" height="12" fill="#5ec09a"/>
<rect x="1434.5" y="851" width="11.2" height="12" fill="#35a56e"/>
<text x="1418.8" y="878" font-size="13.5" text-anchor="middle">5</text>
<text x="1441.2" y="878" font-size="13.5" text-anchor="middle">15</text>
<defs><linearGradient id="puor" x1="0" x2="1" y1="0" y2="0"><stop offset="0" stop-color="#7f3b08"/><stop offset="0.079" stop-color="#b35806"/><stop offset="0.18" stop-color="#e08214"/><stop offset="0.28" stop-color="#fdb863"/><stop offset="0.38" stop-color="#fee0b6"/><stop offset="0.48" stop-color="#f7f7f7"/><stop offset="0.58" stop-color="#d8daeb"/><stop offset="0.68" stop-color="#b2abd2"/><stop offset="0.78" stop-color="#8073ac"/><stop offset="0.88" stop-color="#542788"/><stop offset="1" stop-color="#2d004b"/></linearGradient><linearGradient id="reds" x1="0" x2="0" y1="1" y2="0"><stop offset="0" stop-color="#ffffff"/><stop offset="1" stop-color="#d42a2d"/></linearGradient></defs>
<rect x="1460.6" y="851" width="199.8" height="12" fill="url(#puor)"/>
<text x="1490" y="845" font-size="13.5">Log<tspan font-size="9" dy="3">2</tspan><tspan dy="-3"> normalised expression</tspan></text>
<text x="1476.4" y="878" font-size="13.5" text-anchor="middle">4</text>
<text x="1515.6" y="878" font-size="13.5" text-anchor="middle">2</text>
<text x="1555.7" y="878" font-size="13.5" text-anchor="middle">0</text>
<text x="1596.5" y="878" font-size="13.5" text-anchor="middle">−2</text>
<text x="1636.3" y="878" font-size="13.5" text-anchor="middle">−4</text>
<text x="11.3" y="936" font-size="30" font-weight="bold">b</text>
<text x="217.5" y="932.7" font-size="21" font-style="italic" text-anchor="middle" letter-spacing="-0.5">IGHD</text>
<text x="496.9" y="932.7" font-size="21" font-style="italic" text-anchor="middle" letter-spacing="-0.5">IGHE</text>
<text x="760.7" y="932.7" font-size="21" font-style="italic" text-anchor="middle" letter-spacing="-0.5">IGHG4</text>
<text transform="translate(26,1119) rotate(-90)" font-size="21.5" text-anchor="middle">Log<tspan font-size="14" dy="5">2</tspan><tspan dy="-5"> normalized gene expression</tspan></text>
<line x1="83" y1="1226" x2="89.3" y2="1226" stroke="#444" stroke-width="1"/>
<text x="77" y="1233.5" font-size="21" text-anchor="end">0</text>
<line x1="83" y1="1144.2" x2="89.3" y2="1144.2" stroke="#444" stroke-width="1"/>
<text x="77" y="1151.7" font-size="21" text-anchor="end">5</text>
<line x1="83" y1="1062.4" x2="89.3" y2="1062.4" stroke="#444" stroke-width="1"/>
<text x="77" y="1069.9" font-size="21" text-anchor="end">10</text>
<line x1="83" y1="980.6" x2="89.3" y2="980.6" stroke="#444" stroke-width="1"/>
<text x="77" y="988.1" font-size="21" text-anchor="end">15</text>
<line x1="89.3" y1="1226" x2="343.5" y2="1226" stroke="#ebebeb" stroke-width="1"/>
<line x1="89.3" y1="1144.2" x2="343.5" y2="1144.2" stroke="#ebebeb" stroke-width="1"/>
<line x1="89.3" y1="1062.4" x2="343.5" y2="1062.4" stroke="#ebebeb" stroke-width="1"/>
<line x1="89.3" y1="980.6" x2="343.5" y2="980.6" stroke="#ebebeb" stroke-width="1"/>
<line x1="89.3" y1="1266.9" x2="343.5" y2="1266.9" stroke="#f4f4f4" stroke-width="0.8"/>
<line x1="89.3" y1="1185.1" x2="343.5" y2="1185.1" stroke="#f4f4f4" stroke-width="0.8"/>
<line x1="89.3" y1="1103.3" x2="343.5" y2="1103.3" stroke="#f4f4f4" stroke-width="0.8"/>
<line x1="89.3" y1="1021.5" x2="343.5" y2="1021.5" stroke="#f4f4f4" stroke-width="0.8"/>
<line x1="125.4" y1="951.7" x2="125.4" y2="1257.3" stroke="#ebebeb" stroke-width="1"/>
<line x1="186" y1="951.7" x2="186" y2="1257.3" stroke="#ebebeb" stroke-width="1"/>
<line x1="246.5" y1="951.7" x2="246.5" y2="1257.3" stroke="#ebebeb" stroke-width="1"/>
<line x1="307" y1="951.7" x2="307" y2="1257.3" stroke="#ebebeb" stroke-width="1"/>
<rect x="89.3" y="951.7" width="254.2" height="305.6" fill="none" stroke="#8a8a8a" stroke-width="1.1"/>
<line x1="125.4" y1="1257.3" x2="125.4" y2="1264.3" stroke="#444" stroke-width="1"/>
<line x1="186" y1="1257.3" x2="186" y2="1264.3" stroke="#444" stroke-width="1"/>
<line x1="246.5" y1="1257.3" x2="246.5" y2="1264.3" stroke="#444" stroke-width="1"/>
<line x1="307" y1="1257.3" x2="307" y2="1264.3" stroke="#444" stroke-width="1"/>
<polyline points="125.4,1027 125.4,1021.5 186,1021.5 186,1027" fill="none" stroke="#555" stroke-width="1.1"/>
<polyline points="246.5,1027 246.5,1021.5 307,1021.5 307,1027" fill="none" stroke="#555" stroke-width="1.1"/>
<polyline points="186,993.6 186,988.1 307,988.1 307,993.6" fill="none" stroke="#555" stroke-width="1.1"/>
<text x="158.4" y="1017.9" font-size="21" text-anchor="middle">0.99</text>
<text x="279.45" y="1017.9" font-size="21" text-anchor="middle">0.99</text>
<text x="257.7" y="984.7" font-size="21" text-anchor="middle">0.99</text>
<text transform="translate(126.4,1266.5) rotate(-45)" font-size="21.5" text-anchor="end" dy="0.72em">Baseline</text>
<text transform="translate(187,1266.5) rotate(-45)" font-size="21.5" text-anchor="end" dy="0.72em">Day10</text>
<text transform="translate(247.5,1266.5) rotate(-45)" font-size="21.5" text-anchor="end" dy="0.72em">Baseline</text>
<text transform="translate(308,1266.5) rotate(-45)" font-size="21.5" text-anchor="end" dy="0.72em">Day10</text>
<line x1="89.8" y1="1349" x2="159.3" y2="1349" stroke="#1f2a5e" stroke-width="1.6"/>
<line x1="207.8" y1="1349" x2="277.8" y2="1349" stroke="#961a1e" stroke-width="1.6"/>
<text x="87.8" y="1378.3" font-size="23" fill="#1f2a5e">PCV13</text>
<text x="206.8" y="1378.3" font-size="23" fill="#961a1e">PPSV23</text>
<line x1="358.3" y1="1226" x2="612.5" y2="1226" stroke="#ebebeb" stroke-width="1"/>
<line x1="358.3" y1="1144.2" x2="612.5" y2="1144.2" stroke="#ebebeb" stroke-width="1"/>
<line x1="358.3" y1="1062.4" x2="612.5" y2="1062.4" stroke="#ebebeb" stroke-width="1"/>
<line x1="358.3" y1="980.6" x2="612.5" y2="980.6" stroke="#ebebeb" stroke-width="1"/>
<line x1="358.3" y1="1266.9" x2="612.5" y2="1266.9" stroke="#f4f4f4" stroke-width="0.8"/>
<line x1="358.3" y1="1185.1" x2="612.5" y2="1185.1" stroke="#f4f4f4" stroke-width="0.8"/>
<line x1="358.3" y1="1103.3" x2="612.5" y2="1103.3" stroke="#f4f4f4" stroke-width="0.8"/>
<line x1="358.3" y1="1021.5" x2="612.5" y2="1021.5" stroke="#f4f4f4" stroke-width="0.8"/>
<line x1="394.4" y1="951.7" x2="394.4" y2="1257.3" stroke="#ebebeb" stroke-width="1"/>
<line x1="455" y1="951.7" x2="455" y2="1257.3" stroke="#ebebeb" stroke-width="1"/>
<line x1="515.5" y1="951.7" x2="515.5" y2="1257.3" stroke="#ebebeb" stroke-width="1"/>
<line x1="576" y1="951.7" x2="576" y2="1257.3" stroke="#ebebeb" stroke-width="1"/>
<rect x="358.3" y="951.7" width="254.2" height="305.6" fill="none" stroke="#8a8a8a" stroke-width="1.1"/>
<line x1="394.4" y1="1257.3" x2="394.4" y2="1264.3" stroke="#444" stroke-width="1"/>
<line x1="455" y1="1257.3" x2="455" y2="1264.3" stroke="#444" stroke-width="1"/>
<line x1="515.5" y1="1257.3" x2="515.5" y2="1264.3" stroke="#444" stroke-width="1"/>
<line x1="576" y1="1257.3" x2="576" y2="1264.3" stroke="#444" stroke-width="1"/>
<polyline points="394.4,1027 394.4,1021.5 455,1021.5 455,1027" fill="none" stroke="#555" stroke-width="1.1"/>
<polyline points="515.5,1027 515.5,1021.5 576,1021.5 576,1027" fill="none" stroke="#555" stroke-width="1.1"/>
<polyline points="455,993.6 455,988.1 576,988.1 576,993.6" fill="none" stroke="#555" stroke-width="1.1"/>
<text x="427.9" y="1017.9" font-size="21" text-anchor="middle">0.99</text>
<text x="548.45" y="1017.9" font-size="21" text-anchor="middle">0.99</text>
<text x="518.4" y="984.7" font-size="21" text-anchor="middle">0.99</text>
<text transform="translate(395.4,1266.5) rotate(-45)" font-size="21.5" text-anchor="end" dy="0.72em">Baseline</text>
<text transform="translate(456,1266.5) rotate(-45)" font-size="21.5" text-anchor="end" dy="0.72em">Day10</text>
<text transform="translate(516.5,1266.5) rotate(-45)" font-size="21.5" text-anchor="end" dy="0.72em">Baseline</text>
<text transform="translate(577,1266.5) rotate(-45)" font-size="21.5" text-anchor="end" dy="0.72em">Day10</text>
<line x1="358.8" y1="1349" x2="428.3" y2="1349" stroke="#1f2a5e" stroke-width="1.6"/>
<line x1="476.8" y1="1349" x2="546.8" y2="1349" stroke="#961a1e" stroke-width="1.6"/>
<text x="356.8" y="1378.3" font-size="23" fill="#1f2a5e">PCV13</text>
<text x="475.8" y="1378.3" font-size="23" fill="#961a1e">PPSV23</text>
<line x1="627.7" y1="1226" x2="881.9" y2="1226" stroke="#ebebeb" stroke-width="1"/>
<line x1="627.7" y1="1144.2" x2="881.9" y2="1144.2" stroke="#ebebeb" stroke-width="1"/>
<line x1="627.7" y1="1062.4" x2="881.9" y2="1062.4" stroke="#ebebeb" stroke-width="1"/>
<line x1="627.7" y1="980.6" x2="881.9" y2="980.6" stroke="#ebebeb" stroke-width="1"/>
<line x1="627.7" y1="1266.9" x2="881.9" y2="1266.9" stroke="#f4f4f4" stroke-width="0.8"/>
<line x1="627.7" y1="1185.1" x2="881.9" y2="1185.1" stroke="#f4f4f4" stroke-width="0.8"/>
<line x1="627.7" y1="1103.3" x2="881.9" y2="1103.3" stroke="#f4f4f4" stroke-width="0.8"/>
<line x1="627.7" y1="1021.5" x2="881.9" y2="1021.5" stroke="#f4f4f4" stroke-width="0.8"/>
<line x1="663.8" y1="951.7" x2="663.8" y2="1257.3" stroke="#ebebeb" stroke-width="1"/>
<line x1="724.4" y1="951.7" x2="724.4" y2="1257.3" stroke="#ebebeb" stroke-width="1"/>
<line x1="784.9" y1="951.7" x2="784.9" y2="1257.3" stroke="#ebebeb" stroke-width="1"/>
<line x1="845.4" y1="951.7" x2="845.4" y2="1257.3" stroke="#ebebeb" stroke-width="1"/>
<rect x="627.7" y="951.7" width="254.2" height="305.6" fill="none" stroke="#8a8a8a" stroke-width="1.1"/>
<line x1="663.8" y1="1257.3" x2="663.8" y2="1264.3" stroke="#444" stroke-width="1"/>
<line x1="724.4" y1="1257.3" x2="724.4" y2="1264.3" stroke="#444" stroke-width="1"/>
<line x1="784.9" y1="1257.3" x2="784.9" y2="1264.3" stroke="#444" stroke-width="1"/>
<line x1="845.4" y1="1257.3" x2="845.4" y2="1264.3" stroke="#444" stroke-width="1"/>
<polyline points="663.8,1027 663.8,1021.5 724.4,1021.5 724.4,1027" fill="none" stroke="#555" stroke-width="1.1"/>
<polyline points="784.9,1027 784.9,1021.5 845.4,1021.5 845.4,1027" fill="none" stroke="#555" stroke-width="1.1"/>
<polyline points="724.4,993.6 724.4,988.1 845.4,988.1 845.4,993.6" fill="none" stroke="#555" stroke-width="1.1"/>
<text x="697.5" y="1017.9" font-size="21" text-anchor="middle">0.99</text>
<text x="818.35" y="1017.9" font-size="21" text-anchor="middle">0.99</text>
<text x="787.8" y="984.7" font-size="21" text-anchor="middle">0.99</text>
<text transform="translate(664.8,1266.5) rotate(-45)" font-size="21.5" text-anchor="end" dy="0.72em">Baseline</text>
<text transform="translate(725.4,1266.5) rotate(-45)" font-size="21.5" text-anchor="end" dy="0.72em">Day10</text>
<text transform="translate(785.9,1266.5) rotate(-45)" font-size="21.5" text-anchor="end" dy="0.72em">Baseline</text>
<text transform="translate(846.4,1266.5) rotate(-45)" font-size="21.5" text-anchor="end" dy="0.72em">Day10</text>
<line x1="628.2" y1="1349" x2="697.7" y2="1349" stroke="#1f2a5e" stroke-width="1.6"/>
<line x1="746.2" y1="1349" x2="816.2" y2="1349" stroke="#961a1e" stroke-width="1.6"/>
<text x="626.2" y="1378.3" font-size="23" fill="#1f2a5e">PCV13</text>
<text x="745.2" y="1378.3" font-size="23" fill="#961a1e">PPSV23</text>
<line x1="125.4" y1="1100.9" x2="125.4" y2="1128.4" stroke="#333" stroke-width="1"/>
<line x1="125.4" y1="1148.4" x2="125.4" y2="1153.4" stroke="#333" stroke-width="1"/>
<rect x="102.4" y="1128.4" width="46" height="20" fill="none" stroke="#555" stroke-width="1.2"/>
<line x1="102.4" y1="1132.2" x2="148.4" y2="1132.2" stroke="#555" stroke-width="1.2"/>
<line x1="186" y1="1113.9" x2="186" y2="1128.7" stroke="#333" stroke-width="1"/>
<line x1="186" y1="1142.6" x2="186" y2="1157.6" stroke="#333" stroke-width="1"/>
<rect x="163" y="1128.7" width="46" height="13.9" fill="none" stroke="#555" stroke-width="1.2"/>
<line x1="163" y1="1133.4" x2="209" y2="1133.4" stroke="#555" stroke-width="1.2"/>
<line x1="246.5" y1="1115" x2="246.5" y2="1133" stroke="#333" stroke-width="1"/>
<line x1="246.5" y1="1149.3" x2="246.5" y2="1168.4" stroke="#333" stroke-width="1"/>
<rect x="223.5" y="1133" width="46" height="16.3" fill="none" stroke="#555" stroke-width="1.2"/>
<line x1="223.5" y1="1143.1" x2="269.5" y2="1143.1" stroke="#555" stroke-width="1.2"/>
<line x1="307" y1="1115.9" x2="307" y2="1128.4" stroke="#333" stroke-width="1"/>
<line x1="307" y1="1148.4" x2="307" y2="1172.6" stroke="#333" stroke-width="1"/>
<rect x="284" y="1128.4" width="46" height="20" fill="none" stroke="#555" stroke-width="1.2"/>
<line x1="284" y1="1135" x2="330" y2="1135" stroke="#555" stroke-width="1.2"/>
<line x1="128.4" y1="1100.9" x2="183" y2="1125.9" stroke="#9a9a9a" stroke-width="0.9"/>
<line x1="128.4" y1="1105.9" x2="183" y2="1113.9" stroke="#9a9a9a" stroke-width="0.9"/>
<line x1="128.4" y1="1125" x2="183" y2="1128.4" stroke="#9a9a9a" stroke-width="0.9"/>
<line x1="128.4" y1="1128.4" x2="183" y2="1130.9" stroke="#9a9a9a" stroke-width="0.9"/>
<line x1="128.4" y1="1131.7" x2="183" y2="1136.7" stroke="#9a9a9a" stroke-width="0.9"/>
<line x1="128.4" y1="1135" x2="183" y2="1133.4" stroke="#9a9a9a" stroke-width="0.9"/>
<line x1="128.4" y1="1138" x2="183" y2="1140" stroke="#9a9a9a" stroke-width="0.9"/>
<line x1="128.4" y1="1140.9" x2="183" y2="1143.4" stroke="#9a9a9a" stroke-width="0.9"/>
<line x1="128.4" y1="1144.3" x2="183" y2="1146.8" stroke="#9a9a9a" stroke-width="0.9"/>
<line x1="128.4" y1="1147.6" x2="183" y2="1157.6" stroke="#9a9a9a" stroke-width="0.9"/>
<line x1="128.4" y1="1150.1" x2="183" y2="1157.6" stroke="#9a9a9a" stroke-width="0.9"/>
<line x1="128.4" y1="1153.4" x2="183" y2="1157.6" stroke="#9a9a9a" stroke-width="0.9"/>
<line x1="249.5" y1="1115" x2="304" y2="1118.4" stroke="#9a9a9a" stroke-width="0.9"/>
<line x1="249.5" y1="1121.7" x2="304" y2="1115.9" stroke="#9a9a9a" stroke-width="0.9"/>
<line x1="249.5" y1="1130" x2="304" y2="1125" stroke="#9a9a9a" stroke-width="0.9"/>
<line x1="249.5" y1="1133.4" x2="304" y2="1128.4" stroke="#9a9a9a" stroke-width="0.9"/>
<line x1="249.5" y1="1136.7" x2="304" y2="1131.7" stroke="#9a9a9a" stroke-width="0.9"/>
<line x1="249.5" y1="1140" x2="304" y2="1138.4" stroke="#9a9a9a" stroke-width="0.9"/>
<line x1="249.5" y1="1143.4" x2="304" y2="1135" stroke="#9a9a9a" stroke-width="0.9"/>
<line x1="249.5" y1="1146.8" x2="304" y2="1141.7" stroke="#9a9a9a" stroke-width="0.9"/>
<line x1="249.5" y1="1150.1" x2="304" y2="1145.1" stroke="#9a9a9a" stroke-width="0.9"/>
<line x1="249.5" y1="1153.4" x2="304" y2="1148.4" stroke="#9a9a9a" stroke-width="0.9"/>
<line x1="249.5" y1="1160.9" x2="304" y2="1153.4" stroke="#9a9a9a" stroke-width="0.9"/>
<line x1="249.5" y1="1168.4" x2="304" y2="1161.8" stroke="#9a9a9a" stroke-width="0.9"/>
<line x1="249.5" y1="1187.6" x2="304" y2="1172.6" stroke="#9a9a9a" stroke-width="0.9"/>
<circle cx="125.4" cy="1100.9" r="4.2" fill="#1f2a5e"/>
<circle cx="125.4" cy="1105.9" r="4.2" fill="#1f2a5e"/>
<circle cx="125.4" cy="1125" r="4.2" fill="#1f2a5e"/>
<circle cx="125.4" cy="1128.4" r="4.2" fill="#1f2a5e"/>
<circle cx="125.4" cy="1131.7" r="4.2" fill="#1f2a5e"/>
<circle cx="125.4" cy="1135" r="4.2" fill="#1f2a5e"/>
<circle cx="125.4" cy="1138" r="4.2" fill="#1f2a5e"/>
<circle cx="125.4" cy="1140.9" r="4.2" fill="#1f2a5e"/>
<circle cx="125.4" cy="1144.3" r="4.2" fill="#1f2a5e"/>
<circle cx="125.4" cy="1147.6" r="4.2" fill="#1f2a5e"/>
<circle cx="125.4" cy="1150.1" r="4.2" fill="#1f2a5e"/>
<circle cx="125.4" cy="1153.4" r="4.2" fill="#1f2a5e"/>
<circle cx="186" cy="1113.9" r="4.2" fill="#1f2a5e"/>
<circle cx="186" cy="1125.9" r="4.2" fill="#1f2a5e"/>
<circle cx="186" cy="1128.4" r="4.2" fill="#1f2a5e"/>
<circle cx="186" cy="1130.9" r="4.2" fill="#1f2a5e"/>
<circle cx="186" cy="1133.4" r="4.2" fill="#1f2a5e"/>
<circle cx="186" cy="1136.7" r="4.2" fill="#1f2a5e"/>
<circle cx="186" cy="1140" r="4.2" fill="#1f2a5e"/>
<circle cx="186" cy="1143.4" r="4.2" fill="#1f2a5e"/>
<circle cx="186" cy="1146.8" r="4.2" fill="#1f2a5e"/>
<circle cx="186" cy="1157.6" r="4.2" fill="#1f2a5e"/>
<circle cx="246.5" cy="1115" r="4.2" fill="#961a1e"/>
<circle cx="246.5" cy="1121.7" r="4.2" fill="#961a1e"/>
<circle cx="246.5" cy="1130" r="4.2" fill="#961a1e"/>
<circle cx="246.5" cy="1133.4" r="4.2" fill="#961a1e"/>
<circle cx="246.5" cy="1136.7" r="4.2" fill="#961a1e"/>
<circle cx="246.5" cy="1140" r="4.2" fill="#961a1e"/>
<circle cx="246.5" cy="1143.4" r="4.2" fill="#961a1e"/>
<circle cx="246.5" cy="1146.8" r="4.2" fill="#961a1e"/>
<circle cx="246.5" cy="1150.1" r="4.2" fill="#961a1e"/>
<circle cx="246.5" cy="1153.4" r="4.2" fill="#961a1e"/>
<circle cx="246.5" cy="1160.9" r="4.2" fill="#961a1e"/>
<circle cx="246.5" cy="1168.4" r="4.2" fill="#961a1e"/>
<circle cx="246.5" cy="1187.6" r="5.3" fill="#961a1e" stroke="#3a1010" stroke-width="1.2"/>
<circle cx="307" cy="1115.9" r="4.2" fill="#961a1e"/>
<circle cx="307" cy="1118.4" r="4.2" fill="#961a1e"/>
<circle cx="307" cy="1125" r="4.2" fill="#961a1e"/>
<circle cx="307" cy="1128.4" r="4.2" fill="#961a1e"/>
<circle cx="307" cy="1131.7" r="4.2" fill="#961a1e"/>
<circle cx="307" cy="1135" r="4.2" fill="#961a1e"/>
<circle cx="307" cy="1138.4" r="4.2" fill="#961a1e"/>
<circle cx="307" cy="1141.7" r="4.2" fill="#961a1e"/>
<circle cx="307" cy="1145.1" r="4.2" fill="#961a1e"/>
<circle cx="307" cy="1148.4" r="4.2" fill="#961a1e"/>
<circle cx="307" cy="1153.4" r="4.2" fill="#961a1e"/>
<circle cx="307" cy="1161.8" r="4.2" fill="#961a1e"/>
<circle cx="307" cy="1172.6" r="4.2" fill="#961a1e"/>
<line x1="394.4" y1="1180.9" x2="394.4" y2="1200" stroke="#333" stroke-width="1"/>
<line x1="394.4" y1="1221.4" x2="394.4" y2="1225.1" stroke="#333" stroke-width="1"/>
<rect x="371.4" y="1200" width="46" height="21.4" fill="none" stroke="#555" stroke-width="1.2"/>
<line x1="371.4" y1="1212.6" x2="417.4" y2="1212.6" stroke="#555" stroke-width="1.2"/>
<line x1="455" y1="1195" x2="455" y2="1204.2" stroke="#333" stroke-width="1"/>
<line x1="455" y1="1220.4" x2="455" y2="1228.4" stroke="#333" stroke-width="1"/>
<rect x="432" y="1204.2" width="46" height="16.2" fill="none" stroke="#555" stroke-width="1.2"/>
<line x1="432" y1="1218.4" x2="478" y2="1218.4" stroke="#555" stroke-width="1.2"/>
<line x1="515.5" y1="1191.7" x2="515.5" y2="1205.9" stroke="#333" stroke-width="1"/>
<line x1="515.5" y1="1215.6" x2="515.5" y2="1227.6" stroke="#333" stroke-width="1"/>
<rect x="492.5" y="1205.9" width="46" height="9.7" fill="none" stroke="#555" stroke-width="1.2"/>
<line x1="492.5" y1="1210.4" x2="538.5" y2="1210.4" stroke="#555" stroke-width="1.2"/>
<line x1="576" y1="1190.9" x2="576" y2="1204.2" stroke="#333" stroke-width="1"/>
<line x1="576" y1="1215.4" x2="576" y2="1224.3" stroke="#333" stroke-width="1"/>
<rect x="553" y="1204.2" width="46" height="11.2" fill="none" stroke="#555" stroke-width="1.2"/>
<line x1="553" y1="1210.1" x2="599" y2="1210.1" stroke="#555" stroke-width="1.2"/>
<line x1="397.4" y1="1180.9" x2="452" y2="1199.2" stroke="#9a9a9a" stroke-width="0.9"/>
<line x1="397.4" y1="1195" x2="452" y2="1195" stroke="#9a9a9a" stroke-width="0.9"/>
<line x1="397.4" y1="1199.2" x2="452" y2="1203.4" stroke="#9a9a9a" stroke-width="0.9"/>
<line x1="397.4" y1="1203.4" x2="452" y2="1207.6" stroke="#9a9a9a" stroke-width="0.9"/>
<line x1="397.4" y1="1207.6" x2="452" y2="1216.7" stroke="#9a9a9a" stroke-width="0.9"/>
<line x1="397.4" y1="1211.7" x2="452" y2="1220.9" stroke="#9a9a9a" stroke-width="0.9"/>
<line x1="397.4" y1="1215.1" x2="452" y2="1228.4" stroke="#9a9a9a" stroke-width="0.9"/>
<line x1="397.4" y1="1219.2" x2="452" y2="1228.4" stroke="#9a9a9a" stroke-width="0.9"/>
<line x1="397.4" y1="1222.6" x2="452" y2="1225.1" stroke="#9a9a9a" stroke-width="0.9"/>
<line x1="397.4" y1="1225.1" x2="452" y2="1228.4" stroke="#9a9a9a" stroke-width="0.9"/>
<line x1="518.5" y1="1191.7" x2="573" y2="1190.9" stroke="#9a9a9a" stroke-width="0.9"/>
<line x1="518.5" y1="1195" x2="573" y2="1194.5" stroke="#9a9a9a" stroke-width="0.9"/>
<line x1="518.5" y1="1198.5" x2="573" y2="1198" stroke="#9a9a9a" stroke-width="0.9"/>
<line x1="518.5" y1="1202" x2="573" y2="1204.2" stroke="#9a9a9a" stroke-width="0.9"/>
<line x1="518.5" y1="1205.5" x2="573" y2="1211.3" stroke="#9a9a9a" stroke-width="0.9"/>
<line x1="518.5" y1="1209" x2="573" y2="1207.8" stroke="#9a9a9a" stroke-width="0.9"/>
<line x1="518.5" y1="1212.5" x2="573" y2="1214.8" stroke="#9a9a9a" stroke-width="0.9"/>
<line x1="518.5" y1="1216" x2="573" y2="1221.9" stroke="#9a9a9a" stroke-width="0.9"/>
<line x1="518.5" y1="1219.5" x2="573" y2="1224.3" stroke="#9a9a9a" stroke-width="0.9"/>
<line x1="518.5" y1="1223" x2="573" y2="1218.4" stroke="#9a9a9a" stroke-width="0.9"/>
<line x1="518.5" y1="1226.5" x2="573" y2="1224.3" stroke="#9a9a9a" stroke-width="0.9"/>
<line x1="518.5" y1="1227.6" x2="573" y2="1224.3" stroke="#9a9a9a" stroke-width="0.9"/>
<circle cx="394.4" cy="1180.9" r="4.2" fill="#1f2a5e"/>
<circle cx="394.4" cy="1195" r="4.2" fill="#1f2a5e"/>
<circle cx="394.4" cy="1199.2" r="4.2" fill="#1f2a5e"/>
<circle cx="394.4" cy="1203.4" r="4.2" fill="#1f2a5e"/>
<circle cx="394.4" cy="1207.6" r="4.2" fill="#1f2a5e"/>
<circle cx="394.4" cy="1211.7" r="4.2" fill="#1f2a5e"/>
<circle cx="394.4" cy="1215.1" r="4.2" fill="#1f2a5e"/>
<circle cx="394.4" cy="1219.2" r="4.2" fill="#1f2a5e"/>
<circle cx="394.4" cy="1222.6" r="4.2" fill="#1f2a5e"/>
<circle cx="394.4" cy="1225.1" r="4.2" fill="#1f2a5e"/>
<circle cx="455" cy="1195" r="4.2" fill="#1f2a5e"/>
<circle cx="455" cy="1199.2" r="4.2" fill="#1f2a5e"/>
<circle cx="455" cy="1203.4" r="4.2" fill="#1f2a5e"/>
<circle cx="455" cy="1207.6" r="4.2" fill="#1f2a5e"/>
<circle cx="455" cy="1216.7" r="4.2" fill="#1f2a5e"/>
<circle cx="455" cy="1220.9" r="4.2" fill="#1f2a5e"/>
<circle cx="455" cy="1225.1" r="4.2" fill="#1f2a5e"/>
<circle cx="455" cy="1228.4" r="4.2" fill="#1f2a5e"/>
<circle cx="515.5" cy="1191.7" r="4.2" fill="#961a1e"/>
<circle cx="515.5" cy="1195" r="4.2" fill="#961a1e"/>
<circle cx="515.5" cy="1198.5" r="4.2" fill="#961a1e"/>
<circle cx="515.5" cy="1202" r="4.2" fill="#961a1e"/>
<circle cx="515.5" cy="1205.5" r="4.2" fill="#961a1e"/>
<circle cx="515.5" cy="1209" r="4.2" fill="#961a1e"/>
<circle cx="515.5" cy="1212.5" r="4.2" fill="#961a1e"/>
<circle cx="515.5" cy="1216" r="4.2" fill="#961a1e"/>
<circle cx="515.5" cy="1219.5" r="4.2" fill="#961a1e"/>
<circle cx="515.5" cy="1223" r="4.2" fill="#961a1e"/>
<circle cx="515.5" cy="1226.5" r="4.2" fill="#961a1e"/>
<circle cx="515.5" cy="1227.6" r="4.2" fill="#961a1e"/>
<circle cx="576" cy="1190.9" r="4.2" fill="#961a1e"/>
<circle cx="576" cy="1194.5" r="4.2" fill="#961a1e"/>
<circle cx="576" cy="1198" r="4.2" fill="#961a1e"/>
<circle cx="576" cy="1204.2" r="4.2" fill="#961a1e"/>
<circle cx="576" cy="1207.8" r="4.2" fill="#961a1e"/>
<circle cx="576" cy="1211.3" r="4.2" fill="#961a1e"/>
<circle cx="576" cy="1214.8" r="4.2" fill="#961a1e"/>
<circle cx="576" cy="1218.4" r="4.2" fill="#961a1e"/>
<circle cx="576" cy="1221.9" r="4.2" fill="#961a1e"/>
<circle cx="576" cy="1224.3" r="4.2" fill="#961a1e"/>
<line x1="663.8" y1="1147.9" x2="663.8" y2="1165.4" stroke="#333" stroke-width="1"/>
<line x1="663.8" y1="1190.6" x2="663.8" y2="1201.8" stroke="#333" stroke-width="1"/>
<rect x="640.8" y="1165.4" width="46" height="25.2" fill="none" stroke="#555" stroke-width="1.2"/>
<line x1="640.8" y1="1183.5" x2="686.8" y2="1183.5" stroke="#555" stroke-width="1.2"/>
<line x1="724.4" y1="1129.6" x2="724.4" y2="1158.4" stroke="#333" stroke-width="1"/>
<line x1="724.4" y1="1187.1" x2="724.4" y2="1198.5" stroke="#333" stroke-width="1"/>
<rect x="701.4" y="1158.4" width="46" height="28.7" fill="none" stroke="#555" stroke-width="1.2"/>
<line x1="701.4" y1="1178.5" x2="747.4" y2="1178.5" stroke="#555" stroke-width="1.2"/>
<line x1="784.9" y1="1152.1" x2="784.9" y2="1173.9" stroke="#333" stroke-width="1"/>
<line x1="784.9" y1="1194.6" x2="784.9" y2="1213.5" stroke="#333" stroke-width="1"/>
<rect x="761.9" y="1173.9" width="46" height="20.7" fill="none" stroke="#555" stroke-width="1.2"/>
<line x1="761.9" y1="1183.1" x2="807.9" y2="1183.1" stroke="#555" stroke-width="1.2"/>
<line x1="845.4" y1="1155.9" x2="845.4" y2="1175.4" stroke="#333" stroke-width="1"/>
<line x1="845.4" y1="1190.1" x2="845.4" y2="1209.3" stroke="#333" stroke-width="1"/>
<rect x="822.4" y="1175.4" width="46" height="14.7" fill="none" stroke="#555" stroke-width="1.2"/>
<line x1="822.4" y1="1182.1" x2="868.4" y2="1182.1" stroke="#555" stroke-width="1.2"/>
<line x1="666.8" y1="1115" x2="721.4" y2="1129.6" stroke="#9a9a9a" stroke-width="0.9"/>
<line x1="666.8" y1="1147.9" x2="721.4" y2="1165.1" stroke="#9a9a9a" stroke-width="0.9"/>
<line x1="666.8" y1="1160.1" x2="721.4" y2="1139.2" stroke="#9a9a9a" stroke-width="0.9"/>
<line x1="666.8" y1="1164.3" x2="721.4" y2="1155.4" stroke="#9a9a9a" stroke-width="0.9"/>
<line x1="666.8" y1="1168.4" x2="721.4" y2="1181" stroke="#9a9a9a" stroke-width="0.9"/>
<line x1="666.8" y1="1181" x2="721.4" y2="1176.8" stroke="#9a9a9a" stroke-width="0.9"/>
<line x1="666.8" y1="1185.1" x2="721.4" y2="1185.1" stroke="#9a9a9a" stroke-width="0.9"/>
<line x1="666.8" y1="1189.3" x2="721.4" y2="1189.3" stroke="#9a9a9a" stroke-width="0.9"/>
<line x1="666.8" y1="1193.5" x2="721.4" y2="1194.3" stroke="#9a9a9a" stroke-width="0.9"/>
<line x1="666.8" y1="1197.6" x2="721.4" y2="1198.5" stroke="#9a9a9a" stroke-width="0.9"/>
<line x1="666.8" y1="1201.8" x2="721.4" y2="1198.5" stroke="#9a9a9a" stroke-width="0.9"/>
<line x1="787.9" y1="1152.1" x2="842.4" y2="1165.1" stroke="#9a9a9a" stroke-width="0.9"/>
<line x1="787.9" y1="1165.9" x2="842.4" y2="1155.9" stroke="#9a9a9a" stroke-width="0.9"/>
<line x1="787.9" y1="1170.1" x2="842.4" y2="1176.8" stroke="#9a9a9a" stroke-width="0.9"/>
<line x1="787.9" y1="1174.3" x2="842.4" y2="1181" stroke="#9a9a9a" stroke-width="0.9"/>
<line x1="787.9" y1="1178.5" x2="842.4" y2="1172.6" stroke="#9a9a9a" stroke-width="0.9"/>
<line x1="787.9" y1="1182.6" x2="842.4" y2="1185.1" stroke="#9a9a9a" stroke-width="0.9"/>
<line x1="787.9" y1="1186.8" x2="842.4" y2="1189.3" stroke="#9a9a9a" stroke-width="0.9"/>
<line x1="787.9" y1="1192.6" x2="842.4" y2="1193.5" stroke="#9a9a9a" stroke-width="0.9"/>
<line x1="787.9" y1="1196.8" x2="842.4" y2="1209.3" stroke="#9a9a9a" stroke-width="0.9"/>
<line x1="787.9" y1="1213.5" x2="842.4" y2="1220.2" stroke="#9a9a9a" stroke-width="0.9"/>
<line x1="787.9" y1="1225.2" x2="842.4" y2="1220.2" stroke="#9a9a9a" stroke-width="0.9"/>
<circle cx="663.8" cy="1147.9" r="4.2" fill="#1f2a5e"/>
<circle cx="663.8" cy="1160.1" r="4.2" fill="#1f2a5e"/>
<circle cx="663.8" cy="1164.3" r="4.2" fill="#1f2a5e"/>
<circle cx="663.8" cy="1168.4" r="4.2" fill="#1f2a5e"/>
<circle cx="663.8" cy="1181" r="4.2" fill="#1f2a5e"/>
<circle cx="663.8" cy="1185.1" r="4.2" fill="#1f2a5e"/>
<circle cx="663.8" cy="1189.3" r="4.2" fill="#1f2a5e"/>
<circle cx="663.8" cy="1193.5" r="4.2" fill="#1f2a5e"/>
<circle cx="663.8" cy="1197.6" r="4.2" fill="#1f2a5e"/>
<circle cx="663.8" cy="1201.8" r="4.2" fill="#1f2a5e"/>
<circle cx="663.8" cy="1115" r="5.3" fill="#1f2a5e" stroke="#101838" stroke-width="1"/>
<circle cx="724.4" cy="1129.6" r="4.2" fill="#1f2a5e"/>
<circle cx="724.4" cy="1139.2" r="4.2" fill="#1f2a5e"/>
<circle cx="724.4" cy="1155.4" r="4.2" fill="#1f2a5e"/>
<circle cx="724.4" cy="1165.1" r="4.2" fill="#1f2a5e"/>
<circle cx="724.4" cy="1176.8" r="4.2" fill="#1f2a5e"/>
<circle cx="724.4" cy="1181" r="4.2" fill="#1f2a5e"/>
<circle cx="724.4" cy="1185.1" r="4.2" fill="#1f2a5e"/>
<circle cx="724.4" cy="1189.3" r="4.2" fill="#1f2a5e"/>
<circle cx="724.4" cy="1194.3" r="4.2" fill="#1f2a5e"/>
<circle cx="724.4" cy="1198.5" r="4.2" fill="#1f2a5e"/>
<circle cx="784.9" cy="1152.1" r="4.2" fill="#961a1e"/>
<circle cx="784.9" cy="1165.9" r="4.2" fill="#961a1e"/>
<circle cx="784.9" cy="1170.1" r="4.2" fill="#961a1e"/>
<circle cx="784.9" cy="1174.3" r="4.2" fill="#961a1e"/>
<circle cx="784.9" cy="1178.5" r="4.2" fill="#961a1e"/>
<circle cx="784.9" cy="1182.6" r="4.2" fill="#961a1e"/>
<circle cx="784.9" cy="1186.8" r="4.2" fill="#961a1e"/>
<circle cx="784.9" cy="1192.6" r="4.2" fill="#961a1e"/>
<circle cx="784.9" cy="1196.8" r="4.2" fill="#961a1e"/>
<circle cx="784.9" cy="1213.5" r="4.2" fill="#961a1e"/>
<circle cx="784.9" cy="1225.2" r="5.3" fill="#961a1e" stroke="#3a1010" stroke-width="1.2"/>
<circle cx="845.4" cy="1155.9" r="4.2" fill="#961a1e"/>
<circle cx="845.4" cy="1165.1" r="4.2" fill="#961a1e"/>
<circle cx="845.4" cy="1172.6" r="4.2" fill="#961a1e"/>
<circle cx="845.4" cy="1176.8" r="4.2" fill="#961a1e"/>
<circle cx="845.4" cy="1181" r="4.2" fill="#961a1e"/>
<circle cx="845.4" cy="1185.1" r="4.2" fill="#961a1e"/>
<circle cx="845.4" cy="1189.3" r="4.2" fill="#961a1e"/>
<circle cx="845.4" cy="1193.5" r="4.2" fill="#961a1e"/>
<circle cx="845.4" cy="1209.3" r="4.2" fill="#961a1e"/>
<circle cx="845.4" cy="1220.2" r="5.3" fill="#961a1e" stroke="#3a1010" stroke-width="1.2"/>
<text x="10" y="1468" font-size="30" font-weight="bold">c</text>
<rect x="49.5" y="1535.4" width="71.95" height="72.4" fill="#e99495"/>
<text x="84.47" y="1579.9" font-size="22" text-anchor="middle">2.04</text>
<rect x="49.5" y="1607.8" width="71.95" height="72.4" fill="#f4c9ca"/>
<text x="84.47" y="1652.3" font-size="22" text-anchor="middle">0.81</text>
<text transform="translate(86.97,1523) rotate(-90)" font-size="22" font-style="italic">IGHA1</text>
<rect x="121.45" y="1535.4" width="71.95" height="72.4" fill="#df6264"/>
<text x="156.43" y="1579.9" font-size="22" text-anchor="middle">3.20</text>
<text x="178.93" y="1580.9" font-size="27" fill="#ffffff">*</text>
<rect x="121.45" y="1607.8" width="71.95" height="72.4" fill="#db4d50"/>
<text x="156.43" y="1652.3" font-size="22" text-anchor="middle">3.68</text>
<text x="178.93" y="1653.3" font-size="27" fill="#ffffff">*</text>
<text transform="translate(158.93,1523) rotate(-90)" font-size="22" font-style="italic">IGHA2</text>
<rect x="193.4" y="1535.4" width="71.95" height="72.4" fill="#fef8f8"/>
<text x="228.38" y="1579.9" font-size="22" text-anchor="middle">−0.28</text>
<rect x="193.4" y="1607.8" width="71.95" height="72.4" fill="#fae4e5"/>
<text x="228.38" y="1652.3" font-size="22" text-anchor="middle">0.17</text>
<text transform="translate(230.88,1523) rotate(-90)" font-size="22" font-style="italic">IGHD</text>
<rect x="265.35" y="1535.4" width="71.95" height="72.4" fill="#ffffff"/>
<text x="300.33" y="1579.9" font-size="22" text-anchor="middle">−0.49</text>
<rect x="265.35" y="1607.8" width="71.95" height="72.4" fill="#f9e1e1"/>
<text x="300.33" y="1652.3" font-size="22" text-anchor="middle">0.25</text>
<text transform="translate(302.83,1523) rotate(-90)" font-size="22" font-style="italic">IGHE</text>
<rect x="337.3" y="1535.4" width="71.95" height="72.4" fill="#f4c7c7"/>
<text x="372.28" y="1579.9" font-size="22" text-anchor="middle">0.86</text>
<rect x="337.3" y="1607.8" width="71.95" height="72.4" fill="#f4c8c9"/>
<text x="372.28" y="1652.3" font-size="22" text-anchor="middle">0.82</text>
<text transform="translate(374.78,1523) rotate(-90)" font-size="22" font-style="italic">IGHG1</text>
<rect x="409.25" y="1535.4" width="71.95" height="72.4" fill="#dc5355"/>
<text x="444.23" y="1579.9" font-size="22" text-anchor="middle">3.55</text>
<text x="466.73" y="1580.9" font-size="27" fill="#ffffff">*</text>
<rect x="409.25" y="1607.8" width="71.95" height="72.4" fill="#d42a2d"/>
<text x="444.23" y="1652.3" font-size="22" text-anchor="middle">4.50</text>
<text x="466.73" y="1653.3" font-size="27" fill="#ffffff">*</text>
<text transform="translate(446.73,1523) rotate(-90)" font-size="22" font-style="italic">IGHG2</text>
<rect x="481.2" y="1535.4" width="71.95" height="72.4" fill="#f5cccd"/>
<text x="516.18" y="1579.9" font-size="22" text-anchor="middle">0.74</text>
<rect x="481.2" y="1607.8" width="71.95" height="72.4" fill="#f8dddd"/>
<text x="516.18" y="1652.3" font-size="22" text-anchor="middle">0.35</text>
<text transform="translate(518.68,1523) rotate(-90)" font-size="22" font-style="italic">IGHG3</text>
<rect x="553.15" y="1535.4" width="71.95" height="72.4" fill="#fceeee"/>
<text x="588.13" y="1579.9" font-size="22" text-anchor="middle">−0.05</text>
<rect x="553.15" y="1607.8" width="71.95" height="72.4" fill="#fcf2f2"/>
<text x="588.13" y="1652.3" font-size="22" text-anchor="middle">−0.14</text>
<text transform="translate(590.63,1523) rotate(-90)" font-size="22" font-style="italic">IGHG4</text>
<rect x="625.1" y="1535.4" width="71.95" height="72.4" fill="#fbedee"/>
<text x="660.08" y="1579.9" font-size="22" text-anchor="middle">−0.04</text>
<rect x="625.1" y="1607.8" width="71.95" height="72.4" fill="#fbecec"/>
<text x="660.08" y="1652.3" font-size="22" text-anchor="middle">0.00</text>
<text transform="translate(662.58,1523) rotate(-90)" font-size="22" font-style="italic">IGHM</text>
<rect x="697.05" y="1535.4" width="71.95" height="72.4" fill="#fcf0f1"/>
<text x="732.03" y="1579.9" font-size="22" text-anchor="middle">−0.11</text>
<rect x="697.05" y="1607.8" width="71.95" height="72.4" fill="#fbe9ea"/>
<text x="732.03" y="1652.3" font-size="22" text-anchor="middle">0.05</text>
<text transform="translate(734.53,1523) rotate(-90)" font-size="22" font-style="italic">IGIP</text>
<rect x="769" y="1535.4" width="71.95" height="72.4" fill="#e78788"/>
<text x="803.98" y="1579.9" font-size="22" text-anchor="middle">2.35</text>
<text x="826.48" y="1580.9" font-size="27" fill="#ffffff">*</text>
<rect x="769" y="1607.8" width="71.95" height="72.4" fill="#e99091"/>
<text x="803.98" y="1652.3" font-size="22" text-anchor="middle">2.14</text>
<text x="826.48" y="1653.3" font-size="27" fill="#ffffff">*</text>
<text transform="translate(806.48,1523) rotate(-90)" font-size="22" font-style="italic">IGKC</text>
<rect x="840.95" y="1535.4" width="71.95" height="72.4" fill="#e57d7f"/>
<text x="875.93" y="1579.9" font-size="22" text-anchor="middle">2.57</text>
<text x="898.43" y="1580.9" font-size="27" fill="#ffffff">*</text>
<rect x="840.95" y="1607.8" width="71.95" height="72.4" fill="#ea9798"/>
<text x="875.93" y="1652.3" font-size="22" text-anchor="middle">1.97</text>
<text transform="translate(878.43,1523) rotate(-90)" font-size="22" font-style="italic">IGLC1</text>
<rect x="912.9" y="1535.4" width="71.95" height="72.4" fill="#eb9a9c"/>
<text x="947.88" y="1579.9" font-size="22" text-anchor="middle">1.89</text>
<rect x="912.9" y="1607.8" width="71.95" height="72.4" fill="#eca3a5"/>
<text x="947.88" y="1652.3" font-size="22" text-anchor="middle">1.68</text>
<text transform="translate(950.38,1523) rotate(-90)" font-size="22" font-style="italic">IGLC2</text>
<rect x="984.85" y="1535.4" width="71.95" height="72.4" fill="#ea999a"/>
<text x="1019.83" y="1579.9" font-size="22" text-anchor="middle">1.93</text>
<rect x="984.85" y="1607.8" width="71.95" height="72.4" fill="#e7888a"/>
<text x="1019.83" y="1652.3" font-size="22" text-anchor="middle">2.31</text>
<text transform="translate(1022.33,1523) rotate(-90)" font-size="22" font-style="italic">IGLC3</text>
<rect x="1056.8" y="1535.4" width="71.95" height="72.4" fill="#e37577"/>
<text x="1091.78" y="1579.9" font-size="22" text-anchor="middle">2.76</text>
<rect x="1056.8" y="1607.8" width="71.95" height="72.4" fill="#efafb0"/>
<text x="1091.78" y="1652.3" font-size="22" text-anchor="middle">1.41</text>
<text transform="translate(1094.28,1523) rotate(-90)" font-size="22" font-style="italic">IGLC7</text>
<rect x="1128.75" y="1535.4" width="71.95" height="72.4" fill="#e88b8c"/>
<text x="1163.72" y="1579.9" font-size="22" text-anchor="middle">2.25</text>
<rect x="1128.75" y="1607.8" width="71.95" height="72.4" fill="#eda6a8"/>
<text x="1163.72" y="1652.3" font-size="22" text-anchor="middle">1.61</text>
<text transform="translate(1166.22,1523) rotate(-90)" font-size="22" font-style="italic">IGLL5</text>
<line x1="49.5" y1="1535.4" x2="49.5" y2="1680.2" stroke="#9a9a9a" stroke-width="2"/>
<line x1="121.45" y1="1535.4" x2="121.45" y2="1680.2" stroke="#9a9a9a" stroke-width="2"/>
<line x1="193.4" y1="1535.4" x2="193.4" y2="1680.2" stroke="#9a9a9a" stroke-width="2"/>
<line x1="265.35" y1="1535.4" x2="265.35" y2="1680.2" stroke="#9a9a9a" stroke-width="2"/>
<line x1="337.3" y1="1535.4" x2="337.3" y2="1680.2" stroke="#9a9a9a" stroke-width="2"/>
<line x1="409.25" y1="1535.4" x2="409.25" y2="1680.2" stroke="#9a9a9a" stroke-width="2"/>
<line x1="481.2" y1="1535.4" x2="481.2" y2="1680.2" stroke="#9a9a9a" stroke-width="2"/>
<line x1="553.15" y1="1535.4" x2="553.15" y2="1680.2" stroke="#9a9a9a" stroke-width="2"/>
<line x1="625.1" y1="1535.4" x2="625.1" y2="1680.2" stroke="#9a9a9a" stroke-width="2"/>
<line x1="697.05" y1="1535.4" x2="697.05" y2="1680.2" stroke="#9a9a9a" stroke-width="2"/>
<line x1="769" y1="1535.4" x2="769" y2="1680.2" stroke="#9a9a9a" stroke-width="2"/>
<line x1="840.95" y1="1535.4" x2="840.95" y2="1680.2" stroke="#9a9a9a" stroke-width="2"/>
<line x1="912.9" y1="1535.4" x2="912.9" y2="1680.2" stroke="#9a9a9a" stroke-width="2"/>
<line x1="984.85" y1="1535.4" x2="984.85" y2="1680.2" stroke="#9a9a9a" stroke-width="2"/>
<line x1="1056.8" y1="1535.4" x2="1056.8" y2="1680.2" stroke="#9a9a9a" stroke-width="2"/>
<line x1="1128.75" y1="1535.4" x2="1128.75" y2="1680.2" stroke="#9a9a9a" stroke-width="2"/>
<line x1="1200.7" y1="1535.4" x2="1200.7" y2="1680.2" stroke="#9a9a9a" stroke-width="2"/>
<line x1="48.5" y1="1535.4" x2="1201.7" y2="1535.4" stroke="#9a9a9a" stroke-width="2"/>
<line x1="48.5" y1="1607.8" x2="1201.7" y2="1607.8" stroke="#9a9a9a" stroke-width="2"/>
<line x1="48.5" y1="1680.2" x2="1201.7" y2="1680.2" stroke="#9a9a9a" stroke-width="2"/>
<text x="1209.4" y="1581.8" font-size="23.4" fill="#1f2a5e">PCV13</text>
<text x="1209.4" y="1647.6" font-size="23.4" fill="#961a1e">PPSV23</text>
<text x="1296.8" y="1531.4" font-size="17.5">Log<tspan font-size="11.5" dy="5">2</tspan><tspan dy="-5"> FC</tspan></text>
<rect x="1326.4" y="1540.3" width="9.2" height="118.7" fill="url(#reds)"/>
<text transform="translate(1342.5,1557.5) scale(0.75,1)" font-size="12.5" text-anchor="middle">4</text>
<text transform="translate(1342.5,1581.5) scale(0.75,1)" font-size="12.5" text-anchor="middle">3</text>
<text transform="translate(1342.5,1606) scale(0.75,1)" font-size="12.5" text-anchor="middle">2</text>
<text transform="translate(1342.5,1630.5) scale(0.75,1)" font-size="12.5" text-anchor="middle">1</text>
<text transform="translate(1342.5,1655) scale(0.75,1)" font-size="12.5" text-anchor="middle">0</text>
<text x="1218.7" y="1687.2" font-size="18.5">*FDR p-value &lt;0.05</text>
<text x="958.8" y="935.7" font-size="30" font-weight="bold">f</text>
<text x="1200" y="932.4" font-size="24" text-anchor="middle" fill="#1f2a5e">PCV13</text>
<text x="1526.7" y="932.4" font-size="24" text-anchor="middle" fill="#961a1e">PPSV23</text>
<text transform="translate(976,1111) rotate(-90)" font-size="21.5" text-anchor="middle">Plasmablasts activity score</text>
<text transform="translate(1003,1111) rotate(-90)" font-size="21.5" text-anchor="middle">(D10-Baseline)</text>
<path d="M1065.06,1115.51 C1070.46,1115.05 1086.67,1113.84 1097.48,1112.73 C1108.29,1111.62 1119.09,1110.61 1129.9,1108.85 C1140.71,1107.09 1151.51,1104.97 1162.32,1102.19 C1173.13,1099.41 1183.93,1096.64 1194.74,1092.2 C1205.55,1087.76 1216.35,1081.56 1227.16,1075.55 C1237.97,1069.54 1248.77,1063.06 1259.58,1056.12 C1270.39,1049.19 1281.19,1041.79 1292,1033.92 C1302.81,1026.06 1319.02,1013.11 1324.42,1008.95 L1324.42,1128.27 C1319.02,1129.29 1302.81,1132.07 1292,1134.38 C1281.19,1136.69 1270.39,1139.19 1259.58,1142.15 C1248.77,1145.11 1237.97,1148.44 1227.16,1152.14 C1216.35,1155.84 1205.55,1160 1194.74,1164.35 C1183.93,1168.7 1173.13,1172.86 1162.32,1178.22 C1151.51,1183.59 1140.71,1189.79 1129.9,1196.54 C1119.09,1203.29 1108.29,1210.88 1097.48,1218.74 C1086.67,1226.6 1070.46,1239.55 1065.06,1243.71 Z" fill="#8b8aae"/>
<line x1="1065.06" y1="1179.89" x2="1324.42" y2="1067.78" stroke="#1f2a5e" stroke-width="1.1"/>
<line x1="1052.1" y1="944.2" x2="1052.1" y2="1259" stroke="#333" stroke-width="1.1"/>
<line x1="1052.1" y1="1259" x2="1336.8" y2="1259" stroke="#333" stroke-width="1.1"/>
<line x1="1046.6" y1="1247.6" x2="1052.1" y2="1247.6" stroke="#333" stroke-width="1"/>
<text x="1044.1" y="1255.1" font-size="21" text-anchor="end">0</text>
<line x1="1046.6" y1="1192.1" x2="1052.1" y2="1192.1" stroke="#333" stroke-width="1"/>
<text x="1044.1" y="1199.6" font-size="21" text-anchor="end">1</text>
<line x1="1046.6" y1="1136.6" x2="1052.1" y2="1136.6" stroke="#333" stroke-width="1"/>
<text x="1044.1" y="1144.1" font-size="21" text-anchor="end">2</text>
<line x1="1046.6" y1="1081.1" x2="1052.1" y2="1081.1" stroke="#333" stroke-width="1"/>
<text x="1044.1" y="1088.6" font-size="21" text-anchor="end">3</text>
<line x1="1046.6" y1="1025.6" x2="1052.1" y2="1025.6" stroke="#333" stroke-width="1"/>
<text x="1044.1" y="1033.1" font-size="21" text-anchor="end">4</text>
<line x1="1046.6" y1="970.1" x2="1052.1" y2="970.1" stroke="#333" stroke-width="1"/>
<text x="1044.1" y="977.6" font-size="21" text-anchor="end">5</text>
<line x1="1129.9" y1="1259" x2="1129.9" y2="1262.5" stroke="#333" stroke-width="1"/>
<text x="1129.9" y="1278.7" font-size="17.3" text-anchor="middle">5</text>
<line x1="1210.95" y1="1259" x2="1210.95" y2="1262.5" stroke="#333" stroke-width="1"/>
<text x="1210.95" y="1278.7" font-size="17.3" text-anchor="middle">10</text>
<line x1="1292" y1="1259" x2="1292" y2="1262.5" stroke="#333" stroke-width="1"/>
<text x="1292" y="1278.7" font-size="17.3" text-anchor="middle">15</text>
<circle cx="1065.06" cy="1128.27" r="4.6" fill="#1f2a5e"/>
<circle cx="1097.48" cy="1192.1" r="4.6" fill="#1f2a5e"/>
<circle cx="1113.69" cy="1161.58" r="4.6" fill="#1f2a5e"/>
<circle cx="1129.9" cy="1193.76" r="4.6" fill="#1f2a5e"/>
<circle cx="1146.11" cy="1126.61" r="4.6" fill="#1f2a5e"/>
<circle cx="1227.16" cy="1108.85" r="4.6" fill="#1f2a5e"/>
<circle cx="1259.58" cy="1036.7" r="4.6" fill="#1f2a5e"/>
<polygon points="1081.27,1158.35 1075.27,1168.55 1087.27,1168.55" fill="#1f2a5e"/>
<polygon points="1194.74,1144.47 1188.74,1154.67 1200.74,1154.67" fill="#1f2a5e"/>
<polygon points="1243.37,1119.5 1237.37,1129.7 1249.37,1129.7" fill="#1f2a5e"/>
<polygon points="1292,1152.8 1286,1163 1298,1163" fill="#1f2a5e"/>
<polygon points="1308.21,953 1302.21,963.2 1314.21,963.2" fill="#1f2a5e"/>
<polygon points="1308.21,1175 1302.21,1185.2 1314.21,1185.2" fill="#1f2a5e"/>
<polygon points="1324.42,1008.5 1318.42,1018.7 1330.42,1018.7" fill="#1f2a5e"/>
<text x="1170.9" y="992.7" font-size="21.7" font-style="italic" text-anchor="middle">R = 0.57, p = 0.034</text>
<path d="M1382.96,1039.79 C1388.06,1042.61 1403.37,1051.98 1413.58,1056.72 C1423.79,1061.47 1433.99,1065.32 1444.2,1068.27 C1454.41,1071.22 1464.61,1073.14 1474.82,1074.42 C1485.03,1075.71 1495.23,1075.96 1505.44,1075.96 C1515.65,1075.96 1525.85,1075.71 1536.06,1074.42 C1546.27,1073.14 1556.47,1071.22 1566.68,1068.27 C1576.89,1065.32 1584.54,1061.85 1597.3,1056.72 C1610.06,1051.59 1635.58,1040.69 1643.23,1037.48 L1643.23,1185.26 C1635.58,1181.15 1610.06,1166.4 1597.3,1160.63 C1584.54,1154.85 1576.89,1153.44 1566.68,1150.62 C1556.47,1147.8 1546.27,1145.23 1536.06,1143.69 C1525.85,1142.15 1515.65,1141.38 1505.44,1141.38 C1495.23,1141.38 1485.03,1142.15 1474.82,1143.69 C1464.61,1145.23 1454.41,1147.8 1444.2,1150.62 C1433.99,1153.44 1423.79,1156.39 1413.58,1160.63 C1403.37,1164.86 1388.06,1173.45 1382.96,1176.02 Z" fill="#c9907e"/>
<line x1="1382.96" y1="1109.06" x2="1643.23" y2="1112.14" stroke="#961a1e" stroke-width="1.1"/>
<line x1="1370.2" y1="944.2" x2="1370.2" y2="1259" stroke="#333" stroke-width="1.1"/>
<line x1="1370.2" y1="1259" x2="1655.3" y2="1259" stroke="#333" stroke-width="1.1"/>
<line x1="1364.7" y1="1222.2" x2="1370.2" y2="1222.2" stroke="#333" stroke-width="1"/>
<text x="1362.2" y="1229.7" font-size="21" text-anchor="end">1</text>
<line x1="1364.7" y1="1145.23" x2="1370.2" y2="1145.23" stroke="#333" stroke-width="1"/>
<text x="1362.2" y="1152.73" font-size="21" text-anchor="end">2</text>
<line x1="1364.7" y1="1068.27" x2="1370.2" y2="1068.27" stroke="#333" stroke-width="1"/>
<text x="1362.2" y="1075.77" font-size="21" text-anchor="end">3</text>
<line x1="1364.7" y1="991.3" x2="1370.2" y2="991.3" stroke="#333" stroke-width="1"/>
<text x="1362.2" y="998.8" font-size="21" text-anchor="end">4</text>
<line x1="1444.2" y1="1259" x2="1444.2" y2="1262.5" stroke="#333" stroke-width="1"/>
<text x="1444.2" y="1278.7" font-size="17.3" text-anchor="middle">5</text>
<line x1="1520.75" y1="1259" x2="1520.75" y2="1262.5" stroke="#333" stroke-width="1"/>
<text x="1520.75" y="1278.7" font-size="17.3" text-anchor="middle">10</text>
<line x1="1597.3" y1="1259" x2="1597.3" y2="1262.5" stroke="#333" stroke-width="1"/>
<text x="1597.3" y="1278.7" font-size="17.3" text-anchor="middle">15</text>
<circle cx="1382.96" cy="1187.57" r="4.6" fill="#961a1e"/>
<circle cx="1398.27" cy="1101.36" r="4.6" fill="#961a1e"/>
<circle cx="1428.89" cy="1085.97" r="4.6" fill="#961a1e"/>
<circle cx="1474.82" cy="1102.9" r="4.6" fill="#961a1e"/>
<circle cx="1536.06" cy="1160.63" r="4.6" fill="#961a1e"/>
<circle cx="1597.3" cy="1035.17" r="4.6" fill="#961a1e"/>
<circle cx="1612.61" cy="1129.84" r="4.6" fill="#961a1e"/>
<circle cx="1643.23" cy="1075.96" r="4.6" fill="#961a1e"/>
<polygon points="1398.27,1083.82 1392.27,1094.02 1404.27,1094.02" fill="#961a1e"/>
<polygon points="1413.58,1112.3 1407.58,1122.5 1419.58,1122.5" fill="#961a1e"/>
<polygon points="1444.2,1054.57 1438.2,1064.77 1450.2,1064.77" fill="#961a1e"/>
<polygon points="1459.51,950.66 1453.51,960.87 1465.51,960.87" fill="#961a1e"/>
<polygon points="1520.75,1231.59 1514.75,1241.79 1526.75,1241.79" fill="#961a1e"/>
<polygon points="1566.68,1235.44 1560.68,1245.64 1572.68,1245.64" fill="#961a1e"/>
<polygon points="1581.99,1079.97 1575.99,1090.17 1587.99,1090.17" fill="#961a1e"/>
<polygon points="1627.92,1073.81 1621.92,1084.01 1633.92,1084.01" fill="#961a1e"/>
<text x="1505.4" y="992.7" font-size="21.7" font-style="italic" text-anchor="middle">R = -0.016, p = 0.95</text>
<text x="1222.2" y="1323.4" font-size="21.5">Vaccine Response Rank</text>
<text x="1222.6" y="1359.8" font-size="21.5">Sex</text>
<circle cx="1278.7" cy="1352" r="5.5" fill="none" stroke="#000" stroke-width="1.1"/>
<text x="1289.2" y="1359.8" font-size="21.5">Men</text>
<polygon points="1363,1345 1356,1358 1370,1358" fill="none" stroke="#000" stroke-width="1.2"/>
<text x="1375.9" y="1359.8" font-size="21.5">Women</text>
<text x="10" y="1781.5" font-size="30" font-weight="bold">d</text>
<text x="871" y="1781" font-size="30" font-weight="bold">e</text>
<defs><clipPath id="clipL"><rect x="0" y="0" width="320" height="2716"/></clipPath><clipPath id="clipE"><rect x="0" y="0" width="1724" height="2716"/></clipPath></defs>
<path d="M109.63,1902.77 C113.3,1903.02 121.85,1903.78 131.62,1904.24 C141.4,1904.7 156.06,1906.38 168.27,1905.52 C180.49,1904.67 192.71,1902.47 204.92,1899.11 C217.14,1895.75 229.35,1891.78 241.57,1885.37 C253.79,1878.95 268.69,1866.83 278.22,1860.63 C287.75,1854.43 295.32,1850.24 298.74,1848.17 L298.74,1960.5 C292.27,1959.89 272.48,1956.99 259.9,1956.83 C247.31,1956.68 235.46,1957.29 223.25,1959.58 C211.03,1961.87 198.81,1965.38 186.6,1970.58 C174.38,1975.77 162.77,1983.4 149.95,1990.73 C137.12,1998.06 116.35,2010.58 109.63,2014.55 Z" fill="#8b8aae"/>
<line x1="109.63" y1="1958.66" x2="298.74" y2="1904.06" stroke="#1f2a5e" stroke-width="1.1"/>
<circle cx="109.63" cy="1908.82" r="3.3" fill="#1f2a5e"/>
<circle cx="127.04" cy="1951.7" r="3.3" fill="#1f2a5e"/>
<circle cx="127.04" cy="1977.36" r="3.3" fill="#1f2a5e"/>
<circle cx="143.9" cy="1937.96" r="3.3" fill="#1f2a5e"/>
<circle cx="143.9" cy="1999.35" r="3.3" fill="#1f2a5e"/>
<circle cx="160.94" cy="1934.29" r="3.3" fill="#1f2a5e"/>
<circle cx="178.35" cy="1954.63" r="3.3" fill="#1f2a5e"/>
<circle cx="230.03" cy="1953.72" r="3.3" fill="#1f2a5e"/>
<circle cx="247.07" cy="1832.77" r="3.3" fill="#1f2a5e"/>
<circle cx="264.48" cy="1952.25" r="3.3" fill="#1f2a5e"/>
<circle cx="264.48" cy="1992.02" r="3.3" fill="#1f2a5e"/>
<circle cx="281.88" cy="1830.76" r="3.3" fill="#1f2a5e"/>
<circle cx="281.88" cy="1844.5" r="3.3" fill="#1f2a5e"/>
<circle cx="298.74" cy="1970.94" r="3.3" fill="#1f2a5e"/>
<line x1="100.47" y1="1821.78" x2="100.47" y2="2024.63" stroke="#333" stroke-width="1.1"/>
<line x1="100.47" y1="2024.63" x2="308.46" y2="2024.63" stroke="#333" stroke-width="1.1"/>
<line x1="95.97" y1="1824.9" x2="100.47" y2="1824.9" stroke="#333" stroke-width="1"/>
<text x="92.97" y="1830.65" font-size="20.8" text-anchor="end">5</text>
<line x1="95.97" y1="1861.18" x2="100.47" y2="1861.18" stroke="#333" stroke-width="1"/>
<text x="92.97" y="1866.93" font-size="20.8" text-anchor="end">4</text>
<line x1="95.97" y1="1897.28" x2="100.47" y2="1897.28" stroke="#333" stroke-width="1"/>
<text x="92.97" y="1903.03" font-size="20.8" text-anchor="end">3</text>
<line x1="95.97" y1="1933.38" x2="100.47" y2="1933.38" stroke="#333" stroke-width="1"/>
<text x="92.97" y="1939.13" font-size="20.8" text-anchor="end">2</text>
<line x1="95.97" y1="1969.29" x2="100.47" y2="1969.29" stroke="#333" stroke-width="1"/>
<text x="92.97" y="1975.04" font-size="20.8" text-anchor="end">1</text>
<line x1="95.97" y1="2005.39" x2="100.47" y2="2005.39" stroke="#333" stroke-width="1"/>
<text x="92.97" y="2011.14" font-size="20.8" text-anchor="end">0</text>
<line x1="126.57" y1="2024.63" x2="126.57" y2="2029.13" stroke="#333" stroke-width="1"/>
<text x="130.57" y="2049.13" font-size="20.8" text-anchor="middle">25</text>
<line x1="183.01" y1="2024.63" x2="183.01" y2="2029.13" stroke="#333" stroke-width="1"/>
<text x="187.01" y="2049.13" font-size="20.8" text-anchor="middle">50</text>
<line x1="239.27" y1="2024.63" x2="239.27" y2="2029.13" stroke="#333" stroke-width="1"/>
<text x="243.27" y="2049.13" font-size="20.8" text-anchor="middle">75</text>
<line x1="294.24" y1="2024.63" x2="294.24" y2="2029.13" stroke="#333" stroke-width="1"/>
<text x="298.24" y="2049.13" font-size="20.8" text-anchor="middle">100</text>
<text x="299.29" y="1812.62" font-size="21.2" font-style="italic" text-anchor="end">R = 0.35, p = 0.22</text>
<text transform="translate(75.49,1912.3) rotate(-90)" font-size="22.5" font-style="italic" text-anchor="middle">IGHA1</text>
<path d="M365.42,1910.47 C369.79,1910.26 381.15,1910.47 391.62,1909.19 C402.1,1907.91 416.06,1905.98 428.27,1902.77 C440.49,1899.57 452.71,1896.06 464.92,1889.95 C477.14,1883.84 489.35,1874.37 501.57,1866.13 C513.79,1857.88 529.36,1846.27 538.22,1840.47 C547.08,1834.67 551.96,1832.84 554.71,1831.31 L554.71,1935.39 C551.96,1935.45 547.08,1935.09 538.22,1935.76 C529.36,1936.43 513.79,1937.29 501.57,1939.42 C489.35,1941.56 477.14,1944.01 464.92,1948.59 C452.71,1953.17 440.49,1958.97 428.27,1966.91 C416.06,1974.85 402.1,1988.29 391.62,1996.23 C381.15,2004.17 369.79,2011.5 365.42,2014.55 Z" fill="#8b8aae"/>
<line x1="365.42" y1="1962.88" x2="554.71" y2="1883.53" stroke="#1f2a5e" stroke-width="1.1"/>
<circle cx="365.42" cy="1877.12" r="3.3" fill="#1f2a5e"/>
<circle cx="382.46" cy="1943.64" r="3.3" fill="#1f2a5e"/>
<circle cx="382.46" cy="2004.48" r="3.3" fill="#1f2a5e"/>
<circle cx="399.87" cy="1905.89" r="3.3" fill="#1f2a5e"/>
<circle cx="399.87" cy="2015.1" r="3.3" fill="#1f2a5e"/>
<circle cx="416.91" cy="1966.54" r="3.3" fill="#1f2a5e"/>
<circle cx="434.32" cy="1946.39" r="3.3" fill="#1f2a5e"/>
<circle cx="485.99" cy="1951.34" r="3.3" fill="#1f2a5e"/>
<circle cx="503.04" cy="1832.77" r="3.3" fill="#1f2a5e"/>
<circle cx="520.45" cy="1938.51" r="3.3" fill="#1f2a5e"/>
<circle cx="520.45" cy="1948.22" r="3.3" fill="#1f2a5e"/>
<circle cx="537.67" cy="1836.81" r="3.3" fill="#1f2a5e"/>
<circle cx="537.67" cy="1863.93" r="3.3" fill="#1f2a5e"/>
<circle cx="554.71" cy="1886.83" r="3.3" fill="#1f2a5e"/>
<line x1="356.81" y1="1821.78" x2="356.81" y2="2024.27" stroke="#333" stroke-width="1.1"/>
<line x1="356.81" y1="2024.27" x2="563.87" y2="2024.27" stroke="#333" stroke-width="1.1"/>
<line x1="352.31" y1="1830.39" x2="356.81" y2="1830.39" stroke="#333" stroke-width="1"/>
<text x="349.31" y="1836.14" font-size="20.8" text-anchor="end">6</text>
<line x1="352.31" y1="1894.53" x2="356.81" y2="1894.53" stroke="#333" stroke-width="1"/>
<text x="349.31" y="1900.28" font-size="20.8" text-anchor="end">4</text>
<line x1="352.31" y1="1959.21" x2="356.81" y2="1959.21" stroke="#333" stroke-width="1"/>
<text x="349.31" y="1964.96" font-size="20.8" text-anchor="end">2</text>
<line x1="352.31" y1="2023.35" x2="356.81" y2="2023.35" stroke="#333" stroke-width="1"/>
<text x="349.31" y="2029.1" font-size="20.8" text-anchor="end">0</text>
<line x1="381.63" y1="2024.27" x2="381.63" y2="2028.77" stroke="#333" stroke-width="1"/>
<text x="385.63" y="2048.77" font-size="20.8" text-anchor="middle">25</text>
<line x1="438.07" y1="2024.27" x2="438.07" y2="2028.77" stroke="#333" stroke-width="1"/>
<text x="442.07" y="2048.77" font-size="20.8" text-anchor="middle">50</text>
<line x1="494.32" y1="2024.27" x2="494.32" y2="2028.77" stroke="#333" stroke-width="1"/>
<text x="498.32" y="2048.77" font-size="20.8" text-anchor="middle">75</text>
<line x1="549.3" y1="2024.27" x2="549.3" y2="2028.77" stroke="#333" stroke-width="1"/>
<text x="553.3" y="2048.77" font-size="20.8" text-anchor="middle">100</text>
<text x="563.87" y="1812.62" font-size="21.2" font-style="italic" text-anchor="end">R = 0.51, p = 0.064</text>
<text transform="translate(331.82,1912.85) rotate(-90)" font-size="22.5" font-style="italic" text-anchor="middle">IGHA2</text>
<path d="M629.27,1831.68 C632.99,1832.53 641.79,1833.66 651.62,1836.81 C661.46,1839.95 676.06,1847.5 688.27,1850.55 C700.49,1853.6 712.71,1854.83 724.92,1855.13 C737.14,1855.44 750.88,1853.91 761.57,1852.38 C772.26,1850.86 780.93,1847.95 789.06,1845.97 C797.18,1843.98 806.77,1841.39 810.31,1840.47 L810.31,1931.73 C806.77,1930.57 797.18,1927.45 789.06,1924.76 C780.93,1922.08 772.26,1918.5 761.57,1915.6 C750.88,1912.7 737.14,1908.73 724.92,1907.36 C712.71,1905.98 700.49,1905.98 688.27,1907.36 C676.06,1908.73 661.46,1913.31 651.62,1915.6 C641.79,1917.89 632.99,1920.18 629.27,1921.1 Z" fill="#8b8aae"/>
<line x1="629.27" y1="1875.65" x2="810.31" y2="1886.28" stroke="#1f2a5e" stroke-width="1.1"/>
<circle cx="629.27" cy="1877.67" r="3.3" fill="#1f2a5e"/>
<circle cx="645.76" cy="1863.01" r="3.3" fill="#1f2a5e"/>
<circle cx="645.76" cy="1895.99" r="3.3" fill="#1f2a5e"/>
<circle cx="662.07" cy="1897.83" r="3.3" fill="#1f2a5e"/>
<circle cx="662.07" cy="1900.94" r="3.3" fill="#1f2a5e"/>
<circle cx="678.74" cy="1833.14" r="3.3" fill="#1f2a5e"/>
<circle cx="695.24" cy="1869.79" r="3.3" fill="#1f2a5e"/>
<circle cx="744.71" cy="1845.6" r="3.3" fill="#1f2a5e"/>
<circle cx="761.2" cy="1874.74" r="3.3" fill="#1f2a5e"/>
<circle cx="777.7" cy="1856.6" r="3.3" fill="#1f2a5e"/>
<circle cx="777.7" cy="2014.92" r="3.3" fill="#1f2a5e"/>
<circle cx="794.19" cy="1855.13" r="3.3" fill="#1f2a5e"/>
<circle cx="794.19" cy="1882.07" r="3.3" fill="#1f2a5e"/>
<circle cx="810.68" cy="1871.26" r="3.3" fill="#1f2a5e"/>
<line x1="620.47" y1="1821.78" x2="620.47" y2="2024.27" stroke="#333" stroke-width="1.1"/>
<line x1="620.47" y1="2024.27" x2="819.84" y2="2024.27" stroke="#333" stroke-width="1.1"/>
<line x1="615.97" y1="1875.29" x2="620.47" y2="1875.29" stroke="#333" stroke-width="1"/>
<text x="612.97" y="1881.04" font-size="20.8" text-anchor="end">0</text>
<line x1="615.97" y1="1931.73" x2="620.47" y2="1931.73" stroke="#333" stroke-width="1"/>
<text x="612.97" y="1937.48" font-size="20.8" text-anchor="end">−1</text>
<line x1="615.97" y1="1988.53" x2="620.47" y2="1988.53" stroke="#333" stroke-width="1"/>
<text x="612.97" y="1994.28" font-size="20.8" text-anchor="end">−2</text>
<line x1="645.84" y1="2024.27" x2="645.84" y2="2028.77" stroke="#333" stroke-width="1"/>
<text x="649.84" y="2048.77" font-size="20.8" text-anchor="middle">25</text>
<line x1="698.8" y1="2024.27" x2="698.8" y2="2028.77" stroke="#333" stroke-width="1"/>
<text x="702.8" y="2048.77" font-size="20.8" text-anchor="middle">50</text>
<line x1="752.49" y1="2024.27" x2="752.49" y2="2028.77" stroke="#333" stroke-width="1"/>
<text x="756.49" y="2048.77" font-size="20.8" text-anchor="middle">75</text>
<line x1="805.81" y1="2024.27" x2="805.81" y2="2028.77" stroke="#333" stroke-width="1"/>
<text x="809.81" y="2048.77" font-size="20.8" text-anchor="middle">100</text>
<text x="830.84" y="1812.62" font-size="21.2" font-style="italic" text-anchor="end">R = -0.085, p = 0.77</text>
<text transform="translate(591.82,1911.39) rotate(-90)" font-size="22.5" font-style="italic" text-anchor="middle">IGHD</text>
<path d="M117.88,2136.81 C123.22,2139.55 138.49,2147.8 149.95,2153.3 C161.4,2158.8 174.38,2166.06 186.6,2169.79 C198.81,2173.52 211.03,2174.89 223.25,2175.65 C235.46,2176.42 247.22,2175.2 259.9,2174.37 C272.57,2173.55 292.73,2171.32 299.29,2170.71 L299.29,2263.25 C292.73,2260.19 272.57,2250.57 259.9,2244.92 C247.22,2239.27 235.46,2233.16 223.25,2229.35 C211.03,2225.53 198.81,2222.78 186.6,2222.02 C174.38,2221.25 161.4,2223.63 149.95,2224.76 C138.49,2225.89 123.22,2228.12 117.88,2228.8 Z" fill="#8b8aae"/>
<line x1="117.88" y1="2183.17" x2="299.29" y2="2216.52" stroke="#1f2a5e" stroke-width="1.1"/>
<circle cx="117.88" cy="2196.91" r="3.3" fill="#1f2a5e"/>
<circle cx="134.01" cy="2156.96" r="3.3" fill="#1f2a5e"/>
<circle cx="134.01" cy="2177.67" r="3.3" fill="#1f2a5e"/>
<circle cx="150.5" cy="2167.41" r="3.3" fill="#1f2a5e"/>
<circle cx="150.5" cy="2203.69" r="3.3" fill="#1f2a5e"/>
<circle cx="167.36" cy="2205.89" r="3.3" fill="#1f2a5e"/>
<circle cx="183.85" cy="2208.27" r="3.3" fill="#1f2a5e"/>
<circle cx="233.32" cy="2223.85" r="3.3" fill="#1f2a5e"/>
<circle cx="249.82" cy="2199.11" r="3.3" fill="#1f2a5e"/>
<circle cx="266.31" cy="2162.09" r="3.3" fill="#1f2a5e"/>
<circle cx="266.31" cy="2254.63" r="3.3" fill="#1f2a5e"/>
<circle cx="282.8" cy="2138.64" r="3.3" fill="#1f2a5e"/>
<circle cx="282.8" cy="2320.42" r="3.3" fill="#1f2a5e"/>
<circle cx="299.29" cy="2183.17" r="3.3" fill="#1f2a5e"/>
<line x1="108.72" y1="2127.28" x2="108.72" y2="2329.58" stroke="#333" stroke-width="1.1"/>
<line x1="108.72" y1="2329.58" x2="308.46" y2="2329.58" stroke="#333" stroke-width="1.1"/>
<line x1="104.22" y1="2184.08" x2="108.72" y2="2184.08" stroke="#333" stroke-width="1"/>
<text x="101.22" y="2189.83" font-size="20.8" text-anchor="end">0</text>
<line x1="104.22" y1="2254.45" x2="108.72" y2="2254.45" stroke="#333" stroke-width="1"/>
<text x="101.22" y="2260.2" font-size="20.8" text-anchor="end">−2</text>
<line x1="104.22" y1="2325.18" x2="108.72" y2="2325.18" stroke="#333" stroke-width="1"/>
<text x="101.22" y="2330.93" font-size="20.8" text-anchor="end">−4</text>
<line x1="136.09" y1="2329.58" x2="136.09" y2="2334.08" stroke="#333" stroke-width="1"/>
<text x="140.09" y="2354.08" font-size="20.8" text-anchor="middle" clip-path="url(#clipL)">25</text>
<line x1="189.96" y1="2329.58" x2="189.96" y2="2334.08" stroke="#333" stroke-width="1"/>
<text x="193.96" y="2354.08" font-size="20.8" text-anchor="middle" clip-path="url(#clipL)">50</text>
<line x1="243.65" y1="2329.58" x2="243.65" y2="2334.08" stroke="#333" stroke-width="1"/>
<text x="247.65" y="2354.08" font-size="20.8" text-anchor="middle" clip-path="url(#clipL)">75</text>
<line x1="296.24" y1="2329.58" x2="296.24" y2="2334.08" stroke="#333" stroke-width="1"/>
<text x="300.24" y="2354.08" font-size="20.8" text-anchor="middle" clip-path="url(#clipL)">100</text>
<text x="302.41" y="2112.07" font-size="21.2" font-style="italic" text-anchor="end">R = -0.27, p = 0.34</text>
<text transform="translate(76.4,2218.72) rotate(-90)" font-size="22.5" font-style="italic" text-anchor="middle">IGHE</text>
<path d="M373.3,2239.06 C379.41,2238.97 397.73,2239.06 409.95,2238.51 C422.16,2237.96 434.38,2238.05 446.6,2235.76 C458.81,2233.47 471.03,2229.35 483.25,2224.76 C495.46,2220.18 507.98,2213.71 519.9,2208.27 C531.81,2202.84 548.91,2194.83 554.71,2192.15 L554.71,2272.77 C548.91,2272.71 531.81,2272.32 519.9,2272.41 C507.98,2272.5 495.46,2272.1 483.25,2273.32 C471.03,2274.55 458.81,2275.92 446.6,2279.74 C434.38,2283.56 422.16,2289.57 409.95,2296.23 C397.73,2302.89 379.41,2315.78 373.3,2319.69 Z" fill="#8b8aae"/>
<line x1="373.3" y1="2279.74" x2="554.71" y2="2233.01" stroke="#1f2a5e" stroke-width="1.1"/>
<circle cx="373.3" cy="2253.72" r="3.3" fill="#1f2a5e"/>
<circle cx="389.79" cy="2261.41" r="3.3" fill="#1f2a5e"/>
<circle cx="389.79" cy="2291.28" r="3.3" fill="#1f2a5e"/>
<circle cx="406.28" cy="2290.73" r="3.3" fill="#1f2a5e"/>
<circle cx="406.28" cy="2297.15" r="3.3" fill="#1f2a5e"/>
<circle cx="422.77" cy="2237.04" r="3.3" fill="#1f2a5e"/>
<circle cx="439.27" cy="2285.24" r="3.3" fill="#1f2a5e"/>
<circle cx="488.74" cy="2232.09" r="3.3" fill="#1f2a5e"/>
<circle cx="505.6" cy="2226.23" r="3.3" fill="#1f2a5e"/>
<circle cx="521.73" cy="2281.2" r="3.3" fill="#1f2a5e"/>
<circle cx="521.73" cy="2287.62" r="3.3" fill="#1f2a5e"/>
<circle cx="538.22" cy="2136.26" r="3.3" fill="#1f2a5e"/>
<circle cx="538.22" cy="2243.64" r="3.3" fill="#1f2a5e"/>
<circle cx="554.71" cy="2264.16" r="3.3" fill="#1f2a5e"/>
<line x1="364.5" y1="2127.28" x2="364.5" y2="2329.58" stroke="#333" stroke-width="1.1"/>
<line x1="364.5" y1="2329.58" x2="563.87" y2="2329.58" stroke="#333" stroke-width="1.1"/>
<line x1="360" y1="2152.02" x2="364.5" y2="2152.02" stroke="#333" stroke-width="1"/>
<text x="357" y="2157.77" font-size="20.8" text-anchor="end">4</text>
<line x1="360" y1="2185.73" x2="364.5" y2="2185.73" stroke="#333" stroke-width="1"/>
<text x="357" y="2191.48" font-size="20.8" text-anchor="end">3</text>
<line x1="360" y1="2219.27" x2="364.5" y2="2219.27" stroke="#333" stroke-width="1"/>
<text x="357" y="2225.02" font-size="20.8" text-anchor="end">2</text>
<line x1="360" y1="2253.17" x2="364.5" y2="2253.17" stroke="#333" stroke-width="1"/>
<text x="357" y="2258.92" font-size="20.8" text-anchor="end">1</text>
<line x1="360" y1="2286.7" x2="364.5" y2="2286.7" stroke="#333" stroke-width="1"/>
<text x="357" y="2292.45" font-size="20.8" text-anchor="end">0</text>
<line x1="360" y1="2320.42" x2="364.5" y2="2320.42" stroke="#333" stroke-width="1"/>
<text x="357" y="2326.17" font-size="20.8" text-anchor="end">−1</text>
<line x1="388.57" y1="2329.58" x2="388.57" y2="2334.08" stroke="#333" stroke-width="1"/>
<text x="392.57" y="2354.08" font-size="20.8" text-anchor="middle">25</text>
<line x1="443.18" y1="2329.58" x2="443.18" y2="2334.08" stroke="#333" stroke-width="1"/>
<text x="447.18" y="2354.08" font-size="20.8" text-anchor="middle">50</text>
<line x1="498.15" y1="2329.58" x2="498.15" y2="2334.08" stroke="#333" stroke-width="1"/>
<text x="502.15" y="2354.08" font-size="20.8" text-anchor="middle">75</text>
<line x1="552.21" y1="2329.58" x2="552.21" y2="2334.08" stroke="#333" stroke-width="1"/>
<text x="556.21" y="2354.08" font-size="20.8" text-anchor="middle">100</text>
<text x="561.13" y="2112.07" font-size="21.2" font-style="italic" text-anchor="end">R = -0.41, p = 0.15</text>
<text transform="translate(331.82,2219.63) rotate(-90)" font-size="22.5" font-style="italic" text-anchor="middle">IGHG1</text>
<path d="M621.39,2232.64 C626.43,2231.64 640.48,2230.05 651.62,2226.6 C662.77,2223.15 676.06,2217.13 688.27,2211.94 C700.49,2206.75 712.71,2202.47 724.92,2195.45 C737.14,2188.42 750.88,2177.12 761.57,2169.79 C772.26,2162.46 780.96,2157.02 789.06,2151.47 C797.15,2145.91 806.62,2138.94 810.13,2136.44 L810.13,2216.52 C806.62,2217.43 797.15,2219.73 789.06,2222.02 C780.96,2224.31 772.26,2226.75 761.57,2230.26 C750.88,2233.77 737.14,2237.9 724.92,2243.09 C712.71,2248.28 700.49,2254.08 688.27,2261.41 C676.06,2268.74 662.77,2278.36 651.62,2287.07 C640.48,2295.77 626.43,2309.21 621.39,2313.64 Z" fill="#8b8aae"/>
<line x1="621.39" y1="2272.77" x2="810.13" y2="2176.2" stroke="#1f2a5e" stroke-width="1.1"/>
<circle cx="621.39" cy="2246.39" r="3.3" fill="#1f2a5e"/>
<circle cx="638.43" cy="2260.13" r="3.3" fill="#1f2a5e"/>
<circle cx="638.43" cy="2320.42" r="3.3" fill="#1f2a5e"/>
<circle cx="655.65" cy="2242.54" r="3.3" fill="#1f2a5e"/>
<circle cx="655.65" cy="2295.31" r="3.3" fill="#1f2a5e"/>
<circle cx="672.7" cy="2237.59" r="3.3" fill="#1f2a5e"/>
<circle cx="690.1" cy="2205.52" r="3.3" fill="#1f2a5e"/>
<circle cx="741.78" cy="2184.82" r="3.3" fill="#1f2a5e"/>
<circle cx="758.82" cy="2168.87" r="3.3" fill="#1f2a5e"/>
<circle cx="776.23" cy="2219.82" r="3.3" fill="#1f2a5e"/>
<circle cx="776.23" cy="2235.39" r="3.3" fill="#1f2a5e"/>
<circle cx="793.09" cy="2144.14" r="3.3" fill="#1f2a5e"/>
<circle cx="810.13" cy="2243.09" r="3.3" fill="#1f2a5e"/>
<line x1="611.68" y1="2127.28" x2="611.68" y2="2329.58" stroke="#333" stroke-width="1.1"/>
<line x1="611.68" y1="2329.58" x2="819.84" y2="2329.58" stroke="#333" stroke-width="1.1"/>
<line x1="607.18" y1="2127.28" x2="611.68" y2="2127.28" stroke="#333" stroke-width="1"/>
<text x="604.18" y="2133.03" font-size="20.8" text-anchor="end">8</text>
<line x1="607.18" y1="2172.54" x2="611.68" y2="2172.54" stroke="#333" stroke-width="1"/>
<text x="604.18" y="2178.29" font-size="20.8" text-anchor="end">6</text>
<line x1="607.18" y1="2218.72" x2="611.68" y2="2218.72" stroke="#333" stroke-width="1"/>
<text x="604.18" y="2224.47" font-size="20.8" text-anchor="end">4</text>
<line x1="607.18" y1="2264.53" x2="611.68" y2="2264.53" stroke="#333" stroke-width="1"/>
<text x="604.18" y="2270.28" font-size="20.8" text-anchor="end">2</text>
<line x1="607.18" y1="2310.52" x2="611.68" y2="2310.52" stroke="#333" stroke-width="1"/>
<text x="604.18" y="2316.27" font-size="20.8" text-anchor="end">0</text>
<line x1="639.96" y1="2329.58" x2="639.96" y2="2334.08" stroke="#333" stroke-width="1"/>
<text x="643.96" y="2354.08" font-size="20.8" text-anchor="middle">25</text>
<line x1="696.22" y1="2329.58" x2="696.22" y2="2334.08" stroke="#333" stroke-width="1"/>
<text x="700.22" y="2354.08" font-size="20.8" text-anchor="middle">50</text>
<line x1="751.74" y1="2329.58" x2="751.74" y2="2334.08" stroke="#333" stroke-width="1"/>
<text x="755.74" y="2354.08" font-size="20.8" text-anchor="middle">75</text>
<line x1="807.63" y1="2329.58" x2="807.63" y2="2334.08" stroke="#333" stroke-width="1"/>
<text x="811.63" y="2354.08" font-size="20.8" text-anchor="middle">100</text>
<text x="835.79" y="2112.62" font-size="21.2" font-style="italic" text-anchor="end">R = -0.68, p = 0.0077</text>
<text transform="translate(591.82,2218.72) rotate(-90)" font-size="22.5" font-style="italic" text-anchor="middle">IGHG2</text>
<path d="M120.99,2520.18 C125.82,2520.49 139.01,2521.4 149.95,2522.02 C160.88,2522.63 174.38,2524.61 186.6,2523.85 C198.81,2523.08 211.03,2521.56 223.25,2517.43 C235.46,2513.31 246.7,2506.29 259.9,2499.11 C273.09,2491.93 295.32,2478.49 302.41,2474.37 L302.41,2577.54 C295.32,2576.99 273.09,2574.33 259.9,2574.24 C246.7,2574.15 235.46,2574.85 223.25,2576.99 C211.03,2579.13 198.81,2582.33 186.6,2587.07 C174.38,2591.8 160.88,2599.22 149.95,2605.39 C139.01,2611.56 125.82,2620.97 120.99,2624.08 Z" fill="#8b8aae"/>
<line x1="120.99" y1="2572.41" x2="302.41" y2="2525.68" stroke="#1f2a5e" stroke-width="1.1"/>
<circle cx="120.99" cy="2580.65" r="3.3" fill="#1f2a5e"/>
<circle cx="137.49" cy="2568.19" r="3.3" fill="#1f2a5e"/>
<circle cx="137.49" cy="2583.77" r="3.3" fill="#1f2a5e"/>
<circle cx="153.98" cy="2591.1" r="3.3" fill="#1f2a5e"/>
<circle cx="153.98" cy="2629.21" r="3.3" fill="#1f2a5e"/>
<circle cx="170.47" cy="2445.05" r="3.3" fill="#1f2a5e"/>
<circle cx="186.96" cy="2565.08" r="3.3" fill="#1f2a5e"/>
<circle cx="236.44" cy="2468.32" r="3.3" fill="#1f2a5e"/>
<circle cx="252.93" cy="2514.69" r="3.3" fill="#1f2a5e"/>
<circle cx="269.42" cy="2577.91" r="3.3" fill="#1f2a5e"/>
<circle cx="269.42" cy="2583.04" r="3.3" fill="#1f2a5e"/>
<circle cx="285.92" cy="2499.11" r="3.3" fill="#1f2a5e"/>
<circle cx="285.92" cy="2517.43" r="3.3" fill="#1f2a5e"/>
<circle cx="302.41" cy="2563.8" r="3.3" fill="#1f2a5e"/>
<line x1="111.83" y1="2435.89" x2="111.83" y2="2638.38" stroke="#333" stroke-width="1.1"/>
<line x1="111.83" y1="2638.38" x2="311.2" y2="2638.38" stroke="#333" stroke-width="1.1"/>
<line x1="107.33" y1="2467.41" x2="111.83" y2="2467.41" stroke="#333" stroke-width="1"/>
<text x="104.33" y="2473.16" font-size="20.8" text-anchor="end">3</text>
<line x1="107.33" y1="2502.41" x2="111.83" y2="2502.41" stroke="#333" stroke-width="1"/>
<text x="104.33" y="2508.16" font-size="20.8" text-anchor="end">2</text>
<line x1="107.33" y1="2537.23" x2="111.83" y2="2537.23" stroke="#333" stroke-width="1"/>
<text x="104.33" y="2542.98" font-size="20.8" text-anchor="end">1</text>
<line x1="107.33" y1="2572.04" x2="111.83" y2="2572.04" stroke="#333" stroke-width="1"/>
<text x="104.33" y="2577.79" font-size="20.8" text-anchor="end">0</text>
<line x1="107.33" y1="2607.23" x2="111.83" y2="2607.23" stroke="#333" stroke-width="1"/>
<text x="104.33" y="2612.98" font-size="20.8" text-anchor="end">−1</text>
<line x1="141.34" y1="2638.38" x2="141.34" y2="2642.88" stroke="#333" stroke-width="1"/>
<text x="145.34" y="2662.88" font-size="20.8" text-anchor="middle" clip-path="url(#clipL)">25</text>
<line x1="195.39" y1="2638.38" x2="195.39" y2="2642.88" stroke="#333" stroke-width="1"/>
<text x="199.39" y="2662.88" font-size="20.8" text-anchor="middle" clip-path="url(#clipL)">50</text>
<line x1="249.27" y1="2638.38" x2="249.27" y2="2642.88" stroke="#333" stroke-width="1"/>
<text x="253.27" y="2662.88" font-size="20.8" text-anchor="middle" clip-path="url(#clipL)">75</text>
<line x1="302.41" y1="2638.38" x2="302.41" y2="2642.88" stroke="#333" stroke-width="1"/>
<text x="306.41" y="2662.88" font-size="20.8" text-anchor="middle" clip-path="url(#clipL)">100</text>
<text x="299.29" y="2422.7" font-size="21.2" font-style="italic" text-anchor="end">R = 0.32, p = 0.26</text>
<text transform="translate(76.4,2525.13) rotate(-90)" font-size="22.5" font-style="italic" text-anchor="middle">IGHG3</text>
<path d="M369.08,2528.43 C375.89,2530.57 395.5,2538.05 409.95,2541.26 C424.39,2544.46 440.49,2547.36 455.76,2547.67 C471.03,2547.98 487.83,2545.38 501.57,2543.09 C515.31,2540.8 528.81,2536.43 538.22,2533.93 C547.63,2531.42 554.71,2529.04 558.01,2528.06 L558.01,2622.25 C554.71,2621.12 547.63,2618.13 538.22,2615.47 C528.81,2612.81 515.31,2608.45 501.57,2606.31 C487.83,2604.17 471.03,2602.19 455.76,2602.64 C440.49,2603.1 424.39,2605.79 409.95,2609.06 C395.5,2612.33 375.89,2620.05 369.08,2622.25 Z" fill="#8b8aae"/>
<line x1="369.08" y1="2575.16" x2="558.01" y2="2575.16" stroke="#1f2a5e" stroke-width="1.1"/>
<circle cx="369.08" cy="2537.59" r="3.3" fill="#1f2a5e"/>
<circle cx="385.76" cy="2561.78" r="3.3" fill="#1f2a5e"/>
<circle cx="385.76" cy="2598.98" r="3.3" fill="#1f2a5e"/>
<circle cx="403.17" cy="2571.49" r="3.3" fill="#1f2a5e"/>
<circle cx="403.17" cy="2597.15" r="3.3" fill="#1f2a5e"/>
<circle cx="420.39" cy="2591.65" r="3.3" fill="#1f2a5e"/>
<circle cx="437.43" cy="2629.21" r="3.3" fill="#1f2a5e"/>
<circle cx="489.11" cy="2445.05" r="3.3" fill="#1f2a5e"/>
<circle cx="506.52" cy="2591.1" r="3.3" fill="#1f2a5e"/>
<circle cx="523.56" cy="2595.31" r="3.3" fill="#1f2a5e"/>
<circle cx="523.56" cy="2613.64" r="3.3" fill="#1f2a5e"/>
<circle cx="540.6" cy="2546.39" r="3.3" fill="#1f2a5e"/>
<circle cx="540.6" cy="2594.95" r="3.3" fill="#1f2a5e"/>
<circle cx="558.01" cy="2577.91" r="3.3" fill="#1f2a5e"/>
<line x1="359.55" y1="2435.89" x2="359.55" y2="2638.38" stroke="#333" stroke-width="1.1"/>
<line x1="359.55" y1="2638.38" x2="567.54" y2="2638.38" stroke="#333" stroke-width="1.1"/>
<line x1="355.05" y1="2451.1" x2="359.55" y2="2451.1" stroke="#333" stroke-width="1"/>
<text x="352.05" y="2456.85" font-size="20.8" text-anchor="end">4</text>
<line x1="355.05" y1="2518.35" x2="359.55" y2="2518.35" stroke="#333" stroke-width="1"/>
<text x="352.05" y="2524.1" font-size="20.8" text-anchor="end">2</text>
<line x1="355.05" y1="2585.24" x2="359.55" y2="2585.24" stroke="#333" stroke-width="1"/>
<text x="352.05" y="2590.99" font-size="20.8" text-anchor="end">0</text>
<line x1="390.71" y1="2638.38" x2="390.71" y2="2642.88" stroke="#333" stroke-width="1"/>
<text x="394.71" y="2662.88" font-size="20.8" text-anchor="middle">25</text>
<line x1="446.05" y1="2638.38" x2="446.05" y2="2642.88" stroke="#333" stroke-width="1"/>
<text x="450.05" y="2662.88" font-size="20.8" text-anchor="middle">50</text>
<line x1="501.94" y1="2638.38" x2="501.94" y2="2642.88" stroke="#333" stroke-width="1"/>
<text x="505.94" y="2662.88" font-size="20.8" text-anchor="middle">75</text>
<line x1="558.01" y1="2638.38" x2="558.01" y2="2642.88" stroke="#333" stroke-width="1"/>
<text x="562.01" y="2662.88" font-size="20.8" text-anchor="middle">100</text>
<text x="562.96" y="2422.7" font-size="21.2" font-style="italic" text-anchor="end">R = -0.00021, p = 1</text>
<text transform="translate(334.57,2524.95) rotate(-90)" font-size="22.5" font-style="italic" text-anchor="middle">IGHG4</text>
<path d="M632.38,2483.17 C638.64,2484.91 656.05,2490.5 669.95,2493.61 C683.84,2496.73 700.49,2501.25 715.76,2501.86 C731.03,2502.47 745.23,2500.39 761.57,2497.28 C777.91,2494.16 805.09,2485.52 813.8,2483.17 L813.8,2573.32 C805.09,2570.88 777.91,2561.87 761.57,2558.66 C745.23,2555.46 731.03,2553.63 715.76,2554.08 C700.49,2554.54 683.84,2558.21 669.95,2561.41 C656.05,2564.62 638.64,2571.34 632.38,2573.32 Z" fill="#8b8aae"/>
<line x1="632.38" y1="2528.43" x2="813.8" y2="2528.43" stroke="#1f2a5e" stroke-width="1.1"/>
<circle cx="632.38" cy="2539.79" r="3.3" fill="#1f2a5e"/>
<circle cx="648.87" cy="2523.3" r="3.3" fill="#1f2a5e"/>
<circle cx="648.87" cy="2548.59" r="3.3" fill="#1f2a5e"/>
<circle cx="665.37" cy="2538.51" r="3.3" fill="#1f2a5e"/>
<circle cx="665.37" cy="2553.72" r="3.3" fill="#1f2a5e"/>
<circle cx="681.86" cy="2444.69" r="3.3" fill="#1f2a5e"/>
<circle cx="698.35" cy="2532.64" r="3.3" fill="#1f2a5e"/>
<circle cx="747.83" cy="2499.11" r="3.3" fill="#1f2a5e"/>
<circle cx="764.32" cy="2531.73" r="3.3" fill="#1f2a5e"/>
<circle cx="781.18" cy="2533.93" r="3.3" fill="#1f2a5e"/>
<circle cx="781.18" cy="2628.85" r="3.3" fill="#1f2a5e"/>
<circle cx="797.67" cy="2460.63" r="3.3" fill="#1f2a5e"/>
<circle cx="797.67" cy="2527.88" r="3.3" fill="#1f2a5e"/>
<circle cx="814.16" cy="2532.09" r="3.3" fill="#1f2a5e"/>
<line x1="623.59" y1="2435.89" x2="623.59" y2="2638.38" stroke="#333" stroke-width="1.1"/>
<line x1="623.59" y1="2638.38" x2="823.51" y2="2638.38" stroke="#333" stroke-width="1.1"/>
<line x1="619.09" y1="2485.37" x2="623.59" y2="2485.37" stroke="#333" stroke-width="1"/>
<text x="616.09" y="2491.12" font-size="20.8" text-anchor="end">1</text>
<line x1="619.09" y1="2536.31" x2="623.59" y2="2536.31" stroke="#333" stroke-width="1"/>
<text x="616.09" y="2542.06" font-size="20.8" text-anchor="end">0</text>
<line x1="619.09" y1="2587.07" x2="623.59" y2="2587.07" stroke="#333" stroke-width="1"/>
<text x="616.09" y="2592.82" font-size="20.8" text-anchor="end">−1</text>
<line x1="652.91" y1="2638.38" x2="652.91" y2="2642.88" stroke="#333" stroke-width="1"/>
<text x="656.91" y="2662.88" font-size="20.8" text-anchor="middle">25</text>
<line x1="706.6" y1="2638.38" x2="706.6" y2="2642.88" stroke="#333" stroke-width="1"/>
<text x="710.6" y="2662.88" font-size="20.8" text-anchor="middle">50</text>
<line x1="760.65" y1="2638.38" x2="760.65" y2="2642.88" stroke="#333" stroke-width="1"/>
<text x="764.65" y="2662.88" font-size="20.8" text-anchor="middle">75</text>
<line x1="810.68" y1="2638.38" x2="810.68" y2="2642.88" stroke="#333" stroke-width="1"/>
<text x="814.68" y="2662.88" font-size="20.8" text-anchor="middle">100</text>
<text x="817.46" y="2422.7" font-size="21.2" font-style="italic" text-anchor="end">R = 0.0014, p = 1</text>
<text transform="translate(593.65,2524.76) rotate(-90)" font-size="22.5" font-style="italic" text-anchor="middle">IGHM</text>
<path d="M973.3,1824.9 C977.88,1826.88 991.62,1832.68 1000.79,1836.81 C1009.95,1840.93 1017.58,1845.97 1028.27,1849.63 C1038.96,1853.3 1052.71,1857.27 1064.92,1858.8 C1077.14,1860.32 1089.35,1859.86 1101.57,1858.8 C1113.79,1857.73 1127.84,1854.28 1138.22,1852.38 C1148.6,1850.49 1159.6,1848.26 1163.87,1847.43 L1163.87,1952.25 C1159.6,1949.5 1148.6,1940.95 1138.22,1935.76 C1127.84,1930.57 1113.79,1924.31 1101.57,1921.1 C1089.35,1917.89 1077.14,1916.98 1064.92,1916.52 C1052.71,1916.06 1038.96,1917.28 1028.27,1918.35 C1017.58,1919.42 1009.95,1921.01 1000.79,1922.93 C991.62,1924.86 977.88,1928.73 973.3,1929.9 Z" fill="#c9907e"/>
<line x1="973.3" y1="1877.12" x2="1163.87" y2="1900.03" stroke="#961a1e" stroke-width="1.1"/>
<circle cx="973.3" cy="1833.69" r="3.3" fill="#961a1e"/>
<circle cx="973.3" cy="1865.58" r="3.3" fill="#961a1e"/>
<circle cx="973.3" cy="1917.98" r="3.3" fill="#961a1e"/>
<circle cx="990.16" cy="1888.66" r="3.3" fill="#961a1e"/>
<circle cx="1024.97" cy="1901.49" r="3.3" fill="#961a1e"/>
<circle cx="1042.38" cy="1871.07" r="3.3" fill="#961a1e"/>
<circle cx="1059.79" cy="1827.28" r="3.3" fill="#961a1e"/>
<circle cx="1059.79" cy="1843.22" r="3.3" fill="#961a1e"/>
<circle cx="1076.83" cy="1988.53" r="3.3" fill="#961a1e"/>
<circle cx="1111.65" cy="1873.09" r="3.3" fill="#961a1e"/>
<circle cx="1111.65" cy="1900.39" r="3.3" fill="#961a1e"/>
<circle cx="1111.65" cy="2017.85" r="3.3" fill="#961a1e"/>
<circle cx="1128.69" cy="1854.58" r="3.3" fill="#961a1e"/>
<circle cx="1146.47" cy="1825.45" r="3.3" fill="#961a1e"/>
<circle cx="1146.47" cy="1902.41" r="3.3" fill="#961a1e"/>
<circle cx="1163.87" cy="1910.1" r="3.3" fill="#961a1e"/>
<line x1="963.59" y1="1814.82" x2="963.59" y2="2027.75" stroke="#333" stroke-width="1.1"/>
<line x1="963.59" y1="2027.75" x2="1173.4" y2="2027.75" stroke="#333" stroke-width="1.1"/>
<line x1="959.09" y1="1831.31" x2="963.59" y2="1831.31" stroke="#333" stroke-width="1"/>
<text x="956.09" y="1837.06" font-size="20.8" text-anchor="end">4</text>
<line x1="959.09" y1="1887.2" x2="963.59" y2="1887.2" stroke="#333" stroke-width="1"/>
<text x="956.09" y="1892.95" font-size="20.8" text-anchor="end">2</text>
<line x1="959.09" y1="1942.54" x2="963.59" y2="1942.54" stroke="#333" stroke-width="1"/>
<text x="956.09" y="1948.29" font-size="20.8" text-anchor="end">0</text>
<line x1="959.09" y1="1998.43" x2="963.59" y2="1998.43" stroke="#333" stroke-width="1"/>
<text x="956.09" y="2004.18" font-size="20.8" text-anchor="end">−2</text>
<line x1="968.8" y1="2027.75" x2="968.8" y2="2032.25" stroke="#333" stroke-width="1"/>
<text x="972.8" y="2052.25" font-size="20.8" text-anchor="middle">0</text>
<line x1="1013.33" y1="2027.75" x2="1013.33" y2="2032.25" stroke="#333" stroke-width="1"/>
<text x="1017.33" y="2052.25" font-size="20.8" text-anchor="middle">20</text>
<line x1="1058.59" y1="2027.75" x2="1058.59" y2="2032.25" stroke="#333" stroke-width="1"/>
<text x="1062.59" y="2052.25" font-size="20.8" text-anchor="middle">40</text>
<line x1="1103.85" y1="2027.75" x2="1103.85" y2="2032.25" stroke="#333" stroke-width="1"/>
<text x="1107.85" y="2052.25" font-size="20.8" text-anchor="middle">60</text>
<line x1="1148.93" y1="2027.75" x2="1148.93" y2="2032.25" stroke="#333" stroke-width="1"/>
<text x="1152.93" y="2052.25" font-size="20.8" text-anchor="middle">80</text>
<text x="1168.09" y="1812.62" font-size="21.2" font-style="italic" text-anchor="end">R = -0.15, p = 0.59</text>
<text transform="translate(933.65,1912.3) rotate(-90)" font-size="22.5" font-style="italic" text-anchor="middle">IGHA1</text>
<path d="M1244.66,1846.34 C1248.87,1847.8 1259.62,1851.22 1269.95,1855.13 C1280.27,1859.04 1294.38,1866.28 1306.6,1869.79 C1318.81,1873.3 1331.03,1875.59 1343.25,1876.2 C1355.46,1876.82 1365.08,1875.5 1379.9,1873.46 C1394.71,1871.41 1423.42,1865.51 1432.12,1863.93 L1432.12,1961.41 C1423.42,1957.75 1394.71,1944.46 1379.9,1939.42 C1365.08,1934.38 1355.46,1932.71 1343.25,1931.18 C1331.03,1929.65 1318.81,1929.35 1306.6,1930.26 C1294.38,1931.18 1280.27,1934.48 1269.95,1936.68 C1259.62,1938.87 1248.87,1942.33 1244.66,1943.46 Z" fill="#c9907e"/>
<line x1="1244.66" y1="1894.53" x2="1432.12" y2="1912.85" stroke="#961a1e" stroke-width="1.1"/>
<circle cx="1244.66" cy="1845.42" r="3.3" fill="#961a1e"/>
<circle cx="1244.66" cy="1892.33" r="3.3" fill="#961a1e"/>
<circle cx="1244.66" cy="1955.55" r="3.3" fill="#961a1e"/>
<circle cx="1261.7" cy="1915.05" r="3.3" fill="#961a1e"/>
<circle cx="1295.6" cy="1879.87" r="3.3" fill="#961a1e"/>
<circle cx="1313.01" cy="1878.4" r="3.3" fill="#961a1e"/>
<circle cx="1330.05" cy="1824.9" r="3.3" fill="#961a1e"/>
<circle cx="1330.05" cy="1858.25" r="3.3" fill="#961a1e"/>
<circle cx="1346.91" cy="2018.22" r="3.3" fill="#961a1e"/>
<circle cx="1381.18" cy="1939.06" r="3.3" fill="#961a1e"/>
<circle cx="1381.18" cy="1941.81" r="3.3" fill="#961a1e"/>
<circle cx="1381.18" cy="1954.45" r="3.3" fill="#961a1e"/>
<circle cx="1397.85" cy="1873.46" r="3.3" fill="#961a1e"/>
<circle cx="1415.08" cy="1853.66" r="3.3" fill="#961a1e"/>
<circle cx="1415.08" cy="1913.4" r="3.3" fill="#961a1e"/>
<circle cx="1432.12" cy="1917.8" r="3.3" fill="#961a1e"/>
<line x1="1235.5" y1="1814.82" x2="1235.5" y2="2027.75" stroke="#333" stroke-width="1.1"/>
<line x1="1235.5" y1="2027.75" x2="1439.63" y2="2027.75" stroke="#333" stroke-width="1.1"/>
<line x1="1231" y1="1871.07" x2="1235.5" y2="1871.07" stroke="#333" stroke-width="1"/>
<text x="1233" y="1883.92" font-size="20.8" text-anchor="end">5.0</text>
<line x1="1231" y1="1928.43" x2="1235.5" y2="1928.43" stroke="#333" stroke-width="1"/>
<text x="1233" y="1941.28" font-size="20.8" text-anchor="end">2.5</text>
<line x1="1231" y1="1986.15" x2="1235.5" y2="1986.15" stroke="#333" stroke-width="1"/>
<text x="1233" y="1999" font-size="20.8" text-anchor="end">0.0</text>
<line x1="1239.79" y1="2027.75" x2="1239.79" y2="2032.25" stroke="#333" stroke-width="1"/>
<text x="1243.79" y="2052.25" font-size="20.8" text-anchor="middle">0</text>
<line x1="1285.05" y1="2027.75" x2="1285.05" y2="2032.25" stroke="#333" stroke-width="1"/>
<text x="1289.05" y="2052.25" font-size="20.8" text-anchor="middle">20</text>
<line x1="1328.67" y1="2027.75" x2="1328.67" y2="2032.25" stroke="#333" stroke-width="1"/>
<text x="1332.67" y="2052.25" font-size="20.8" text-anchor="middle">40</text>
<line x1="1373.01" y1="2027.75" x2="1373.01" y2="2032.25" stroke="#333" stroke-width="1"/>
<text x="1377.01" y="2052.25" font-size="20.8" text-anchor="middle">60</text>
<line x1="1417.54" y1="2027.75" x2="1417.54" y2="2032.25" stroke="#333" stroke-width="1"/>
<text x="1421.54" y="2052.25" font-size="20.8" text-anchor="middle">80</text>
<text x="1428.46" y="1812.62" font-size="21.2" font-style="italic" text-anchor="end">R = -0.12, p = 0.64</text>
<text transform="translate(1201.9,1912.85) rotate(-90)" font-size="22.5" font-style="italic" text-anchor="middle">IGHA2</text>
<path d="M1521.07,1884.45 C1525.78,1886.61 1539.64,1893.24 1549.32,1897.38 C1559,1901.53 1569.21,1906.6 1579.16,1909.32 C1589.11,1912.04 1599.06,1913.7 1609.01,1913.7 C1618.95,1913.7 1628.9,1911.71 1638.85,1909.32 C1648.8,1906.93 1658.41,1902.75 1668.69,1899.37 C1678.97,1895.99 1695.22,1890.75 1700.52,1889.03 L1700.52,2013.17 C1695.22,2010.79 1678.97,2003.23 1668.69,1998.85 C1658.41,1994.47 1648.8,1989.4 1638.85,1986.91 C1628.9,1984.42 1618.95,1983.93 1609.01,1983.93 C1599.06,1983.93 1589.11,1985.09 1579.16,1986.91 C1569.21,1988.73 1559,1991.55 1549.32,1994.87 C1539.64,1998.18 1525.78,2004.82 1521.07,2006.81 Z" fill="#c9907e"/>
<line x1="1521.07" y1="1946.13" x2="1700.52" y2="1951.5" stroke="#961a1e" stroke-width="1.1"/>
<circle cx="1521.07" cy="1846.65" r="3.3" fill="#961a1e"/>
<circle cx="1521.07" cy="1916.88" r="3.3" fill="#961a1e"/>
<circle cx="1521.07" cy="2006.21" r="3.3" fill="#961a1e"/>
<circle cx="1537.38" cy="1971.39" r="3.3" fill="#961a1e"/>
<circle cx="1570.21" cy="1978.55" r="3.3" fill="#961a1e"/>
<circle cx="1586.52" cy="1936.58" r="3.3" fill="#961a1e"/>
<circle cx="1602.64" cy="1944.53" r="3.3" fill="#961a1e"/>
<circle cx="1602.64" cy="1962.04" r="3.3" fill="#961a1e"/>
<circle cx="1618.95" cy="2017.75" r="3.3" fill="#961a1e"/>
<circle cx="1651.78" cy="1824.76" r="3.3" fill="#961a1e"/>
<circle cx="1651.78" cy="1992.28" r="3.3" fill="#961a1e"/>
<circle cx="1651.78" cy="2004.82" r="3.3" fill="#961a1e"/>
<circle cx="1668.09" cy="2010.79" r="3.3" fill="#961a1e"/>
<circle cx="1684.61" cy="1832.13" r="3.3" fill="#961a1e"/>
<circle cx="1684.61" cy="1978.36" r="3.3" fill="#961a1e"/>
<circle cx="1700.52" cy="1957.07" r="3.3" fill="#961a1e"/>
<line x1="1512.51" y1="1815.81" x2="1512.51" y2="2027.7" stroke="#333" stroke-width="1.1"/>
<line x1="1512.51" y1="2027.7" x2="1709.48" y2="2027.7" stroke="#333" stroke-width="1.1"/>
<line x1="1508.01" y1="1825.76" x2="1512.51" y2="1825.76" stroke="#333" stroke-width="1"/>
<text x="1510.01" y="1838.61" font-size="20.8" text-anchor="end">1.00</text>
<line x1="1508.01" y1="1866.54" x2="1512.51" y2="1866.54" stroke="#333" stroke-width="1"/>
<text x="1510.01" y="1879.39" font-size="20.8" text-anchor="end">0.75</text>
<line x1="1508.01" y1="1907.33" x2="1512.51" y2="1907.33" stroke="#333" stroke-width="1"/>
<text x="1510.01" y="1920.18" font-size="20.8" text-anchor="end">0.50</text>
<line x1="1508.01" y1="1947.72" x2="1512.51" y2="1947.72" stroke="#333" stroke-width="1"/>
<text x="1510.01" y="1960.57" font-size="20.8" text-anchor="end">0.25</text>
<line x1="1508.01" y1="1988.5" x2="1512.51" y2="1988.5" stroke="#333" stroke-width="1"/>
<text x="1510.01" y="2001.35" font-size="20.8" text-anchor="end">0.00</text>
<line x1="1516.57" y1="2027.7" x2="1516.57" y2="2032.2" stroke="#333" stroke-width="1"/>
<text x="1520.57" y="2052.2" font-size="20.8" text-anchor="middle">0</text>
<line x1="1558.75" y1="2027.7" x2="1558.75" y2="2032.2" stroke="#333" stroke-width="1"/>
<text x="1562.75" y="2052.2" font-size="20.8" text-anchor="middle">20</text>
<line x1="1601.12" y1="2027.7" x2="1601.12" y2="2032.2" stroke="#333" stroke-width="1"/>
<text x="1605.12" y="2052.2" font-size="20.8" text-anchor="middle">40</text>
<line x1="1643.7" y1="2027.7" x2="1643.7" y2="2032.2" stroke="#333" stroke-width="1"/>
<text x="1647.7" y="2052.2" font-size="20.8" text-anchor="middle">60</text>
<line x1="1686.47" y1="2027.7" x2="1686.47" y2="2032.2" stroke="#333" stroke-width="1"/>
<text x="1690.47" y="2052.2" font-size="20.8" text-anchor="middle">80</text>
<text x="1710.87" y="1811.83" font-size="21.2" font-style="italic" text-anchor="end">R = -0.028, p = 0.92</text>
<text transform="translate(1469.78,1912.3) rotate(-90)" font-size="22.5" font-style="italic" text-anchor="middle">IGHD</text>
<path d="M984.66,2184.45 C988.87,2186.28 999.62,2190.71 1009.95,2195.45 C1020.27,2200.18 1034.38,2208.73 1046.6,2212.85 C1058.81,2216.98 1071.03,2219.42 1083.25,2220.18 C1095.46,2220.95 1106.37,2219.57 1119.9,2217.43 C1133.42,2215.3 1157,2209.04 1164.42,2207.36 L1164.42,2314.19 C1157,2310.28 1133.42,2296.63 1119.9,2290.73 C1106.37,2284.84 1095.46,2280.96 1083.25,2278.82 C1071.03,2276.68 1058.81,2277.14 1046.6,2277.91 C1034.38,2278.67 1020.27,2281.27 1009.95,2283.4 C999.62,2285.54 988.87,2289.51 984.66,2290.73 Z" fill="#c9907e"/>
<line x1="984.66" y1="2237.59" x2="1164.42" y2="2260.5" stroke="#961a1e" stroke-width="1.1"/>
<circle cx="984.66" cy="2154.21" r="3.3" fill="#961a1e"/>
<circle cx="984.66" cy="2203.69" r="3.3" fill="#961a1e"/>
<circle cx="984.66" cy="2306.68" r="3.3" fill="#961a1e"/>
<circle cx="1001.34" cy="2239.42" r="3.3" fill="#961a1e"/>
<circle cx="1033.77" cy="2322.8" r="3.3" fill="#961a1e"/>
<circle cx="1049.9" cy="2230.81" r="3.3" fill="#961a1e"/>
<circle cx="1066.2" cy="2215.05" r="3.3" fill="#961a1e"/>
<circle cx="1066.2" cy="2301.36" r="3.3" fill="#961a1e"/>
<circle cx="1082.7" cy="2292.93" r="3.3" fill="#961a1e"/>
<circle cx="1115.31" cy="2129.48" r="3.3" fill="#961a1e"/>
<circle cx="1115.31" cy="2235.21" r="3.3" fill="#961a1e"/>
<circle cx="1115.31" cy="2288.53" r="3.3" fill="#961a1e"/>
<circle cx="1131.81" cy="2270.94" r="3.3" fill="#961a1e"/>
<circle cx="1147.75" cy="2236.68" r="3.3" fill="#961a1e"/>
<circle cx="1147.75" cy="2268.19" r="3.3" fill="#961a1e"/>
<circle cx="1164.42" cy="2292.93" r="3.3" fill="#961a1e"/>
<line x1="976.6" y1="2119.95" x2="976.6" y2="2332.51" stroke="#333" stroke-width="1.1"/>
<line x1="976.6" y1="2332.51" x2="1173.95" y2="2332.51" stroke="#333" stroke-width="1.1"/>
<line x1="972.1" y1="2134.61" x2="976.6" y2="2134.61" stroke="#333" stroke-width="1"/>
<text x="969.1" y="2140.36" font-size="20.8" text-anchor="end">1.5</text>
<line x1="972.1" y1="2182.62" x2="976.6" y2="2182.62" stroke="#333" stroke-width="1"/>
<text x="969.1" y="2188.37" font-size="20.8" text-anchor="end">1.0</text>
<line x1="972.1" y1="2230.26" x2="976.6" y2="2230.26" stroke="#333" stroke-width="1"/>
<text x="969.1" y="2236.01" font-size="20.8" text-anchor="end">0.5</text>
<line x1="972.1" y1="2278.27" x2="976.6" y2="2278.27" stroke="#333" stroke-width="1"/>
<text x="969.1" y="2284.02" font-size="20.8" text-anchor="end">0.0</text>
<line x1="972.1" y1="2325.55" x2="976.6" y2="2325.55" stroke="#333" stroke-width="1"/>
<text x="969.1" y="2331.3" font-size="20.8" text-anchor="end">−0.5</text>
<line x1="982.16" y1="2332.51" x2="982.16" y2="2337.01" stroke="#333" stroke-width="1"/>
<text x="986.16" y="2357.01" font-size="20.8" text-anchor="middle">0</text>
<line x1="1024.86" y1="2332.51" x2="1024.86" y2="2337.01" stroke="#333" stroke-width="1"/>
<text x="1028.86" y="2357.01" font-size="20.8" text-anchor="middle">20</text>
<line x1="1067.55" y1="2332.51" x2="1067.55" y2="2337.01" stroke="#333" stroke-width="1"/>
<text x="1071.55" y="2357.01" font-size="20.8" text-anchor="middle">40</text>
<line x1="1110.07" y1="2332.51" x2="1110.07" y2="2337.01" stroke="#333" stroke-width="1"/>
<text x="1114.07" y="2357.01" font-size="20.8" text-anchor="middle">60</text>
<line x1="1152.21" y1="2332.51" x2="1152.21" y2="2337.01" stroke="#333" stroke-width="1"/>
<text x="1156.21" y="2357.01" font-size="20.8" text-anchor="middle">80</text>
<text x="1168.09" y="2112.07" font-size="21.2" font-style="italic" text-anchor="end">R = -0.15, p = 0.59</text>
<text transform="translate(933.65,2219.27) rotate(-90)" font-size="22.5" font-style="italic" text-anchor="middle">IGHE</text>
<path d="M1241.54,2170.16 C1246.28,2171.32 1259.11,2174.59 1269.95,2177.12 C1280.79,2179.66 1295.91,2183.84 1306.6,2185.37 C1317.29,2186.89 1324.92,2186.89 1334.08,2186.28 C1343.25,2185.67 1350.88,2184.45 1361.57,2181.7 C1372.26,2178.95 1386.55,2174.22 1398.22,2169.79 C1409.89,2165.36 1426.01,2157.57 1431.57,2155.13 L1431.57,2258.66 C1426.01,2256.99 1409.89,2251.03 1398.22,2248.59 C1386.55,2246.14 1372.26,2244.92 1361.57,2244.01 C1350.88,2243.09 1343.25,2242.78 1334.08,2243.09 C1324.92,2243.39 1317.29,2243.09 1306.6,2245.84 C1295.91,2248.59 1280.79,2254.91 1269.95,2259.58 C1259.11,2264.25 1246.28,2271.49 1241.54,2273.87 Z" fill="#c9907e"/>
<line x1="1241.54" y1="2222.02" x2="1431.57" y2="2206.99" stroke="#961a1e" stroke-width="1.1"/>
<circle cx="1241.54" cy="2143.22" r="3.3" fill="#961a1e"/>
<circle cx="1241.54" cy="2220.18" r="3.3" fill="#961a1e"/>
<circle cx="1241.54" cy="2252.8" r="3.3" fill="#961a1e"/>
<circle cx="1258.59" cy="2217.43" r="3.3" fill="#961a1e"/>
<circle cx="1293.4" cy="2234.84" r="3.3" fill="#961a1e"/>
<circle cx="1310.63" cy="2257.75" r="3.3" fill="#961a1e"/>
<circle cx="1328.04" cy="2187.57" r="3.3" fill="#961a1e"/>
<circle cx="1328.04" cy="2209.55" r="3.3" fill="#961a1e"/>
<circle cx="1345.45" cy="2300.81" r="3.3" fill="#961a1e"/>
<circle cx="1379.9" cy="2129.48" r="3.3" fill="#961a1e"/>
<circle cx="1379.9" cy="2156.96" r="3.3" fill="#961a1e"/>
<circle cx="1379.9" cy="2322.8" r="3.3" fill="#961a1e"/>
<circle cx="1397.3" cy="2238.14" r="3.3" fill="#961a1e"/>
<circle cx="1414.35" cy="2172.91" r="3.3" fill="#961a1e"/>
<circle cx="1414.35" cy="2198.56" r="3.3" fill="#961a1e"/>
<circle cx="1432.12" cy="2191.78" r="3.3" fill="#961a1e"/>
<line x1="1231.83" y1="2119.95" x2="1231.83" y2="2332.51" stroke="#333" stroke-width="1.1"/>
<line x1="1231.83" y1="2332.51" x2="1439.63" y2="2332.51" stroke="#333" stroke-width="1.1"/>
<line x1="1227.33" y1="2135.89" x2="1231.83" y2="2135.89" stroke="#333" stroke-width="1"/>
<text x="1224.33" y="2141.64" font-size="20.8" text-anchor="end">3</text>
<line x1="1227.33" y1="2180.42" x2="1231.83" y2="2180.42" stroke="#333" stroke-width="1"/>
<text x="1224.33" y="2186.17" font-size="20.8" text-anchor="end">2</text>
<line x1="1227.33" y1="2225.31" x2="1231.83" y2="2225.31" stroke="#333" stroke-width="1"/>
<text x="1224.33" y="2231.06" font-size="20.8" text-anchor="end">1</text>
<line x1="1227.33" y1="2270.21" x2="1231.83" y2="2270.21" stroke="#333" stroke-width="1"/>
<text x="1224.33" y="2275.96" font-size="20.8" text-anchor="end">0</text>
<line x1="1227.33" y1="2314.55" x2="1231.83" y2="2314.55" stroke="#333" stroke-width="1"/>
<text x="1224.33" y="2320.3" font-size="20.8" text-anchor="end">−1</text>
<line x1="1239.04" y1="2332.51" x2="1239.04" y2="2337.01" stroke="#333" stroke-width="1"/>
<text x="1243.04" y="2357.01" font-size="20.8" text-anchor="middle">0</text>
<line x1="1283.94" y1="2332.51" x2="1283.94" y2="2337.01" stroke="#333" stroke-width="1"/>
<text x="1287.94" y="2357.01" font-size="20.8" text-anchor="middle">20</text>
<line x1="1328.84" y1="2332.51" x2="1328.84" y2="2337.01" stroke="#333" stroke-width="1"/>
<text x="1332.84" y="2357.01" font-size="20.8" text-anchor="middle">40</text>
<line x1="1373.73" y1="2332.51" x2="1373.73" y2="2337.01" stroke="#333" stroke-width="1"/>
<text x="1377.73" y="2357.01" font-size="20.8" text-anchor="middle">60</text>
<line x1="1418.63" y1="2332.51" x2="1418.63" y2="2337.01" stroke="#333" stroke-width="1"/>
<text x="1422.63" y="2357.01" font-size="20.8" text-anchor="middle">80</text>
<text x="1421.68" y="2112.07" font-size="21.2" font-style="italic" text-anchor="end">R = -0.1, p = 0.71</text>
<text transform="translate(1201.9,2216.52) rotate(-90)" font-size="22.5" font-style="italic" text-anchor="middle">IGHG1</text>
<path d="M1513.51,2143.27 C1519.48,2144.33 1536.72,2147.08 1549.32,2149.63 C1561.92,2152.19 1577.5,2156.99 1589.11,2158.59 C1600.72,2160.18 1609.01,2159.85 1618.95,2159.18 C1628.9,2158.52 1638.85,2157.03 1648.8,2154.61 C1658.74,2152.19 1670.02,2147.64 1678.64,2144.66 C1687.26,2141.68 1696.88,2138.03 1700.52,2136.7 L1700.52,2224.84 C1696.88,2224.08 1687.26,2222.35 1678.64,2220.26 C1670.02,2218.17 1658.74,2214.29 1648.8,2212.3 C1638.85,2210.31 1628.9,2208.89 1618.95,2208.32 C1609.01,2207.76 1600.72,2207.43 1589.11,2208.92 C1577.5,2210.41 1561.92,2213.83 1549.32,2217.28 C1536.72,2220.73 1519.48,2227.56 1513.51,2229.61 Z" fill="#c9907e"/>
<line x1="1513.51" y1="2186.84" x2="1700.52" y2="2180.07" stroke="#961a1e" stroke-width="1.1"/>
<circle cx="1513.11" cy="2153.61" r="3.3" fill="#961a1e"/>
<circle cx="1513.11" cy="2180.07" r="3.3" fill="#961a1e"/>
<circle cx="1513.11" cy="2239.56" r="3.3" fill="#961a1e"/>
<circle cx="1530.02" cy="2162.57" r="3.3" fill="#961a1e"/>
<circle cx="1564.24" cy="2154.61" r="3.3" fill="#961a1e"/>
<circle cx="1581.55" cy="2180.47" r="3.3" fill="#961a1e"/>
<circle cx="1598.06" cy="2162.57" r="3.3" fill="#961a1e"/>
<circle cx="1598.06" cy="2165.55" r="3.3" fill="#961a1e"/>
<circle cx="1615.57" cy="2322.32" r="3.3" fill="#961a1e"/>
<circle cx="1649.39" cy="2177.49" r="3.3" fill="#961a1e"/>
<circle cx="1649.39" cy="2184.85" r="3.3" fill="#961a1e"/>
<circle cx="1649.39" cy="2205.94" r="3.3" fill="#961a1e"/>
<circle cx="1666.3" cy="2129.34" r="3.3" fill="#961a1e"/>
<circle cx="1683.61" cy="2162.57" r="3.3" fill="#961a1e"/>
<circle cx="1683.61" cy="2165.55" r="3.3" fill="#961a1e"/>
<circle cx="1700.52" cy="2193.8" r="3.3" fill="#961a1e"/>
<line x1="1503.96" y1="2120.79" x2="1503.96" y2="2332.27" stroke="#333" stroke-width="1.1"/>
<line x1="1503.96" y1="2332.27" x2="1709.48" y2="2332.27" stroke="#333" stroke-width="1.1"/>
<line x1="1499.46" y1="2163.96" x2="1503.96" y2="2163.96" stroke="#333" stroke-width="1"/>
<text x="1501.46" y="2176.81" font-size="20.8" text-anchor="end">5.0</text>
<line x1="1499.46" y1="2222.25" x2="1503.96" y2="2222.25" stroke="#333" stroke-width="1"/>
<text x="1501.46" y="2235.1" font-size="20.8" text-anchor="end">2.5</text>
<line x1="1499.46" y1="2280.35" x2="1503.96" y2="2280.35" stroke="#333" stroke-width="1"/>
<text x="1501.46" y="2293.2" font-size="20.8" text-anchor="end">0.0</text>
<line x1="1510.61" y1="2332.27" x2="1510.61" y2="2336.77" stroke="#333" stroke-width="1"/>
<text x="1514.61" y="2356.77" font-size="20.8" text-anchor="middle">0</text>
<line x1="1554.78" y1="2332.27" x2="1554.78" y2="2336.77" stroke="#333" stroke-width="1"/>
<text x="1558.78" y="2356.77" font-size="20.8" text-anchor="middle">20</text>
<line x1="1599.14" y1="2332.27" x2="1599.14" y2="2336.77" stroke="#333" stroke-width="1"/>
<text x="1603.14" y="2356.77" font-size="20.8" text-anchor="middle">40</text>
<line x1="1643.71" y1="2332.27" x2="1643.71" y2="2336.77" stroke="#333" stroke-width="1"/>
<text x="1647.71" y="2356.77" font-size="20.8" text-anchor="middle">60</text>
<line x1="1688.08" y1="2332.27" x2="1688.08" y2="2336.77" stroke="#333" stroke-width="1"/>
<text x="1692.08" y="2356.77" font-size="20.8" text-anchor="middle">80</text>
<text x="1707.49" y="2111.43" font-size="21.2" font-style="italic" text-anchor="end">R = 0.049, p = 0.86</text>
<text transform="translate(1469.78,2215.29) rotate(-90)" font-size="22.5" font-style="italic" text-anchor="middle">IGHG2</text>
<path d="M979.71,2494.53 C984.75,2495.29 998.8,2497.74 1009.95,2499.11 C1021.1,2500.48 1034.38,2502.77 1046.6,2502.77 C1058.81,2502.77 1071.03,2501.86 1083.25,2499.11 C1095.46,2496.36 1105.39,2491.17 1119.9,2486.28 C1134.4,2481.4 1161.89,2472.54 1170.29,2469.79 L1170.29,2559.58 C1161.89,2558.21 1134.4,2552.71 1119.9,2551.34 C1105.39,2549.96 1095.46,2550.27 1083.25,2551.34 C1071.03,2552.4 1058.81,2554.24 1046.6,2557.75 C1034.38,2561.26 1021.1,2567.92 1009.95,2572.41 C998.8,2576.9 984.75,2582.64 979.71,2584.69 Z" fill="#c9907e"/>
<line x1="979.71" y1="2539.06" x2="1170.29" y2="2515.05" stroke="#961a1e" stroke-width="1.1"/>
<circle cx="979.35" cy="2531.18" r="3.3" fill="#961a1e"/>
<circle cx="979.35" cy="2535.39" r="3.3" fill="#961a1e"/>
<circle cx="979.35" cy="2540.71" r="3.3" fill="#961a1e"/>
<circle cx="997.12" cy="2537.23" r="3.3" fill="#961a1e"/>
<circle cx="1031.57" cy="2530.26" r="3.3" fill="#961a1e"/>
<circle cx="1049.35" cy="2513.4" r="3.3" fill="#961a1e"/>
<circle cx="1066.2" cy="2515.6" r="3.3" fill="#961a1e"/>
<circle cx="1066.2" cy="2526.6" r="3.3" fill="#961a1e"/>
<circle cx="1083.61" cy="2587.43" r="3.3" fill="#961a1e"/>
<circle cx="1118.06" cy="2448.72" r="3.3" fill="#961a1e"/>
<circle cx="1118.06" cy="2512.85" r="3.3" fill="#961a1e"/>
<circle cx="1118.06" cy="2630.68" r="3.3" fill="#961a1e"/>
<circle cx="1135.84" cy="2562.33" r="3.3" fill="#961a1e"/>
<circle cx="1152.88" cy="2437.36" r="3.3" fill="#961a1e"/>
<circle cx="1152.88" cy="2485.92" r="3.3" fill="#961a1e"/>
<circle cx="1170.29" cy="2540.89" r="3.3" fill="#961a1e"/>
<line x1="970.18" y1="2428.56" x2="970.18" y2="2640.21" stroke="#333" stroke-width="1.1"/>
<line x1="970.18" y1="2640.21" x2="1179.45" y2="2640.21" stroke="#333" stroke-width="1.1"/>
<line x1="965.68" y1="2437.36" x2="970.18" y2="2437.36" stroke="#333" stroke-width="1"/>
<text x="962.68" y="2443.11" font-size="20.8" text-anchor="end">2</text>
<line x1="965.68" y1="2489.4" x2="970.18" y2="2489.4" stroke="#333" stroke-width="1"/>
<text x="962.68" y="2495.15" font-size="20.8" text-anchor="end">1</text>
<line x1="965.68" y1="2541.26" x2="970.18" y2="2541.26" stroke="#333" stroke-width="1"/>
<text x="962.68" y="2547.01" font-size="20.8" text-anchor="end">0</text>
<line x1="965.68" y1="2593.12" x2="970.18" y2="2593.12" stroke="#333" stroke-width="1"/>
<text x="962.68" y="2598.87" font-size="20.8" text-anchor="end">−1</text>
<line x1="979.35" y1="2640.21" x2="979.35" y2="2644.71" stroke="#333" stroke-width="1"/>
<text x="983.35" y="2664.71" font-size="20.8" text-anchor="middle">0</text>
<line x1="1024.61" y1="2640.21" x2="1024.61" y2="2644.71" stroke="#333" stroke-width="1"/>
<text x="1028.61" y="2664.71" font-size="20.8" text-anchor="middle">20</text>
<line x1="1069.5" y1="2640.21" x2="1069.5" y2="2644.71" stroke="#333" stroke-width="1"/>
<text x="1073.5" y="2664.71" font-size="20.8" text-anchor="middle">40</text>
<line x1="1114.4" y1="2640.21" x2="1114.4" y2="2644.71" stroke="#333" stroke-width="1"/>
<text x="1118.4" y="2664.71" font-size="20.8" text-anchor="middle">60</text>
<line x1="1160.21" y1="2640.21" x2="1160.21" y2="2644.71" stroke="#333" stroke-width="1"/>
<text x="1164.21" y="2664.71" font-size="20.8" text-anchor="middle">80</text>
<text x="1168.09" y="2423.06" font-size="21.2" font-style="italic" text-anchor="end">R = -0.18, p = 0.49</text>
<text transform="translate(933.65,2525.13) rotate(-90)" font-size="22.5" font-style="italic" text-anchor="middle">IGHG3</text>
<path d="M1248.51,2457.88 C1253.61,2460.78 1267.9,2469.64 1279.11,2475.29 C1290.32,2480.94 1303.54,2487.96 1315.76,2491.78 C1327.98,2495.6 1340.19,2496.97 1352.41,2498.19 C1364.62,2499.42 1374.7,2499.57 1389.06,2499.11 C1403.41,2498.65 1430.29,2496.06 1438.53,2495.45 L1438.53,2582.49 C1430.29,2578.82 1403.41,2566.15 1389.06,2560.5 C1374.7,2554.85 1364.62,2551.79 1352.41,2548.59 C1340.19,2545.38 1327.98,2542.33 1315.76,2541.26 C1303.54,2540.19 1290.32,2541.41 1279.11,2542.17 C1267.9,2542.94 1253.61,2545.23 1248.51,2545.84 Z" fill="#c9907e"/>
<line x1="1248.51" y1="2501.49" x2="1438.53" y2="2539.42" stroke="#961a1e" stroke-width="1.1"/>
<circle cx="1247.96" cy="2437.36" r="3.3" fill="#961a1e"/>
<circle cx="1247.96" cy="2486.28" r="3.3" fill="#961a1e"/>
<circle cx="1247.96" cy="2552.25" r="3.3" fill="#961a1e"/>
<circle cx="1265" cy="2547.67" r="3.3" fill="#961a1e"/>
<circle cx="1299.82" cy="2516.15" r="3.3" fill="#961a1e"/>
<circle cx="1317.23" cy="2482.98" r="3.3" fill="#961a1e"/>
<circle cx="1334.63" cy="2450.55" r="3.3" fill="#961a1e"/>
<circle cx="1334.63" cy="2567.83" r="3.3" fill="#961a1e"/>
<circle cx="1351.49" cy="2501.49" r="3.3" fill="#961a1e"/>
<circle cx="1386.68" cy="2511.94" r="3.3" fill="#961a1e"/>
<circle cx="1386.68" cy="2545.47" r="3.3" fill="#961a1e"/>
<circle cx="1386.68" cy="2630.68" r="3.3" fill="#961a1e"/>
<circle cx="1403.72" cy="2535.21" r="3.3" fill="#961a1e"/>
<circle cx="1421.13" cy="2523.85" r="3.3" fill="#961a1e"/>
<circle cx="1421.13" cy="2537.59" r="3.3" fill="#961a1e"/>
<circle cx="1438.17" cy="2499.48" r="3.3" fill="#961a1e"/>
<line x1="1238.8" y1="2428.56" x2="1238.8" y2="2640.21" stroke="#333" stroke-width="1.1"/>
<line x1="1238.8" y1="2640.21" x2="1448.06" y2="2640.21" stroke="#333" stroke-width="1.1"/>
<line x1="1234.3" y1="2473.46" x2="1238.8" y2="2473.46" stroke="#333" stroke-width="1"/>
<text x="1231.3" y="2479.21" font-size="20.8" text-anchor="end">1</text>
<line x1="1234.3" y1="2526.05" x2="1238.8" y2="2526.05" stroke="#333" stroke-width="1"/>
<text x="1231.3" y="2531.8" font-size="20.8" text-anchor="end">0</text>
<line x1="1234.3" y1="2578.82" x2="1238.8" y2="2578.82" stroke="#333" stroke-width="1"/>
<text x="1231.3" y="2584.57" font-size="20.8" text-anchor="end">−1</text>
<line x1="1234.3" y1="2631.41" x2="1238.8" y2="2631.41" stroke="#333" stroke-width="1"/>
<text x="1231.3" y="2637.16" font-size="20.8" text-anchor="end">−2</text>
<line x1="1248.51" y1="2640.21" x2="1248.51" y2="2644.71" stroke="#333" stroke-width="1"/>
<text x="1252.51" y="2664.71" font-size="20.8" text-anchor="middle">0</text>
<line x1="1292.85" y1="2640.21" x2="1292.85" y2="2644.71" stroke="#333" stroke-width="1"/>
<text x="1296.85" y="2664.71" font-size="20.8" text-anchor="middle">20</text>
<line x1="1338.12" y1="2640.21" x2="1338.12" y2="2644.71" stroke="#333" stroke-width="1"/>
<text x="1342.12" y="2664.71" font-size="20.8" text-anchor="middle">40</text>
<line x1="1383.19" y1="2640.21" x2="1383.19" y2="2644.71" stroke="#333" stroke-width="1"/>
<text x="1387.19" y="2664.71" font-size="20.8" text-anchor="middle">60</text>
<line x1="1428.46" y1="2640.21" x2="1428.46" y2="2644.71" stroke="#333" stroke-width="1"/>
<text x="1432.46" y="2664.71" font-size="20.8" text-anchor="middle">80</text>
<text x="1429.37" y="2423.06" font-size="21.2" font-style="italic" text-anchor="end">R = -0.28, p = 0.29</text>
<text transform="translate(1207.4,2525.13) rotate(-90)" font-size="22.5" font-style="italic" text-anchor="middle">IGHG4</text>
<path d="M1516.49,2437.7 C1521.96,2439.35 1537.22,2444 1549.32,2447.64 C1561.42,2451.29 1575.85,2456.93 1589.11,2459.58 C1602.37,2462.23 1615.64,2463.56 1628.9,2463.56 C1642.16,2463.56 1655.66,2461.74 1668.69,2459.58 C1681.72,2457.43 1700.69,2452.12 1707.09,2450.63 L1707.09,2536.77 C1700.69,2534.02 1681.72,2524.34 1668.69,2520.26 C1655.66,2516.18 1642.16,2513.8 1628.9,2512.3 C1615.64,2510.81 1602.37,2510.48 1589.11,2511.31 C1575.85,2512.14 1561.42,2515.29 1549.32,2517.28 C1537.22,2519.27 1521.96,2522.25 1516.49,2523.25 Z" fill="#c9907e"/>
<line x1="1516.49" y1="2480.07" x2="1707.09" y2="2493.8" stroke="#961a1e" stroke-width="1.1"/>
<circle cx="1516.49" cy="2444.06" r="3.3" fill="#961a1e"/>
<circle cx="1516.49" cy="2451.62" r="3.3" fill="#961a1e"/>
<circle cx="1516.49" cy="2488.43" r="3.3" fill="#961a1e"/>
<circle cx="1533.4" cy="2513.9" r="3.3" fill="#961a1e"/>
<circle cx="1568.22" cy="2500.37" r="3.3" fill="#961a1e"/>
<circle cx="1585.53" cy="2480.07" r="3.3" fill="#961a1e"/>
<circle cx="1603.04" cy="2468.93" r="3.3" fill="#961a1e"/>
<circle cx="1603.04" cy="2471.92" r="3.3" fill="#961a1e"/>
<circle cx="1620.54" cy="2514.69" r="3.3" fill="#961a1e"/>
<circle cx="1655.16" cy="2466.94" r="3.3" fill="#961a1e"/>
<circle cx="1655.16" cy="2490.02" r="3.3" fill="#961a1e"/>
<circle cx="1655.16" cy="2630.68" r="3.3" fill="#961a1e"/>
<circle cx="1672.27" cy="2492.41" r="3.3" fill="#961a1e"/>
<circle cx="1689.58" cy="2449.24" r="3.3" fill="#961a1e"/>
<circle cx="1689.58" cy="2461.97" r="3.3" fill="#961a1e"/>
<circle cx="1707.09" cy="2469.93" r="3.3" fill="#961a1e"/>
<line x1="1506.94" y1="2427.75" x2="1506.94" y2="2640.03" stroke="#333" stroke-width="1.1"/>
<line x1="1506.94" y1="2640.03" x2="1716.44" y2="2640.03" stroke="#333" stroke-width="1.1"/>
<line x1="1502.44" y1="2447.25" x2="1506.94" y2="2447.25" stroke="#333" stroke-width="1"/>
<text x="1499.44" y="2453" font-size="20.8" text-anchor="end">1</text>
<line x1="1502.44" y1="2495.99" x2="1506.94" y2="2495.99" stroke="#333" stroke-width="1"/>
<text x="1499.44" y="2501.74" font-size="20.8" text-anchor="end">0</text>
<line x1="1502.44" y1="2544.53" x2="1506.94" y2="2544.53" stroke="#333" stroke-width="1"/>
<text x="1499.44" y="2550.28" font-size="20.8" text-anchor="end">−1</text>
<line x1="1502.44" y1="2592.88" x2="1506.94" y2="2592.88" stroke="#333" stroke-width="1"/>
<text x="1499.44" y="2598.63" font-size="20.8" text-anchor="end">−2</text>
<line x1="1516.49" y1="2640.03" x2="1516.49" y2="2644.53" stroke="#333" stroke-width="1"/>
<text x="1520.49" y="2664.53" font-size="20.8" text-anchor="middle">0</text>
<line x1="1561.26" y1="2640.03" x2="1561.26" y2="2644.53" stroke="#333" stroke-width="1"/>
<text x="1565.26" y="2664.53" font-size="20.8" text-anchor="middle">20</text>
<line x1="1606.42" y1="2640.03" x2="1606.42" y2="2644.53" stroke="#333" stroke-width="1"/>
<text x="1610.42" y="2664.53" font-size="20.8" text-anchor="middle">40</text>
<line x1="1651.38" y1="2640.03" x2="1651.38" y2="2644.53" stroke="#333" stroke-width="1"/>
<text x="1655.38" y="2664.53" font-size="20.8" text-anchor="middle">60</text>
<line x1="1696.54" y1="2640.03" x2="1696.54" y2="2644.53" stroke="#333" stroke-width="1"/>
<text x="1700.54" y="2664.53" font-size="20.8" text-anchor="middle">80</text>
<text x="1705.5" y="2422.38" font-size="21.2" font-style="italic" text-anchor="end">R = -0.11, p = 0.69</text>
<text transform="translate(1475.75,2524.74) rotate(-90)" font-size="22.5" font-style="italic" text-anchor="middle">IGHM</text>
<line x1="46.8" y1="1828" x2="46.8" y2="2684.4" stroke="#555" stroke-width="1.1"/>
<line x1="46.8" y1="2684.4" x2="809.5" y2="2684.4" stroke="#555" stroke-width="1.1"/>
<polyline points="42.8,1836 46.8,1826.5 50.8,1836" fill="none" stroke="#555" stroke-width="1.1"/>
<polyline points="801.5,2680.4 810.5,2684.4 801.5,2688.4" fill="none" stroke="#555" stroke-width="1.1"/>
<polygon points="801.5,2680.6 810.5,2684.4 801.5,2688.2" fill="#333"/>
<text x="485.7" y="2711.4" font-size="21.3" text-anchor="middle">Extent of response (% of serotypes out of 13)</text>
<text transform="translate(34.2,2194.7) rotate(-90)" font-size="22" text-anchor="middle">Log<tspan font-size="14.5" dy="5">2</tspan><tspan dy="-5">  fold change  (D10 - Baseline)</tspan></text>
<line x1="907.5" y1="1828" x2="907.5" y2="2684.4" stroke="#555" stroke-width="1.1"/>
<line x1="907.5" y1="2684.4" x2="1670.4" y2="2684.4" stroke="#555" stroke-width="1.1"/>
<polyline points="903.5,1836 907.5,1826.5 911.5,1836" fill="none" stroke="#555" stroke-width="1.1"/>
<polyline points="1662.4,2680.4 1671.4,2684.4 1662.4,2688.4" fill="none" stroke="#555" stroke-width="1.1"/>
<polygon points="1662.4,2680.6 1671.4,2684.4 1662.4,2688.2" fill="#333"/>
<text x="1333" y="2711.4" font-size="21.3" text-anchor="middle">Extent of response (% of serotypes out of 13)</text>
<text transform="translate(894.2,2194.7) rotate(-90)" font-size="22" text-anchor="middle">Log<tspan font-size="14.5" dy="5">2</tspan><tspan dy="-5">  fold change  (D10 - Baseline)</tspan></text>
</svg>
</body></html>
